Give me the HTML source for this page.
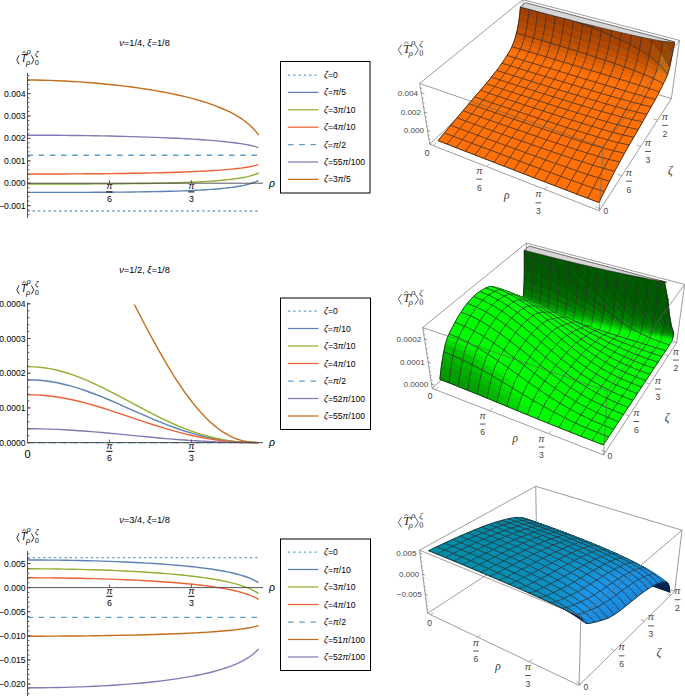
<!DOCTYPE html>
<html><head><meta charset="utf-8"><title>plots</title>
<style>html,body{margin:0;padding:0;background:#fff}svg{display:block}</style></head>
<body><svg width="685" height="696" viewBox="0 0 685 696">
<rect width="685" height="696" fill="#fff"/>
<text x="144.5" y="46.2" font-family="Liberation Sans, sans-serif" font-size="9.3" text-anchor="middle" fill="#000"><tspan font-style="italic">ν</tspan>=1/4, <tspan font-style="italic">ξ</tspan>=1/8</text><g font-family="Liberation Sans, sans-serif" fill="#000" font-style="italic" text-anchor="middle"><path d="M19.1,55.3L16.8,59.8L19.1,64.3M31.4,55.3L33.7,59.8L31.4,64.3" fill="none" stroke="#000" stroke-width="0.8"/><path d="M22.5,52.9L24.1,51.5L25.7,52.9" fill="none" stroke="#000" stroke-width="0.8"/><text x="20.8" y="62.0" font-size="10.3" text-anchor="start">T</text><text x="28.7" y="54.0" font-size="7.6">ρ</text><text x="28.2" y="64.9" font-size="7.6">ρ</text><text x="36.7" y="55.7" font-size="7.6">ζ</text><text x="36.7" y="65.2" font-size="7.4" font-style="normal">0</text></g><clipPath id="clip46"><rect x="0" y="71" width="290" height="696"/></clipPath><g fill="none" stroke-width="1.4" clip-path="url(#clip46)"><path d="M27.40,211.00 L34.86,211.00 L42.32,211.00 L49.77,211.00 L57.23,211.00 L64.69,211.00 L72.15,211.00 L79.60,211.00 L87.06,211.00 L94.52,211.00 L101.98,211.00 L109.43,211.00 L116.89,211.00 L124.35,211.00 L131.81,211.00 L139.26,211.00 L146.72,211.00 L154.18,211.00 L161.64,211.00 L169.09,211.00 L176.55,211.00 L184.01,211.00 L186.99,211.00 L189.97,211.00 L192.95,211.00 L195.94,211.00 L198.92,211.00 L201.90,211.00 L204.88,211.00 L207.86,211.00 L210.84,211.00 L213.83,211.00 L216.81,211.00 L219.79,211.00 L222.77,211.00 L225.75,211.00 L228.74,211.00 L231.72,211.00 L234.70,211.00 L237.68,211.00 L240.66,211.00 L243.64,211.00 L246.63,211.00 L249.61,211.00 L252.59,211.00 L255.57,211.00 L258.55,211.00" stroke="#5D9EC7" stroke-dasharray="2.2,3.1"/><path d="M27.40,192.40 L34.86,192.40 L42.32,192.40 L49.77,192.40 L57.23,192.39 L64.69,192.38 L72.15,192.37 L79.60,192.36 L87.06,192.33 L94.52,192.30 L101.98,192.27 L109.43,192.22 L116.89,192.17 L124.35,192.10 L131.81,192.01 L139.26,191.92 L146.72,191.80 L154.18,191.66 L161.64,191.50 L169.09,191.31 L176.55,191.09 L184.01,190.83 L186.99,190.71 L189.97,190.58 L192.95,190.45 L195.94,190.30 L198.92,190.15 L201.90,189.98 L204.88,189.81 L207.86,189.61 L210.84,189.41 L213.83,189.19 L216.81,188.94 L219.79,188.68 L222.77,188.40 L225.75,188.09 L228.74,187.74 L231.72,187.37 L234.70,186.95 L237.68,186.49 L240.66,185.97 L243.64,185.39 L246.63,184.72 L249.61,183.94 L252.59,183.03 L255.57,181.94 L258.55,180.60" stroke="#5E81B5"/><path d="M27.40,184.00 L34.86,184.00 L42.32,184.00 L49.77,184.00 L57.23,183.99 L64.69,183.99 L72.15,183.97 L79.60,183.96 L87.06,183.94 L94.52,183.91 L101.98,183.88 L109.43,183.83 L116.89,183.78 L124.35,183.72 L131.81,183.64 L139.26,183.55 L146.72,183.44 L154.18,183.31 L161.64,183.16 L169.09,182.98 L176.55,182.78 L184.01,182.53 L186.99,182.42 L189.97,182.31 L192.95,182.18 L195.94,182.05 L198.92,181.90 L201.90,181.75 L204.88,181.58 L207.86,181.40 L210.84,181.21 L213.83,181.00 L216.81,180.78 L219.79,180.53 L222.77,180.27 L225.75,179.98 L228.74,179.66 L231.72,179.31 L234.70,178.92 L237.68,178.49 L240.66,178.01 L243.64,177.46 L246.63,176.84 L249.61,176.11 L252.59,175.27 L255.57,174.25 L258.55,173.00" stroke="#8FB032"/><path d="M27.40,174.00 L34.86,174.00 L42.32,173.99 L49.77,173.98 L57.23,173.96 L64.69,173.94 L72.15,173.91 L79.60,173.87 L87.06,173.82 L94.52,173.77 L101.98,173.70 L109.43,173.62 L116.89,173.53 L124.35,173.43 L131.81,173.32 L139.26,173.19 L146.72,173.04 L154.18,172.88 L161.64,172.69 L169.09,172.49 L176.55,172.25 L184.01,171.99 L186.99,171.88 L189.97,171.76 L192.95,171.63 L195.94,171.50 L198.92,171.36 L201.90,171.21 L204.88,171.06 L207.86,170.89 L210.84,170.72 L213.83,170.53 L216.81,170.33 L219.79,170.12 L222.77,169.90 L225.75,169.65 L228.74,169.39 L231.72,169.11 L234.70,168.80 L237.68,168.47 L240.66,168.10 L243.64,167.69 L246.63,167.23 L249.61,166.72 L252.59,166.12 L255.57,165.43 L258.55,164.60" stroke="#EB6235"/><path d="M27.40,155.20 L34.86,155.20 L42.32,155.20 L49.77,155.20 L57.23,155.20 L64.69,155.20 L72.15,155.20 L79.60,155.20 L87.06,155.20 L94.52,155.20 L101.98,155.20 L109.43,155.20 L116.89,155.20 L124.35,155.20 L131.81,155.20 L139.26,155.20 L146.72,155.20 L154.18,155.20 L161.64,155.20 L169.09,155.20 L176.55,155.20 L184.01,155.20 L186.99,155.20 L189.97,155.20 L192.95,155.20 L195.94,155.20 L198.92,155.20 L201.90,155.20 L204.88,155.20 L207.86,155.20 L210.84,155.20 L213.83,155.20 L216.81,155.20 L219.79,155.20 L222.77,155.20 L225.75,155.20 L228.74,155.20 L231.72,155.20 L234.70,155.20 L237.68,155.20 L240.66,155.20 L243.64,155.20 L246.63,155.20 L249.61,155.20 L252.59,155.20 L255.57,155.20 L258.55,155.20" stroke="#5D9EC7" stroke-dasharray="5.6,5.6"/><path d="M27.40,135.20 L34.86,135.21 L42.32,135.23 L49.77,135.27 L57.23,135.32 L64.69,135.39 L72.15,135.47 L79.60,135.56 L87.06,135.67 L94.52,135.79 L101.98,135.92 L109.43,136.07 L116.89,136.24 L124.35,136.42 L131.81,136.62 L139.26,136.84 L146.72,137.08 L154.18,137.34 L161.64,137.63 L169.09,137.94 L176.55,138.29 L184.01,138.66 L186.99,138.82 L189.97,138.99 L192.95,139.17 L195.94,139.35 L198.92,139.54 L201.90,139.74 L204.88,139.95 L207.86,140.17 L210.84,140.40 L213.83,140.64 L216.81,140.90 L219.79,141.17 L222.77,141.45 L225.75,141.76 L228.74,142.08 L231.72,142.43 L234.70,142.80 L237.68,143.20 L240.66,143.64 L243.64,144.12 L246.63,144.65 L249.61,145.24 L252.59,145.91 L255.57,146.69 L258.55,147.60" stroke="#8778B3"/><path d="M27.40,80.00 L34.86,80.06 L42.32,80.20 L49.77,80.41 L57.23,80.69 L64.69,81.04 L72.15,81.45 L79.60,81.92 L87.06,82.45 L94.52,83.05 L101.98,83.71 L109.43,84.44 L116.89,85.24 L124.35,86.11 L131.81,87.06 L139.26,88.09 L146.72,89.21 L154.18,90.42 L161.64,91.74 L169.09,93.17 L176.55,94.72 L184.01,96.43 L186.99,97.15 L189.97,97.91 L192.95,98.69 L195.94,99.50 L198.92,100.35 L201.90,101.24 L204.88,102.16 L207.86,103.13 L210.84,104.14 L213.83,105.21 L216.81,106.33 L219.79,107.51 L222.77,108.75 L225.75,110.07 L228.74,111.48 L231.72,112.98 L234.70,114.59 L237.68,116.32 L240.66,118.20 L243.64,120.26 L246.63,122.52 L249.61,125.04 L252.59,127.89 L255.57,131.16 L258.55,135.00" stroke="#C56E1A"/></g><g stroke="#444" stroke-width="0.9" fill="none"><path d="M27.5,73 V218"/><path d="M27.5,183.2 H263"/><path d="M109.4,183.2 v-3"/><path d="M191.4,183.2 v-3"/><path d="M27.5,93.60 h3.2"/><path d="M27.5,116.00 h3.2"/><path d="M27.5,138.40 h3.2"/><path d="M27.5,160.80 h3.2"/><path d="M27.5,183.20 h3.2"/><path d="M27.5,205.60 h3.2"/><path d="M27.5,183.20 h1.9"/><path d="M27.5,178.72 h1.9"/><path d="M27.5,174.24 h1.9"/><path d="M27.5,169.76 h1.9"/><path d="M27.5,165.28 h1.9"/><path d="M27.5,160.80 h1.9"/><path d="M27.5,156.32 h1.9"/><path d="M27.5,151.84 h1.9"/><path d="M27.5,147.36 h1.9"/><path d="M27.5,142.88 h1.9"/><path d="M27.5,138.40 h1.9"/><path d="M27.5,133.92 h1.9"/><path d="M27.5,129.44 h1.9"/><path d="M27.5,124.96 h1.9"/><path d="M27.5,120.48 h1.9"/><path d="M27.5,116.00 h1.9"/><path d="M27.5,111.52 h1.9"/><path d="M27.5,107.04 h1.9"/><path d="M27.5,102.56 h1.9"/><path d="M27.5,98.08 h1.9"/><path d="M27.5,93.60 h1.9"/><path d="M27.5,89.12 h1.9"/><path d="M27.5,84.64 h1.9"/><path d="M27.5,80.16 h1.9"/><path d="M27.5,75.68 h1.9"/><path d="M27.5,187.68 h1.9"/><path d="M27.5,192.16 h1.9"/><path d="M27.5,196.64 h1.9"/><path d="M27.5,201.12 h1.9"/><path d="M27.5,205.60 h1.9"/><path d="M27.5,210.08 h1.9"/><path d="M27.5,214.56 h1.9"/></g><text x="25.6" y="96.65" font-family="Liberation Sans, sans-serif" font-size="8.6" text-anchor="end" fill="#000">0.004</text><text x="25.6" y="119.05" font-family="Liberation Sans, sans-serif" font-size="8.6" text-anchor="end" fill="#000">0.003</text><text x="25.6" y="141.45" font-family="Liberation Sans, sans-serif" font-size="8.6" text-anchor="end" fill="#000">0.002</text><text x="25.6" y="163.85" font-family="Liberation Sans, sans-serif" font-size="8.6" text-anchor="end" fill="#000">0.001</text><text x="25.6" y="186.25" font-family="Liberation Sans, sans-serif" font-size="8.6" text-anchor="end" fill="#000">0.000</text><text x="25.6" y="208.65" font-family="Liberation Sans, sans-serif" font-size="8.6" text-anchor="end" fill="#000">−0.001</text><g font-family="Liberation Sans, sans-serif" font-size="8.8" fill="#000" text-anchor="middle"><text x="109.4" y="189.2" font-style="italic">π</text><rect x="106.4" y="191.4" width="6.1" height="1"/><text x="109.4" y="201.6">6</text></g><g font-family="Liberation Sans, sans-serif" font-size="8.8" fill="#000" text-anchor="middle"><text x="191.4" y="189.2" font-style="italic">π</text><rect x="188.3" y="191.4" width="6.1" height="1"/><text x="191.4" y="201.6">3</text></g><text x="269" y="186.79999999999998" font-family="Liberation Sans, sans-serif" font-size="10.5" font-style="italic" fill="#000">ρ</text><text x="144.5" y="273.4" font-family="Liberation Sans, sans-serif" font-size="9.3" text-anchor="middle" fill="#000"><tspan font-style="italic">ν</tspan>=1/2, <tspan font-style="italic">ξ</tspan>=1/8</text><g font-family="Liberation Sans, sans-serif" fill="#000" font-style="italic" text-anchor="middle"><path d="M19.1,285.3L16.8,289.8L19.1,294.3M31.4,285.3L33.7,289.8L31.4,294.3" fill="none" stroke="#000" stroke-width="0.8"/><path d="M22.5,282.9L24.1,281.5L25.7,282.9" fill="none" stroke="#000" stroke-width="0.8"/><text x="20.8" y="292.0" font-size="10.3" text-anchor="start">T</text><text x="28.7" y="284.0" font-size="7.6">ρ</text><text x="28.2" y="294.9" font-size="7.6">ρ</text><text x="36.7" y="285.7" font-size="7.6">ζ</text><text x="36.7" y="295.2" font-size="7.4" font-style="normal">0</text></g><clipPath id="clip273"><rect x="0" y="304.5" width="290" height="696"/></clipPath><g fill="none" stroke-width="1.4" clip-path="url(#clip273)"><path d="M27.40,442.60 L34.86,442.60 L42.32,442.60 L49.77,442.60 L57.23,442.60 L64.69,442.60 L72.15,442.60 L79.60,442.60 L87.06,442.60 L94.52,442.60 L101.98,442.60 L109.43,442.60 L116.89,442.60 L124.35,442.60 L131.81,442.60 L139.26,442.60 L146.72,442.60 L154.18,442.60 L161.64,442.60 L169.09,442.60 L176.55,442.60 L184.01,442.60 L186.99,442.60 L189.97,442.60 L192.95,442.60 L195.94,442.60 L198.92,442.60 L201.90,442.60 L204.88,442.60 L207.86,442.60 L210.84,442.60 L213.83,442.60 L216.81,442.60 L219.79,442.60 L222.77,442.60 L225.75,442.60 L228.74,442.60 L231.72,442.60 L234.70,442.60 L237.68,442.60 L240.66,442.60 L243.64,442.60 L246.63,442.60 L249.61,442.60 L252.59,442.60 L255.57,442.60 L258.55,442.60" stroke="#5D9EC7" stroke-dasharray="2.2,3.1"/><path d="M27.40,379.79 L34.86,379.99 L42.32,380.56 L49.77,381.51 L57.23,382.81 L64.69,384.46 L72.15,386.43 L79.60,388.70 L87.06,391.22 L94.52,393.98 L101.98,396.92 L109.43,400.02 L116.89,403.23 L124.35,406.52 L131.81,409.83 L139.26,413.14 L146.72,416.40 L154.18,419.57 L161.64,422.62 L169.09,425.53 L176.55,428.26 L184.01,430.80 L186.99,431.75 L189.97,432.67 L192.95,433.55 L195.94,434.39 L198.92,435.19 L201.90,435.96 L204.88,436.68 L207.86,437.36 L210.84,438.00 L213.83,438.60 L216.81,439.16 L219.79,439.67 L222.77,440.14 L225.75,440.56 L228.74,440.94 L231.72,441.28 L234.70,441.58 L237.68,441.83 L240.66,442.04 L243.64,442.22 L246.63,442.35 L249.61,442.46 L252.59,442.53 L255.57,442.57 L258.55,442.60" stroke="#5E81B5"/><path d="M27.40,366.61 L34.86,366.84 L42.32,367.53 L49.77,368.68 L57.23,370.26 L64.69,372.26 L72.15,374.64 L79.60,377.38 L87.06,380.43 L94.52,383.77 L101.98,387.33 L109.43,391.08 L116.89,394.97 L124.35,398.94 L131.81,402.95 L139.26,406.95 L146.72,410.89 L154.18,414.73 L161.64,418.43 L169.09,421.95 L176.55,425.25 L184.01,428.32 L186.99,429.47 L189.97,430.58 L192.95,431.64 L195.94,432.66 L198.92,433.64 L201.90,434.56 L204.88,435.44 L207.86,436.26 L210.84,437.04 L213.83,437.76 L216.81,438.43 L219.79,439.05 L222.77,439.62 L225.75,440.13 L228.74,440.60 L231.72,441.01 L234.70,441.36 L237.68,441.67 L240.66,441.93 L243.64,442.14 L246.63,442.30 L249.61,442.42 L252.59,442.51 L255.57,442.57 L258.55,442.60" stroke="#8FB032"/><path d="M27.40,394.71 L34.86,394.86 L42.32,395.30 L49.77,396.02 L57.23,397.02 L64.69,398.27 L72.15,399.78 L79.60,401.50 L87.06,403.43 L94.52,405.53 L101.98,407.77 L109.43,410.14 L116.89,412.59 L124.35,415.09 L131.81,417.62 L139.26,420.14 L146.72,422.62 L154.18,425.04 L161.64,427.37 L169.09,429.59 L176.55,431.67 L184.01,433.60 L186.99,434.33 L189.97,435.03 L192.95,435.70 L195.94,436.34 L198.92,436.95 L201.90,437.53 L204.88,438.09 L207.86,438.61 L210.84,439.09 L213.83,439.55 L216.81,439.97 L219.79,440.36 L222.77,440.72 L225.75,441.05 L228.74,441.34 L231.72,441.60 L234.70,441.82 L237.68,442.01 L240.66,442.17 L243.64,442.31 L246.63,442.41 L249.61,442.49 L252.59,442.55 L255.57,442.58 L258.55,442.60" stroke="#EB6235"/><path d="M27.40,442.60 L34.86,442.60 L42.32,442.60 L49.77,442.60 L57.23,442.60 L64.69,442.60 L72.15,442.60 L79.60,442.60 L87.06,442.60 L94.52,442.60 L101.98,442.60 L109.43,442.60 L116.89,442.60 L124.35,442.60 L131.81,442.60 L139.26,442.60 L146.72,442.60 L154.18,442.60 L161.64,442.60 L169.09,442.60 L176.55,442.60 L184.01,442.60 L186.99,442.60 L189.97,442.60 L192.95,442.60 L195.94,442.60 L198.92,442.60 L201.90,442.60 L204.88,442.60 L207.86,442.60 L210.84,442.60 L213.83,442.60 L216.81,442.60 L219.79,442.60 L222.77,442.60 L225.75,442.60 L228.74,442.60 L231.72,442.60 L234.70,442.60 L237.68,442.60 L240.66,442.60 L243.64,442.60 L246.63,442.60 L249.61,442.60 L252.59,442.60 L255.57,442.60 L258.55,442.60" stroke="#5D9EC7" stroke-dasharray="5.6,5.6"/><path d="M27.40,428.72 L34.86,428.76 L42.32,428.89 L49.77,429.10 L57.23,429.39 L64.69,429.75 L72.15,430.19 L79.60,430.69 L87.06,431.25 L94.52,431.85 L101.98,432.51 L109.43,433.19 L116.89,433.90 L124.35,434.63 L131.81,435.36 L139.26,436.09 L146.72,436.81 L154.18,437.51 L161.64,438.19 L169.09,438.83 L176.55,439.43 L184.01,439.99 L186.99,440.20 L189.97,440.40 L192.95,440.60 L195.94,440.79 L198.92,440.96 L201.90,441.13 L204.88,441.29 L207.86,441.44 L210.84,441.58 L213.83,441.72 L216.81,441.84 L219.79,441.95 L222.77,442.06 L225.75,442.15 L228.74,442.23 L231.72,442.31 L234.70,442.37 L237.68,442.43 L240.66,442.48 L243.64,442.52 L246.63,442.55 L249.61,442.57 L252.59,442.58 L255.57,442.59 L258.55,442.60" stroke="#8778B3"/><path d="M27.40,168.47 L34.86,169.31 L42.32,171.81 L49.77,175.94 L57.23,181.65 L64.69,188.85 L72.15,197.45 L79.60,207.33 L87.06,218.35 L94.52,230.37 L101.98,243.23 L109.43,256.76 L116.89,270.78 L124.35,285.11 L131.81,299.58 L139.26,314.01 L146.72,328.23 L154.18,342.08 L161.64,355.41 L169.09,368.10 L176.55,380.02 L184.01,391.08 L186.99,395.24 L189.97,399.24 L192.95,403.08 L195.94,406.76 L198.92,410.26 L201.90,413.60 L204.88,416.76 L207.86,419.73 L210.84,422.53 L213.83,425.14 L216.81,427.57 L219.79,429.80 L222.77,431.85 L225.75,433.71 L228.74,435.37 L231.72,436.85 L234.70,438.14 L237.68,439.24 L240.66,440.17 L243.64,440.92 L246.63,441.52 L249.61,441.97 L252.59,442.29 L255.57,442.49 L258.55,442.60" stroke="#C56E1A"/></g><g stroke="#444" stroke-width="0.9" fill="none"><path d="M27.5,302.4 V442.6"/><path d="M27.5,442.6 H263"/><path d="M109.4,442.6 v-3"/><path d="M191.4,442.6 v-3"/><path d="M27.5,303.80 h3.2"/><path d="M27.5,338.50 h3.2"/><path d="M27.5,373.20 h3.2"/><path d="M27.5,407.90 h3.2"/><path d="M27.5,442.60 h3.2"/><path d="M27.5,442.60 h1.9"/><path d="M27.5,435.66 h1.9"/><path d="M27.5,428.72 h1.9"/><path d="M27.5,421.78 h1.9"/><path d="M27.5,414.84 h1.9"/><path d="M27.5,407.90 h1.9"/><path d="M27.5,400.96 h1.9"/><path d="M27.5,394.02 h1.9"/><path d="M27.5,387.08 h1.9"/><path d="M27.5,380.14 h1.9"/><path d="M27.5,373.20 h1.9"/><path d="M27.5,366.26 h1.9"/><path d="M27.5,359.32 h1.9"/><path d="M27.5,352.38 h1.9"/><path d="M27.5,345.44 h1.9"/><path d="M27.5,338.50 h1.9"/><path d="M27.5,331.56 h1.9"/><path d="M27.5,324.62 h1.9"/><path d="M27.5,317.68 h1.9"/><path d="M27.5,310.74 h1.9"/><path d="M27.5,303.80 h1.9"/></g><text x="25.6" y="306.85" font-family="Liberation Sans, sans-serif" font-size="8.6" text-anchor="end" fill="#000">0.0004</text><text x="25.6" y="341.55" font-family="Liberation Sans, sans-serif" font-size="8.6" text-anchor="end" fill="#000">0.0003</text><text x="25.6" y="376.25" font-family="Liberation Sans, sans-serif" font-size="8.6" text-anchor="end" fill="#000">0.0002</text><text x="25.6" y="410.95" font-family="Liberation Sans, sans-serif" font-size="8.6" text-anchor="end" fill="#000">0.0001</text><text x="25.6" y="445.65" font-family="Liberation Sans, sans-serif" font-size="8.6" text-anchor="end" fill="#000">0.0000</text><g font-family="Liberation Sans, sans-serif" font-size="8.8" fill="#000" text-anchor="middle"><text x="109.4" y="448.6" font-style="italic">π</text><rect x="106.4" y="450.8" width="6.1" height="1"/><text x="109.4" y="461.0">6</text></g><g font-family="Liberation Sans, sans-serif" font-size="8.8" fill="#000" text-anchor="middle"><text x="191.4" y="448.6" font-style="italic">π</text><rect x="188.3" y="450.8" width="6.1" height="1"/><text x="191.4" y="461.0">3</text></g><text x="269" y="446.20000000000005" font-family="Liberation Sans, sans-serif" font-size="10.5" font-style="italic" fill="#000">ρ</text><text x="27.5" y="457.6" font-family="Liberation Sans, sans-serif" font-size="11" text-anchor="middle" fill="#000">0</text><text x="144.5" y="523.4" font-family="Liberation Sans, sans-serif" font-size="9.3" text-anchor="middle" fill="#000"><tspan font-style="italic">ν</tspan>=3/4, <tspan font-style="italic">ξ</tspan>=1/8</text><g font-family="Liberation Sans, sans-serif" fill="#000" font-style="italic" text-anchor="middle"><path d="M19.1,533.3L16.8,537.8L19.1,542.3M31.4,533.3L33.7,537.8L31.4,542.3" fill="none" stroke="#000" stroke-width="0.8"/><path d="M22.5,530.9L24.1,529.5L25.7,530.9" fill="none" stroke="#000" stroke-width="0.8"/><text x="20.8" y="540.0" font-size="10.3" text-anchor="start">T</text><text x="28.7" y="532.0" font-size="7.6">ρ</text><text x="28.2" y="542.9" font-size="7.6">ρ</text><text x="36.7" y="533.7" font-size="7.6">ζ</text><text x="36.7" y="543.2" font-size="7.4" font-style="normal">0</text></g><clipPath id="clip523"><rect x="0" y="549" width="290" height="696"/></clipPath><g fill="none" stroke-width="1.4" clip-path="url(#clip523)"><path d="M27.40,557.60 L34.86,557.60 L42.32,557.60 L49.77,557.60 L57.23,557.60 L64.69,557.60 L72.15,557.60 L79.60,557.60 L87.06,557.60 L94.52,557.60 L101.98,557.60 L109.43,557.60 L116.89,557.60 L124.35,557.60 L131.81,557.60 L139.26,557.60 L146.72,557.60 L154.18,557.60 L161.64,557.60 L169.09,557.60 L176.55,557.60 L184.01,557.60 L186.99,557.60 L189.97,557.60 L192.95,557.60 L195.94,557.60 L198.92,557.60 L201.90,557.60 L204.88,557.60 L207.86,557.60 L210.84,557.60 L213.83,557.60 L216.81,557.60 L219.79,557.60 L222.77,557.60 L225.75,557.60 L228.74,557.60 L231.72,557.60 L234.70,557.60 L237.68,557.60 L240.66,557.60 L243.64,557.60 L246.63,557.60 L249.61,557.60 L252.59,557.60 L255.57,557.60 L258.55,557.60" stroke="#5D9EC7" stroke-dasharray="2.2,3.1"/><path d="M27.40,560.00 L34.86,560.01 L42.32,560.04 L49.77,560.10 L57.23,560.17 L64.69,560.27 L72.15,560.40 L79.60,560.54 L87.06,560.71 L94.52,560.91 L101.98,561.13 L109.43,561.38 L116.89,561.66 L124.35,561.97 L131.81,562.31 L139.26,562.69 L146.72,563.10 L154.18,563.56 L161.64,564.06 L169.09,564.62 L176.55,565.23 L184.01,565.90 L186.99,566.19 L189.97,566.49 L192.95,566.81 L195.94,567.14 L198.92,567.49 L201.90,567.85 L204.88,568.23 L207.86,568.63 L210.84,569.05 L213.83,569.50 L216.81,569.97 L219.79,570.46 L222.77,570.99 L225.75,571.56 L228.74,572.16 L231.72,572.80 L234.70,573.50 L237.68,574.25 L240.66,575.07 L243.64,575.98 L246.63,576.98 L249.61,578.10 L252.59,579.38 L255.57,580.85 L258.55,582.60" stroke="#5E81B5"/><path d="M27.40,568.80 L34.86,568.81 L42.32,568.85 L49.77,568.91 L57.23,568.99 L64.69,569.10 L72.15,569.24 L79.60,569.40 L87.06,569.58 L94.52,569.80 L101.98,570.04 L109.43,570.31 L116.89,570.62 L124.35,570.96 L131.81,571.33 L139.26,571.75 L146.72,572.20 L154.18,572.71 L161.64,573.26 L169.09,573.86 L176.55,574.53 L184.01,575.28 L186.99,575.59 L189.97,575.93 L192.95,576.27 L195.94,576.64 L198.92,577.02 L201.90,577.42 L204.88,577.83 L207.86,578.27 L210.84,578.74 L213.83,579.22 L216.81,579.74 L219.79,580.28 L222.77,580.86 L225.75,581.48 L228.74,582.14 L231.72,582.85 L234.70,583.61 L237.68,584.44 L240.66,585.34 L243.64,586.33 L246.63,587.43 L249.61,588.66 L252.59,590.06 L255.57,591.68 L258.55,593.60" stroke="#8FB032"/><path d="M27.40,577.80 L34.86,577.81 L42.32,577.84 L49.77,577.89 L57.23,577.97 L64.69,578.06 L72.15,578.18 L79.60,578.32 L87.06,578.48 L94.52,578.67 L101.98,578.88 L109.43,579.12 L116.89,579.39 L124.35,579.68 L131.81,580.01 L139.26,580.37 L146.72,580.77 L154.18,581.20 L161.64,581.68 L169.09,582.21 L176.55,582.79 L184.01,583.44 L186.99,583.72 L189.97,584.01 L192.95,584.31 L195.94,584.63 L198.92,584.96 L201.90,585.30 L204.88,585.67 L207.86,586.05 L210.84,586.45 L213.83,586.88 L216.81,587.33 L219.79,587.80 L222.77,588.31 L225.75,588.84 L228.74,589.42 L231.72,590.04 L234.70,590.70 L237.68,591.42 L240.66,592.21 L243.64,593.07 L246.63,594.03 L249.61,595.10 L252.59,596.32 L255.57,597.73 L258.55,599.40" stroke="#EB6235"/><path d="M27.40,617.40 L34.86,617.40 L42.32,617.40 L49.77,617.40 L57.23,617.40 L64.69,617.40 L72.15,617.40 L79.60,617.40 L87.06,617.40 L94.52,617.40 L101.98,617.40 L109.43,617.40 L116.89,617.40 L124.35,617.40 L131.81,617.40 L139.26,617.40 L146.72,617.40 L154.18,617.40 L161.64,617.40 L169.09,617.40 L176.55,617.40 L184.01,617.40 L186.99,617.40 L189.97,617.40 L192.95,617.40 L195.94,617.40 L198.92,617.40 L201.90,617.40 L204.88,617.40 L207.86,617.40 L210.84,617.40 L213.83,617.40 L216.81,617.40 L219.79,617.40 L222.77,617.40 L225.75,617.40 L228.74,617.40 L231.72,617.40 L234.70,617.40 L237.68,617.40 L240.66,617.40 L243.64,617.40 L246.63,617.40 L249.61,617.40 L252.59,617.40 L255.57,617.40 L258.55,617.40" stroke="#5D9EC7" stroke-dasharray="5.6,5.6"/><path d="M27.40,636.20 L34.86,636.19 L42.32,636.18 L49.77,636.15 L57.23,636.12 L64.69,636.07 L72.15,636.01 L79.60,635.95 L87.06,635.87 L94.52,635.77 L101.98,635.67 L109.43,635.55 L116.89,635.42 L124.35,635.28 L131.81,635.12 L139.26,634.94 L146.72,634.74 L154.18,634.53 L161.64,634.29 L169.09,634.04 L176.55,633.75 L184.01,633.43 L186.99,633.30 L189.97,633.15 L192.95,633.01 L195.94,632.85 L198.92,632.69 L201.90,632.52 L204.88,632.34 L207.86,632.15 L210.84,631.95 L213.83,631.75 L216.81,631.53 L219.79,631.29 L222.77,631.04 L225.75,630.78 L228.74,630.50 L231.72,630.20 L234.70,629.87 L237.68,629.52 L240.66,629.13 L243.64,628.71 L246.63,628.24 L249.61,627.71 L252.59,627.11 L255.57,626.42 L258.55,625.60" stroke="#C56E1A"/><path d="M27.40,687.80 L34.86,687.78 L42.32,687.73 L49.77,687.63 L57.23,687.50 L64.69,687.33 L72.15,687.12 L79.60,686.87 L87.06,686.58 L94.52,686.24 L101.98,685.86 L109.43,685.43 L116.89,684.95 L124.35,684.42 L131.81,683.83 L139.26,683.19 L146.72,682.47 L154.18,681.69 L161.64,680.83 L169.09,679.88 L176.55,678.83 L184.01,677.67 L186.99,677.17 L189.97,676.65 L192.95,676.11 L195.94,675.54 L198.92,674.94 L201.90,674.32 L204.88,673.67 L207.86,672.98 L210.84,672.26 L213.83,671.49 L216.81,670.69 L219.79,669.83 L222.77,668.93 L225.75,667.96 L228.74,666.93 L231.72,665.82 L234.70,664.63 L237.68,663.33 L240.66,661.92 L243.64,660.37 L246.63,658.65 L249.61,656.72 L252.59,654.53 L255.57,652.00 L258.55,649.00" stroke="#8778B3"/></g><g stroke="#444" stroke-width="0.9" fill="none"><path d="M27.5,551 V696"/><path d="M27.5,587.6 H263"/><path d="M109.4,587.6 v-3"/><path d="M191.4,587.6 v-3"/><path d="M27.5,563.50 h3.2"/><path d="M27.5,587.60 h3.2"/><path d="M27.5,611.70 h3.2"/><path d="M27.5,635.80 h3.2"/><path d="M27.5,659.90 h3.2"/><path d="M27.5,684.00 h3.2"/><path d="M27.5,587.60 h1.9"/><path d="M27.5,582.78 h1.9"/><path d="M27.5,577.96 h1.9"/><path d="M27.5,573.14 h1.9"/><path d="M27.5,568.32 h1.9"/><path d="M27.5,563.50 h1.9"/><path d="M27.5,558.68 h1.9"/><path d="M27.5,553.86 h1.9"/><path d="M27.5,592.42 h1.9"/><path d="M27.5,597.24 h1.9"/><path d="M27.5,602.06 h1.9"/><path d="M27.5,606.88 h1.9"/><path d="M27.5,611.70 h1.9"/><path d="M27.5,616.52 h1.9"/><path d="M27.5,621.34 h1.9"/><path d="M27.5,626.16 h1.9"/><path d="M27.5,630.98 h1.9"/><path d="M27.5,635.80 h1.9"/><path d="M27.5,640.62 h1.9"/><path d="M27.5,645.44 h1.9"/><path d="M27.5,650.26 h1.9"/><path d="M27.5,655.08 h1.9"/><path d="M27.5,659.90 h1.9"/><path d="M27.5,664.72 h1.9"/><path d="M27.5,669.54 h1.9"/><path d="M27.5,674.36 h1.9"/><path d="M27.5,679.18 h1.9"/><path d="M27.5,684.00 h1.9"/><path d="M27.5,688.82 h1.9"/><path d="M27.5,693.64 h1.9"/></g><text x="25.6" y="566.55" font-family="Liberation Sans, sans-serif" font-size="8.6" text-anchor="end" fill="#000">0.005</text><text x="25.6" y="590.65" font-family="Liberation Sans, sans-serif" font-size="8.6" text-anchor="end" fill="#000">0.000</text><text x="25.6" y="614.75" font-family="Liberation Sans, sans-serif" font-size="8.6" text-anchor="end" fill="#000">−0.005</text><text x="25.6" y="638.85" font-family="Liberation Sans, sans-serif" font-size="8.6" text-anchor="end" fill="#000">−0.010</text><text x="25.6" y="662.95" font-family="Liberation Sans, sans-serif" font-size="8.6" text-anchor="end" fill="#000">−0.015</text><text x="25.6" y="687.05" font-family="Liberation Sans, sans-serif" font-size="8.6" text-anchor="end" fill="#000">−0.020</text><g font-family="Liberation Sans, sans-serif" font-size="8.8" fill="#000" text-anchor="middle"><text x="109.4" y="593.6" font-style="italic">π</text><rect x="106.4" y="595.8" width="6.1" height="1"/><text x="109.4" y="605.9">6</text></g><g font-family="Liberation Sans, sans-serif" font-size="8.8" fill="#000" text-anchor="middle"><text x="191.4" y="593.6" font-style="italic">π</text><rect x="188.3" y="595.8" width="6.1" height="1"/><text x="191.4" y="605.9">3</text></g><text x="269" y="591.2" font-family="Liberation Sans, sans-serif" font-size="10.5" font-style="italic" fill="#000">ρ</text><rect x="280.5" y="61.5" width="89.5" height="131.5" fill="#fff" stroke="#000" stroke-width="1"/><path d="M288.0,75.0 h30.5" stroke="#5D9EC7" stroke-width="1.25" fill="none" stroke-dasharray="2.2,3.1"/><text x="324.0" y="78.0" font-family="Liberation Sans, sans-serif" font-size="8.6" fill="#000"><tspan font-style="italic">ζ</tspan>=0</text><path d="M288.0,92.4 h30.5" stroke="#5E81B5" stroke-width="1.25" fill="none"/><text x="324.0" y="95.4" font-family="Liberation Sans, sans-serif" font-size="8.6" fill="#000"><tspan font-style="italic">ζ</tspan>=<tspan font-style="italic">π</tspan>/5</text><path d="M288.0,109.8 h30.5" stroke="#8FB032" stroke-width="1.25" fill="none"/><text x="324.0" y="112.8" font-family="Liberation Sans, sans-serif" font-size="8.6" fill="#000"><tspan font-style="italic">ζ</tspan>=3<tspan font-style="italic">π</tspan>/10</text><path d="M288.0,127.19999999999999 h30.5" stroke="#EB6235" stroke-width="1.25" fill="none"/><text x="324.0" y="130.2" font-family="Liberation Sans, sans-serif" font-size="8.6" fill="#000"><tspan font-style="italic">ζ</tspan>=4<tspan font-style="italic">π</tspan>/10</text><path d="M288.0,144.6 h30.5" stroke="#5D9EC7" stroke-width="1.25" fill="none" stroke-dasharray="5.6,5.6"/><text x="324.0" y="147.6" font-family="Liberation Sans, sans-serif" font-size="8.6" fill="#000"><tspan font-style="italic">ζ</tspan>=<tspan font-style="italic">π</tspan>/2</text><path d="M288.0,162.0 h30.5" stroke="#8778B3" stroke-width="1.25" fill="none"/><text x="324.0" y="165.0" font-family="Liberation Sans, sans-serif" font-size="8.6" fill="#000"><tspan font-style="italic">ζ</tspan>=55<tspan font-style="italic">π</tspan>/100</text><path d="M288.0,179.39999999999998 h30.5" stroke="#C56E1A" stroke-width="1.25" fill="none"/><text x="324.0" y="182.39999999999998" font-family="Liberation Sans, sans-serif" font-size="8.6" fill="#000"><tspan font-style="italic">ζ</tspan>=3<tspan font-style="italic">π</tspan>/5</text><rect x="280.5" y="298" width="90" height="131.5" fill="#fff" stroke="#000" stroke-width="1"/><path d="M288.0,311.0 h30.5" stroke="#5D9EC7" stroke-width="1.25" fill="none" stroke-dasharray="2.2,3.1"/><text x="324.0" y="314.0" font-family="Liberation Sans, sans-serif" font-size="8.6" fill="#000"><tspan font-style="italic">ζ</tspan>=0</text><path d="M288.0,328.5 h30.5" stroke="#5E81B5" stroke-width="1.25" fill="none"/><text x="324.0" y="331.5" font-family="Liberation Sans, sans-serif" font-size="8.6" fill="#000"><tspan font-style="italic">ζ</tspan>=<tspan font-style="italic">π</tspan>/10</text><path d="M288.0,346.0 h30.5" stroke="#8FB032" stroke-width="1.25" fill="none"/><text x="324.0" y="349.0" font-family="Liberation Sans, sans-serif" font-size="8.6" fill="#000"><tspan font-style="italic">ζ</tspan>=3<tspan font-style="italic">π</tspan>/10</text><path d="M288.0,363.5 h30.5" stroke="#EB6235" stroke-width="1.25" fill="none"/><text x="324.0" y="366.5" font-family="Liberation Sans, sans-serif" font-size="8.6" fill="#000"><tspan font-style="italic">ζ</tspan>=4<tspan font-style="italic">π</tspan>/10</text><path d="M288.0,381.0 h30.5" stroke="#5D9EC7" stroke-width="1.25" fill="none" stroke-dasharray="5.6,5.6"/><text x="324.0" y="384.0" font-family="Liberation Sans, sans-serif" font-size="8.6" fill="#000"><tspan font-style="italic">ζ</tspan>=<tspan font-style="italic">π</tspan>/2</text><path d="M288.0,398.5 h30.5" stroke="#8778B3" stroke-width="1.25" fill="none"/><text x="324.0" y="401.5" font-family="Liberation Sans, sans-serif" font-size="8.6" fill="#000"><tspan font-style="italic">ζ</tspan>=52<tspan font-style="italic">π</tspan>/100</text><path d="M288.0,416.0 h30.5" stroke="#C56E1A" stroke-width="1.25" fill="none"/><text x="324.0" y="419.0" font-family="Liberation Sans, sans-serif" font-size="8.6" fill="#000"><tspan font-style="italic">ζ</tspan>=55<tspan font-style="italic">π</tspan>/100</text><rect x="280.5" y="539" width="90" height="131.5" fill="#fff" stroke="#000" stroke-width="1"/><path d="M288.0,552.0 h30.5" stroke="#5D9EC7" stroke-width="1.25" fill="none" stroke-dasharray="2.2,3.1"/><text x="324.0" y="555.0" font-family="Liberation Sans, sans-serif" font-size="8.6" fill="#000"><tspan font-style="italic">ζ</tspan>=0</text><path d="M288.0,569.5 h30.5" stroke="#5E81B5" stroke-width="1.25" fill="none"/><text x="324.0" y="572.5" font-family="Liberation Sans, sans-serif" font-size="8.6" fill="#000"><tspan font-style="italic">ζ</tspan>=<tspan font-style="italic">π</tspan>/10</text><path d="M288.0,587.0 h30.5" stroke="#8FB032" stroke-width="1.25" fill="none"/><text x="324.0" y="590.0" font-family="Liberation Sans, sans-serif" font-size="8.6" fill="#000"><tspan font-style="italic">ζ</tspan>=3<tspan font-style="italic">π</tspan>/10</text><path d="M288.0,604.5 h30.5" stroke="#EB6235" stroke-width="1.25" fill="none"/><text x="324.0" y="607.5" font-family="Liberation Sans, sans-serif" font-size="8.6" fill="#000"><tspan font-style="italic">ζ</tspan>=4<tspan font-style="italic">π</tspan>/10</text><path d="M288.0,622.0 h30.5" stroke="#5D9EC7" stroke-width="1.25" fill="none" stroke-dasharray="5.6,5.6"/><text x="324.0" y="625.0" font-family="Liberation Sans, sans-serif" font-size="8.6" fill="#000"><tspan font-style="italic">ζ</tspan>=<tspan font-style="italic">π</tspan>/2</text><path d="M288.0,639.5 h30.5" stroke="#C56E1A" stroke-width="1.25" fill="none"/><text x="324.0" y="642.5" font-family="Liberation Sans, sans-serif" font-size="8.6" fill="#000"><tspan font-style="italic">ζ</tspan>=51<tspan font-style="italic">π</tspan>/100</text><path d="M288.0,657.0 h30.5" stroke="#8778B3" stroke-width="1.25" fill="none"/><text x="324.0" y="660.0" font-family="Liberation Sans, sans-serif" font-size="8.6" fill="#000"><tspan font-style="italic">ζ</tspan>=52<tspan font-style="italic">π</tspan>/100</text><g stroke="#5a5a5a" stroke-width="0.6" fill="none" opacity="1"><path d="M525.0,54.6L429.7,144.2"/><path d="M525.0,54.6L671.4,98.6"/><path d="M525.0,54.6L523.0,-0.4"/></g><g fill="none" stroke-linejoin="round"><g fill="currentColor" stroke="currentColor" stroke-width=".7"><path color="#914104" d="M663.1,41.3l9,14 2.5-12.9-10-3.2z"/></g><path d="M672.1,55.3l2.5-12.9" stroke="#1a1a1a" stroke-width="0.8"/><g fill="currentColor" stroke="currentColor" stroke-width=".7"><path color="#943b01" d="M641.8,37.2l9.7,6.8 .8-4.6-9.1-3.9z"/><path color="#983e02" d="M651.5,44l9.3,10 2.3-12.7-10.8-1.9z"/><path color="#9b4705" d="M660.8,54l8.6,14.8 2.7-13.5-9-14z"/></g><path d="M651.5,44l.8-4.6M660.8,54l2.3-12.7" stroke="#2e2a2a" stroke-opacity="0.84" stroke-width="0.9"/><path d="M669.4,68.8l2.7-13.5" stroke="#1a1a1a" stroke-width="0.8"/><g fill="currentColor" stroke="currentColor" stroke-width=".7"><path color="#993c01" d="M564.4,18.5l9.1,2.6 0-.2-7.5-3.9z"/><path color="#9d3e01" d="M573.5,21.1l9.2,3.3 .1-1.1-9.3-2.4z"/><path color="#9d3e01" d="M582.7,24.4l9.3,3.4 .3-2.2-9.5-2.3z"/><path color="#9e3e02" d="M592,27.8l9.3,3.7 .6-3.5-9.6-2.4z"/><path color="#9e3f02" d="M601.3,31.5l9.5,4 .8-5.2-9.7-2.3z"/><path color="#9f3f02" d="M610.8,35.5l9.5,4.3 1.2-7.1-9.9-2.4z"/><path color="#a04002" d="M620.3,39.8l9.6,4.7 1.7-9.5-10.1-2.3z"/><path color="#a14102" d="M629.9,44.5l9.6,5.3 2.3-12.6-10.2-2.2z"/><path color="#a54403" d="M639.5,49.8l9.6,6.1 2.4-11.9-9.7-6.8z"/><path color="#ad4c04" d="M649.1,55.9l9.5,7.6 2.2-9.5-9.3-10z"/><path color="#bf6a0d" d="M658.6,63.5l9,10.9 1.8-5.6-8.6-14.8z"/></g><path d="M573.5,21.1l0-.2M582.7,24.4l.1-1.1M592,27.8l.3-2.2M601.3,31.5l.6-3.5M610.8,35.5l.8-5.2M620.3,39.8l1.2-7.1M629.9,44.5l1.7-9.5M639.5,49.8l2.3-12.6M649.1,55.9l2.4-11.9M658.6,63.5l2.2-9.5" stroke="#2e2a2a" stroke-opacity="0.84" stroke-width="0.9"/><path d="M667.6,74.4l1.8-5.6" stroke="#1a1a1a" stroke-width="0.8"/><g fill="currentColor" stroke="currentColor" stroke-width=".7"><path color="#a14002" d="M519.7,14.8l8.5,2.4 .8-7.9-8.6-2.3z"/><path color="#a14002" d="M528.2,17.2l8.6,2.5 .8-8.1-8.6-2.3z"/><path color="#a14002" d="M536.8,19.7l8.7,2.5 .9-8.3-8.8-2.3z"/><path color="#a14002" d="M545.5,22.2l8.8,2.7 1-8.7-8.9-2.3z"/><path color="#a14002" d="M554.3,24.9l8.9,2.8 1.2-9.2-9.1-2.3z"/><path color="#a24002" d="M563.2,27.7l9,3 1.3-9.6-9.1-2.6z"/><path color="#a24102" d="M572.2,30.7l9.1,3 1.4-9.3-9.2-3.3z"/><path color="#a34102" d="M581.3,33.7l9.2,3.3 1.5-9.2-9.3-3.4z"/><path color="#a44202" d="M590.5,37l9.4,3.4 1.4-8.9-9.3-3.7z"/><path color="#a64302" d="M599.9,40.4l9.4,3.6 1.5-8.5-9.5-4z"/><path color="#a84402" d="M609.3,44l9.5,3.9 1.5-8.1-9.5-4.3z"/><path color="#ab4502" d="M618.8,47.9l9.5,4.2 1.6-7.6-9.6-4.7z"/><path color="#ae4803" d="M628.3,52.1l9.7,4.6 1.5-6.9-9.6-5.3z"/><path color="#b44c03" d="M638,56.7l9.6,5.3 1.5-6.1-9.6-6.1z"/><path color="#be5405" d="M647.6,62l9.6,6.3 1.4-4.8-9.5-7.6z"/><path color="#d2710c" d="M657.2,68.3l9.3,8.8 1.1-2.7-9-10.9z"/></g><path d="M520.4,7l8.6,2.3 8.6,2.3 8.8,2.3 8.9,2.3 9.1,2.3 9.1,2.6 9.2,3.3 9.3,3.4 9.3,3.7 9.5,4 9.5,4.3 9.6,4.7 9.6,5.3 9.6,6.1 9.5,7.6 9,10.9M528.2,17.2l.8-7.9M536.8,19.7l.8-8.1M545.5,22.2l.9-8.3M554.3,24.9l1-8.7M563.2,27.7l1.2-9.2M572.2,30.7l1.3-9.6M581.3,33.7l1.4-9.3M590.5,37l1.5-9.2M599.9,40.4l1.4-8.9M609.3,44l1.5-8.5M618.8,47.9l1.5-8.1M628.3,52.1l1.6-7.6M638,56.7l1.5-6.9M647.6,62l1.5-6.1M657.2,68.3l1.4-4.8" stroke="#2e2a2a" stroke-opacity="0.84" stroke-width="0.9"/><path d="M519.7,14.8l.7-7.8M666.5,77.1l1.1-2.7" stroke="#1a1a1a" stroke-width="0.8"/><g fill="currentColor" stroke="currentColor" stroke-width=".7"><path color="#aa4502" d="M518.7,22.3l8.4,2.4 1.1-7.5-8.5-2.4z"/><path color="#aa4502" d="M527.1,24.7l8.6,2.5 1.1-7.5-8.6-2.5z"/><path color="#ab4502" d="M535.7,27.2l8.6,2.5 1.2-7.5-8.7-2.5z"/><path color="#ab4502" d="M544.3,29.7l8.8,2.7 1.2-7.5-8.8-2.7z"/><path color="#ac4502" d="M553.1,32.4l8.9,2.7 1.2-7.4-8.9-2.8z"/><path color="#ac4602" d="M562,35.1l8.9,2.9 1.3-7.3-9-3z"/><path color="#ad4602" d="M570.9,38l9.1,2.9 1.3-7.2-9.1-3z"/><path color="#ae4702" d="M580,40.9l9.2,3.1 1.3-7-9.2-3.3z"/><path color="#b04802" d="M589.2,44l9.3,3.2 1.4-6.8-9.4-3.4z"/><path color="#b24902" d="M598.5,47.2l9.4,3.4 1.4-6.6-9.4-3.6z"/><path color="#b44a03" d="M607.9,50.6l9.5,3.6 1.4-6.3-9.5-3.9z"/><path color="#b84c03" d="M617.4,54.2l9.5,3.8 1.4-5.9-9.5-4.2z"/><path color="#bc4f03" d="M626.9,58l9.7,4.2 1.4-5.5-9.7-4.6z"/><path color="#c35304" d="M636.6,62.2l9.7,4.6 1.3-4.8-9.6-5.3z"/><path color="#ce5c05" d="M646.3,66.8l9.7,5.4 1.2-3.9-9.6-6.3z"/><path color="#e2740b" d="M656,72.2l9.5,7.3 1-2.4-9.3-8.8z"/></g><path d="M527.1,24.7l1.1-7.5M535.7,27.2l1.1-7.5M544.3,29.7l1.2-7.5M553.1,32.4l1.2-7.5M562,35.1l1.2-7.4M570.9,38l1.3-7.3M580,40.9l1.3-7.2M589.2,44l1.3-7M598.5,47.2l1.4-6.8M607.9,50.6l1.4-6.6M617.4,54.2l1.4-6.3M626.9,58l1.4-5.9M636.6,62.2l1.4-5.5M646.3,66.8l1.3-4.8M656,72.2l1.2-3.9" stroke="#2e2a2a" stroke-opacity="0.84" stroke-width="0.9"/><path d="M518.7,22.3l1-7.5M665.5,79.5l1-2.4" stroke="#1a1a1a" stroke-width="0.8"/><g fill="currentColor" stroke="currentColor" stroke-width=".7"><path color="#b64b03" d="M517.6,28.3l8.5,2.4 1-6-8.4-2.4z"/><path color="#b64b03" d="M526.1,30.7l8.5,2.5 1.1-6-8.6-2.5z"/><path color="#b64b03" d="M534.6,33.2l8.6,2.5 1.1-6-8.6-2.5z"/><path color="#b74b03" d="M543.2,35.7l8.7,2.6 1.2-5.9-8.8-2.7z"/><path color="#b84b03" d="M551.9,38.3l8.9,2.7 1.2-5.9-8.9-2.7z"/><path color="#b84c03" d="M560.8,41l8.9,2.8 1.2-5.8-8.9-2.9z"/><path color="#b94c03" d="M569.7,43.8l9.1,2.9 1.2-5.8-9.1-2.9z"/><path color="#bb4d03" d="M578.8,46.7l9.1,3 1.3-5.7-9.2-3.1z"/><path color="#bc4e03" d="M587.9,49.7l9.3,3 1.3-5.5-9.3-3.2z"/><path color="#bf4f03" d="M597.2,52.7l9.4,3.2 1.3-5.3-9.4-3.4z"/><path color="#c15103" d="M606.6,55.9l9.4,3.4 1.4-5.1-9.5-3.6z"/><path color="#c55303" d="M616,59.3l9.6,3.5 1.3-4.8-9.5-3.8z"/><path color="#ca5604" d="M625.6,62.8l9.7,3.8 1.3-4.4-9.7-4.2z"/><path color="#d15a04" d="M635.3,66.6l9.7,4.2 1.3-4-9.7-4.6z"/><path color="#dc6206" d="M645,70.8l9.8,4.7 1.2-3.3-9.7-5.4z"/><path color="#ee740a" d="M654.8,75.5l9.7,6.1 1-2.1-9.5-7.3z"/></g><path d="M526.1,30.7l1-6M534.6,33.2l1.1-6M543.2,35.7l1.1-6M551.9,38.3l1.2-5.9M560.8,41l1.2-5.9M569.7,43.8l1.2-5.8M578.8,46.7l1.2-5.8M587.9,49.7l1.3-5.7M597.2,52.7l1.3-5.5M606.6,55.9l1.3-5.3M616,59.3l1.4-5.1M625.6,62.8l1.3-4.8M635.3,66.6l1.3-4.4M645,70.8l1.3-4M654.8,75.5l1.2-3.3" stroke="#2e2a2a" stroke-opacity="0.84" stroke-width="0.9"/><path d="M517.6,28.3l1.1-6M664.5,81.6l1-2.1" stroke="#1a1a1a" stroke-width="0.8"/><g fill="currentColor" stroke="currentColor" stroke-width=".7"><path color="#c25103" d="M516.5,33.2l8.4,2.4 1.2-4.9-8.5-2.4z"/><path color="#c25103" d="M524.9,35.6l8.5,2.5 1.2-4.9-8.5-2.5z"/><path color="#c35103" d="M533.4,38.1l8.6,2.5 1.2-4.9-8.6-2.5z"/><path color="#c35103" d="M542,40.6l8.8,2.6 1.1-4.9-8.7-2.6z"/><path color="#c45203" d="M550.8,43.2l8.8,2.7 1.2-4.9-8.9-2.7z"/><path color="#c55203" d="M559.6,45.9l8.9,2.7 1.2-4.8-8.9-2.8z"/><path color="#c65303" d="M568.5,48.6l9,2.8 1.3-4.7-9.1-2.9z"/><path color="#c75403" d="M577.5,51.4l9.2,2.9 1.2-4.6-9.1-3z"/><path color="#c95404" d="M586.7,54.3l9.2,3 1.3-4.6-9.3-3z"/><path color="#cb5604" d="M595.9,57.3l9.4,3.1 1.3-4.5-9.4-3.2z"/><path color="#ce5704" d="M605.3,60.4l9.5,3.2 1.2-4.3-9.4-3.4z"/><path color="#d25904" d="M614.8,63.6l9.6,3.3 1.2-4.1-9.6-3.5z"/><path color="#d65c04" d="M624.4,66.9l9.6,3.6 1.3-3.9-9.7-3.8z"/><path color="#dd6005" d="M634,70.5l9.8,3.8 1.2-3.5-9.7-4.2z"/><path color="#e76606" d="M643.8,74.3l9.8,4.2 1.2-3-9.8-4.7z"/><path color="#f57308" d="M653.6,78.5l9.8,5.2 1.1-2.1-9.7-6.1z"/></g><path d="M524.9,35.6l1.2-4.9M533.4,38.1l1.2-4.9M542,40.6l1.2-4.9M550.8,43.2l1.1-4.9M559.6,45.9l1.2-4.9M568.5,48.6l1.2-4.8M577.5,51.4l1.3-4.7M586.7,54.3l1.2-4.6M595.9,57.3l1.3-4.6M605.3,60.4l1.3-4.5M614.8,63.6l1.2-4.3M624.4,66.9l1.2-4.1M634,70.5l1.3-3.9M643.8,74.3l1.2-3.5M653.6,78.5l1.2-3" stroke="#2e2a2a" stroke-opacity="0.84" stroke-width="0.9"/><path d="M516.5,33.2l1.1-4.9M663.4,83.7l1.1-2.1" stroke="#1a1a1a" stroke-width="0.8"/><g fill="currentColor" stroke="currentColor" stroke-width=".7"><path color="#d05804" d="M515,38.5l8.4,2.4 1.5-5.3-8.4-2.4z"/><path color="#d05804" d="M523.4,40.9l8.5,2.5 1.5-5.3-8.5-2.5z"/><path color="#d15804" d="M531.9,43.4l8.6,2.6 1.5-5.4-8.6-2.5z"/><path color="#d15904" d="M540.5,46l8.7,2.6 1.6-5.4-8.8-2.6z"/><path color="#d25904" d="M549.2,48.6l8.8,2.6 1.6-5.3-8.8-2.7z"/><path color="#d35904" d="M558,51.2l8.9,2.7 1.6-5.3-8.9-2.7z"/><path color="#d45a04" d="M566.9,53.9l9,2.8 1.6-5.3-9-2.8z"/><path color="#d55b04" d="M575.9,56.7l9.2,2.8 1.6-5.2-9.2-2.9z"/><path color="#d75b04" d="M585.1,59.5l9.2,2.9 1.6-5.1-9.2-3z"/><path color="#d85c04" d="M594.3,62.4l9.4,3 1.6-5-9.4-3.1z"/><path color="#db5e04" d="M603.7,65.4l9.5,3 1.6-4.8-9.5-3.2z"/><path color="#de5f05" d="M613.2,68.4l9.6,3.2 1.6-4.7-9.6-3.3z"/><path color="#e26105" d="M622.8,71.6l9.6,3.3 1.6-4.4-9.6-3.6z"/><path color="#e76405" d="M632.4,74.9l9.9,3.5 1.5-4.1-9.8-3.8z"/><path color="#ee6906" d="M642.3,78.4l9.8,3.7 1.5-3.6-9.8-4.2z"/><path color="#f97107" d="M652.1,82.1l10,4.4 1.3-2.8-9.8-5.2z"/></g><path d="M516.5,33.2l8.4,2.4 8.5,2.5 8.6,2.5 8.8,2.6 8.8,2.7 8.9,2.7 9,2.8 9.2,2.9 9.2,3 9.4,3.1 9.5,3.2 9.6,3.3 9.6,3.6 9.8,3.8 9.8,4.2 9.8,5.2M523.4,40.9l1.5-5.3M531.9,43.4l1.5-5.3M540.5,46l1.5-5.4M549.2,48.6l1.6-5.4M558,51.2l1.6-5.3M566.9,53.9l1.6-5.3M575.9,56.7l1.6-5.3M585.1,59.5l1.6-5.2M594.3,62.4l1.6-5.1M603.7,65.4l1.6-5M613.2,68.4l1.6-4.8M622.8,71.6l1.6-4.7M632.4,74.9l1.6-4.4M642.3,78.4l1.5-4.1M652.1,82.1l1.5-3.6" stroke="#2e2a2a" stroke-opacity="0.84" stroke-width="0.9"/><path d="M515,38.5l1.5-5.3M662.1,86.5l1.3-2.8" stroke="#1a1a1a" stroke-width="0.8"/><g fill="currentColor" stroke="currentColor" stroke-width=".7"><path color="#df5f04" d="M513.5,42.9l8.4,2.5 1.5-4.5-8.4-2.4z"/><path color="#df6005" d="M521.9,45.4l8.4,2.5 1.6-4.5-8.5-2.5z"/><path color="#df6005" d="M530.3,47.9l8.6,2.5 1.6-4.4-8.6-2.6z"/><path color="#e06005" d="M538.9,50.4l8.7,2.6 1.6-4.4-8.7-2.6z"/><path color="#e06005" d="M547.6,53l8.8,2.7 1.6-4.5-8.8-2.6z"/><path color="#e16105" d="M556.4,55.7l8.9,2.7 1.6-4.5-8.9-2.7z"/><path color="#e26105" d="M565.3,58.4l9.1,2.7 1.5-4.4-9-2.8z"/><path color="#e36205" d="M574.4,61.1l9.1,2.8 1.6-4.4-9.2-2.8z"/><path color="#e46205" d="M583.5,63.9l9.2,2.8 1.6-4.3-9.2-2.9z"/><path color="#e66305" d="M592.7,66.7l9.4,2.9 1.6-4.2-9.4-3z"/><path color="#e86405" d="M602.1,69.6l9.5,3 1.6-4.2-9.5-3z"/><path color="#ea6505" d="M611.6,72.6l9.6,3 1.6-4-9.6-3.2z"/><path color="#ed6705" d="M621.2,75.6l9.7,3.2 1.5-3.9-9.6-3.3z"/><path color="#f16905" d="M630.9,78.8l9.8,3.2 1.6-3.6-9.9-3.5z"/><path color="#f76c06" d="M640.7,82l10,3.5 1.4-3.4-9.8-3.7z"/><path color="#fe7106" d="M650.7,85.5l10,3.8 1.4-2.8-10-4.4z"/></g><path d="M521.9,45.4l1.5-4.5M530.3,47.9l1.6-4.5M538.9,50.4l1.6-4.4M547.6,53l1.6-4.4M556.4,55.7l1.6-4.5M565.3,58.4l1.6-4.5M574.4,61.1l1.5-4.4M583.5,63.9l1.6-4.4M592.7,66.7l1.6-4.3M602.1,69.6l1.6-4.2M611.6,72.6l1.6-4.2M621.2,75.6l1.6-4M630.9,78.8l1.5-3.9M640.7,82l1.6-3.6M650.7,85.5l1.4-3.4" stroke="#2e2a2a" stroke-opacity="0.84" stroke-width="0.9"/><path d="M513.5,42.9l1.5-4.4M660.7,89.3l1.4-2.8" stroke="#1a1a1a" stroke-width="0.8"/><g fill="currentColor" stroke="currentColor" stroke-width=".7"><path color="#eb6605" d="M511.9,46.7l8.4,2.5 1.6-3.8-8.4-2.5z"/><path color="#eb6605" d="M520.3,49.2l8.5,2.5 1.5-3.8-8.4-2.5z"/><path color="#eb6605" d="M528.8,51.7l8.5,2.6 1.6-3.9-8.6-2.5z"/><path color="#eb6605" d="M537.3,54.3l8.7,2.6 1.6-3.9-8.7-2.6z"/><path color="#ec6605" d="M546,56.9l8.8,2.6 1.6-3.8-8.8-2.7z"/><path color="#ec6605" d="M554.8,59.5l9,2.7 1.5-3.8-8.9-2.7z"/><path color="#ed6705" d="M563.8,62.2l9,2.7 1.6-3.8-9.1-2.7z"/><path color="#ee6705" d="M572.8,64.9l9.1,2.8 1.6-3.8-9.1-2.8z"/><path color="#ef6805" d="M581.9,67.7l9.3,2.8 1.5-3.8-9.2-2.8z"/><path color="#f06805" d="M591.2,70.5l9.3,2.8 1.6-3.7-9.4-2.9z"/><path color="#f26905" d="M600.5,73.3l9.5,2.9 1.6-3.6-9.5-3z"/><path color="#f46a05" d="M610,76.2l9.7,3 1.5-3.6-9.6-3z"/><path color="#f66b06" d="M619.7,79.2l9.7,3 1.5-3.4-9.7-3.2z"/><path color="#f96d06" d="M629.4,82.2l9.9,3.1 1.4-3.3-9.8-3.2z"/><path color="#fc6f06" d="M639.3,85.3l9.9,3.2 1.5-3-10-3.5z"/><path color="#ff7006" d="M649.2,88.5l10.1,3.4 1.4-2.6-10-3.8z"/></g><path d="M520.3,49.2l1.6-3.8M528.8,51.7l1.5-3.8M537.3,54.3l1.6-3.9M546,56.9l1.6-3.9M554.8,59.5l1.6-3.8M563.8,62.2l1.5-3.8M572.8,64.9l1.6-3.8M581.9,67.7l1.6-3.8M591.2,70.5l1.5-3.8M600.5,73.3l1.6-3.7M610,76.2l1.6-3.6M619.7,79.2l1.5-3.6M629.4,82.2l1.5-3.4M639.3,85.3l1.4-3.3M649.2,88.5l1.5-3" stroke="#2e2a2a" stroke-opacity="0.84" stroke-width="0.9"/><path d="M511.9,46.7l1.6-3.8M659.3,91.9l1.4-2.6" stroke="#1a1a1a" stroke-width="0.8"/><g fill="currentColor" stroke="currentColor" stroke-width=".7"><path color="#f46a05" d="M510.3,50l8.4,2.5 1.6-3.3-8.4-2.5z"/><path color="#f46a05" d="M518.7,52.5l8.5,2.5 1.6-3.3-8.5-2.5z"/><path color="#f46a05" d="M527.2,55l8.5,2.6 1.6-3.3-8.5-2.6z"/><path color="#f46a05" d="M535.7,57.6l8.7,2.6 1.6-3.3-8.7-2.6z"/><path color="#f56b06" d="M544.4,60.2l8.9,2.7 1.5-3.4-8.8-2.6z"/><path color="#f56b06" d="M553.3,62.9l8.9,2.7 1.6-3.4-9-2.7z"/><path color="#f66b06" d="M562.2,65.6l9,2.7 1.6-3.4-9-2.7z"/><path color="#f66b06" d="M571.2,68.3l9.2,2.7 1.5-3.3-9.1-2.8z"/><path color="#f76c06" d="M580.4,71l9.2,2.8 1.6-3.3-9.3-2.8z"/><path color="#f86c06" d="M589.6,73.8l9.4,2.8 1.5-3.3-9.3-2.8z"/><path color="#f96d06" d="M599,76.6l9.5,2.9 1.5-3.3-9.5-2.9z"/><path color="#fa6e06" d="M608.5,79.5l9.7,2.9 1.5-3.2-9.7-3z"/><path color="#fc6e06" d="M618.2,82.4l9.7,3 1.5-3.2-9.7-3z"/><path color="#fe6f06" d="M627.9,85.4l9.9,3 1.5-3.1-9.9-3.1z"/><path color="#ff7006" d="M637.8,88.4l10,3 1.4-2.9-9.9-3.2z"/><path color="#ff7006" d="M647.8,91.4l10.2,3.1 1.3-2.6-10.1-3.4z"/></g><path d="M511.9,46.7l8.4,2.5 8.5,2.5 8.5,2.6 8.7,2.6 8.8,2.6 9,2.7 9,2.7 9.1,2.8 9.3,2.8 9.3,2.8 9.5,2.9 9.7,3 9.7,3 9.9,3.1 9.9,3.2 10.1,3.4M518.7,52.5l1.6-3.3M527.2,55l1.6-3.3M535.7,57.6l1.6-3.3M544.4,60.2l1.6-3.3M553.3,62.9l1.5-3.4M562.2,65.6l1.6-3.4M571.2,68.3l1.6-3.4M580.4,71l1.5-3.3M589.6,73.8l1.6-3.3M599,76.6l1.5-3.3M608.5,79.5l1.5-3.3M618.2,82.4l1.5-3.2M627.9,85.4l1.5-3.2M637.8,88.4l1.5-3.1M647.8,91.4l1.4-2.9" stroke="#2e2a2a" stroke-opacity="0.84" stroke-width="0.9"/><path d="M510.3,50l1.6-3.3M658,94.5l1.3-2.6" stroke="#1a1a1a" stroke-width="0.8"/><g fill="currentColor" stroke="currentColor" stroke-width=".7"><path color="#ff7006" d="M508.6,52.8l8.4,2.5 1.7-2.8-8.4-2.5z"/><path color="#ff7006" d="M517,55.3l8.5,2.6 1.7-2.9-8.5-2.5z"/><path color="#ff7006" d="M525.5,57.9l8.6,2.6 1.6-2.9-8.5-2.6z"/><path color="#ff7006" d="M534.1,60.5l8.7,2.6 1.6-2.9-8.7-2.6z"/><path color="#ff7006" d="M542.8,63.1l8.9,2.7 1.6-2.9-8.9-2.7z"/><path color="#ff7006" d="M551.7,65.8l8.9,2.6 1.6-2.8-8.9-2.7z"/><path color="#ff7006" d="M560.6,68.4l9,2.8 1.6-2.9-9-2.7z"/><path color="#ff7006" d="M569.6,71.2l9.2,2.7 1.6-2.9-9.2-2.7z"/><path color="#ff7006" d="M578.8,73.9l9.3,2.8 1.5-2.9-9.2-2.8z"/><path color="#ff7006" d="M588.1,76.7l9.4,2.8 1.5-2.9-9.4-2.8z"/><path color="#ff7006" d="M597.5,79.5l9.5,2.9 1.5-2.9-9.5-2.9z"/><path color="#ff7006" d="M607,82.4l9.7,2.9 1.5-2.9-9.7-2.9z"/><path color="#ff7006" d="M616.7,85.3l9.7,2.9 1.5-2.8-9.7-3z"/><path color="#ff7006" d="M626.4,88.2l10,2.9 1.4-2.7-9.9-3z"/><path color="#ff7006" d="M636.4,91.1l10,3 1.4-2.7-10-3z"/><path color="#ff7006" d="M646.4,94.1l10.2,2.9 1.4-2.5-10.2-3.1z"/></g><path d="M517,55.3l1.7-2.8M525.5,57.9l1.7-2.9M534.1,60.5l1.6-2.9M542.8,63.1l1.6-2.9M551.7,65.8l1.6-2.9M560.6,68.4l1.6-2.8M569.6,71.2l1.6-2.9M578.8,73.9l1.6-2.9M588.1,76.7l1.5-2.9M597.5,79.5l1.5-2.9M607,82.4l1.5-2.9M616.7,85.3l1.5-2.9M626.4,88.2l1.5-2.8M636.4,91.1l1.4-2.7M646.4,94.1l1.4-2.7" stroke="#2e2a2a" stroke-opacity="0.84" stroke-width="0.9"/><path d="M508.6,52.8l1.7-2.8M656.6,97l1.4-2.5" stroke="#1a1a1a" stroke-width="0.8"/><g fill="currentColor" stroke="currentColor" stroke-width=".7"><path color="#ff7006" d="M507,55.4l8.4,2.6 1.6-2.7-8.4-2.5z"/><path color="#ff7006" d="M515.4,58l8.5,2.6 1.6-2.7-8.5-2.6z"/><path color="#ff7006" d="M523.9,60.6l8.6,2.6 1.6-2.7-8.6-2.6z"/><path color="#ff7006" d="M532.5,63.2l8.7,2.6 1.6-2.7-8.7-2.6z"/><path color="#ff7006" d="M541.2,65.8l8.9,2.7 1.6-2.7-8.9-2.7z"/><path color="#ff7006" d="M550.1,68.5l8.9,2.7 1.6-2.8-8.9-2.6z"/><path color="#ff7006" d="M559,71.2l9.1,2.7 1.5-2.7-9-2.8z"/><path color="#ff7006" d="M568.1,73.9l9.1,2.8 1.6-2.8-9.2-2.7z"/><path color="#ff7006" d="M577.2,76.7l9.3,2.8 1.6-2.8-9.3-2.8z"/><path color="#ff7006" d="M586.5,79.5l9.5,2.8 1.5-2.8-9.4-2.8z"/><path color="#ff7006" d="M596,82.3l9.5,2.9 1.5-2.8-9.5-2.9z"/><path color="#ff7006" d="M605.5,85.2l9.7,2.8 1.5-2.7-9.7-2.9z"/><path color="#ff7006" d="M615.2,88l9.8,2.9 1.4-2.7-9.7-2.9z"/><path color="#ff7006" d="M625,90.9l9.9,2.9 1.5-2.7-10-2.9z"/><path color="#ff7006" d="M634.9,93.8l10.1,2.9 1.4-2.6-10-3z"/><path color="#ff7006" d="M645,96.7l10.3,2.8 1.3-2.5-10.2-2.9z"/></g><path d="M515.4,58l1.6-2.7M523.9,60.6l1.6-2.7M532.5,63.2l1.6-2.7M541.2,65.8l1.6-2.7M550.1,68.5l1.6-2.7M559,71.2l1.6-2.8M568.1,73.9l1.5-2.7M577.2,76.7l1.6-2.8M586.5,79.5l1.6-2.8M596,82.3l1.5-2.8M605.5,85.2l1.5-2.8M615.2,88l1.5-2.7M625,90.9l1.4-2.7M634.9,93.8l1.5-2.7M645,96.7l1.4-2.6" stroke="#2e2a2a" stroke-opacity="0.84" stroke-width="0.9"/><path d="M507,55.4l1.6-2.6M655.3,99.5l1.3-2.5" stroke="#1a1a1a" stroke-width="0.8"/><g fill="currentColor" stroke="currentColor" stroke-width=".7"><path color="#ff7006" d="M504.5,59.4l8.4,2.5 2.5-3.9-8.4-2.6z"/><path color="#ff7006" d="M512.9,61.9l8.5,2.7 2.5-4-8.5-2.6z"/><path color="#ff7006" d="M521.4,64.6l8.6,2.6 2.5-4-8.6-2.6z"/><path color="#ff7006" d="M530,67.2l8.8,2.7 2.4-4.1-8.7-2.6z"/><path color="#ff7006" d="M538.8,69.9l8.8,2.7 2.5-4.1-8.9-2.7z"/><path color="#ff7006" d="M547.6,72.6l9,2.7 2.4-4.1-8.9-2.7z"/><path color="#ff7006" d="M556.6,75.3l9.1,2.7 2.4-4.1-9.1-2.7z"/><path color="#ff7006" d="M565.7,78l9.2,2.8 2.3-4.1-9.1-2.8z"/><path color="#ff7006" d="M574.9,80.8l9.3,2.8 2.3-4.1-9.3-2.8z"/><path color="#ff7006" d="M584.2,83.6l9.4,2.8 2.4-4.1-9.5-2.8z"/><path color="#ff7006" d="M593.6,86.4l9.6,2.9 2.3-4.1-9.5-2.9z"/><path color="#ff7006" d="M603.2,89.3l9.7,2.8 2.3-4.1-9.7-2.8z"/><path color="#ff7006" d="M612.9,92.1l9.9,2.9 2.2-4.1-9.8-2.9z"/><path color="#ff7006" d="M622.8,95l10,2.8 2.1-4-9.9-2.9z"/><path color="#ff7006" d="M632.8,97.8l10.1,2.8 2.1-3.9-10.1-2.9z"/><path color="#ff7006" d="M642.9,100.6l10.3,2.6 2.1-3.7-10.3-2.8z"/></g><path d="M507,55.4l8.4,2.6 8.5,2.6 8.6,2.6 8.7,2.6 8.9,2.7 8.9,2.7 9.1,2.7 9.1,2.8 9.3,2.8 9.5,2.8 9.5,2.9 9.7,2.8 9.8,2.9 9.9,2.9 10.1,2.9 10.3,2.8M512.9,61.9l2.5-3.9M521.4,64.6l2.5-4M530,67.2l2.5-4M538.8,69.9l2.4-4.1M547.6,72.6l2.5-4.1M556.6,75.3l2.4-4.1M565.7,78l2.4-4.1M574.9,80.8l2.3-4.1M584.2,83.6l2.3-4.1M593.6,86.4l2.4-4.1M603.2,89.3l2.3-4.1M612.9,92.1l2.3-4.1M622.8,95l2.2-4.1M632.8,97.8l2.1-4M642.9,100.6l2.1-3.9" stroke="#2e2a2a" stroke-opacity="0.84" stroke-width="0.9"/><path d="M504.5,59.4l2.5-4M653.2,103.2l2.1-3.7" stroke="#1a1a1a" stroke-width="0.8"/><g fill="currentColor" stroke="currentColor" stroke-width=".7"><path color="#ff7006" d="M501.9,63.2l8.5,2.6 2.5-3.9-8.4-2.5z"/><path color="#ff7006" d="M510.4,65.8l8.5,2.6 2.5-3.8-8.5-2.7z"/><path color="#ff7006" d="M518.9,68.4l8.7,2.7 2.4-3.9-8.6-2.6z"/><path color="#ff7006" d="M527.6,71.1l8.7,2.7 2.5-3.9-8.8-2.7z"/><path color="#ff7006" d="M536.3,73.8l8.9,2.7 2.4-3.9-8.8-2.7z"/><path color="#ff7006" d="M545.2,76.5l9,2.8 2.4-4-9-2.7z"/><path color="#ff7006" d="M554.2,79.3l9.1,2.7 2.4-4-9.1-2.7z"/><path color="#ff7006" d="M563.3,82l9.2,2.8 2.4-4-9.2-2.8z"/><path color="#ff7006" d="M572.5,84.8l9.4,2.8 2.3-4-9.3-2.8z"/><path color="#ff7006" d="M581.9,87.6l9.4,2.8 2.3-4-9.4-2.8z"/><path color="#ff7006" d="M591.3,90.4l9.6,2.9 2.3-4-9.6-2.9z"/><path color="#ff7006" d="M600.9,93.3l9.8,2.8 2.2-4-9.7-2.8z"/><path color="#ff7006" d="M610.7,96.1l9.9,2.8 2.2-3.9-9.9-2.9z"/><path color="#ff7006" d="M620.6,98.9l10,2.8 2.2-3.9-10-2.8z"/><path color="#ff7006" d="M630.6,101.7l10.2,2.7 2.1-3.8-10.1-2.8z"/><path color="#ff7006" d="M640.8,104.4l10.3,2.5 2.1-3.7-10.3-2.6z"/></g><path d="M510.4,65.8l2.5-3.9M518.9,68.4l2.5-3.8M527.6,71.1l2.4-3.9M536.3,73.8l2.5-3.9M545.2,76.5l2.4-3.9M554.2,79.3l2.4-4M563.3,82l2.4-4M572.5,84.8l2.4-4M581.9,87.6l2.3-4M591.3,90.4l2.3-4M600.9,93.3l2.3-4M610.7,96.1l2.2-4M620.6,98.9l2.2-3.9M630.6,101.7l2.2-3.9M640.8,104.4l2.1-3.8" stroke="#2e2a2a" stroke-opacity="0.84" stroke-width="0.9"/><path d="M501.9,63.2l2.6-3.8M651.1,106.9l2.1-3.7" stroke="#1a1a1a" stroke-width="0.8"/><g fill="currentColor" stroke="currentColor" stroke-width=".7"><path color="#ff7006" d="M499.4,66.9l8.4,2.6 2.6-3.7-8.5-2.6z"/><path color="#ff7006" d="M507.8,69.5l8.6,2.7 2.5-3.8-8.5-2.6z"/><path color="#ff7006" d="M516.4,72.2l8.6,2.7 2.6-3.8-8.7-2.7z"/><path color="#ff7006" d="M525,74.9l8.8,2.7 2.5-3.8-8.7-2.7z"/><path color="#ff7006" d="M533.8,77.6l8.9,2.8 2.5-3.9-8.9-2.7z"/><path color="#ff7006" d="M542.7,80.4l9,2.7 2.5-3.8-9-2.8z"/><path color="#ff7006" d="M551.7,83.1l9.2,2.8 2.4-3.9-9.1-2.7z"/><path color="#ff7006" d="M560.9,85.9l9.2,2.8 2.4-3.9-9.2-2.8z"/><path color="#ff7006" d="M570.1,88.7l9.4,2.8 2.4-3.9-9.4-2.8z"/><path color="#ff7006" d="M579.5,91.5l9.5,2.9 2.3-4-9.4-2.8z"/><path color="#ff7006" d="M589,94.4l9.6,2.8 2.3-3.9-9.6-2.9z"/><path color="#ff7006" d="M598.6,97.2l9.8,2.8 2.3-3.9-9.8-2.8z"/><path color="#ff7006" d="M608.4,100l9.9,2.9 2.3-4-9.9-2.8z"/><path color="#ff7006" d="M618.3,102.9l10.1,2.7 2.2-3.9-10-2.8z"/><path color="#ff7006" d="M628.4,105.6l10.2,2.6 2.2-3.8-10.2-2.7z"/><path color="#ff7006" d="M638.6,108.2l10.5,2.3 2-3.6-10.3-2.5z"/></g><path d="M501.9,63.2l8.5,2.6 8.5,2.6 8.7,2.7 8.7,2.7 8.9,2.7 9,2.8 9.1,2.7 9.2,2.8 9.4,2.8 9.4,2.8 9.6,2.9 9.8,2.8 9.9,2.8 10,2.8 10.2,2.7 10.3,2.5M507.8,69.5l2.6-3.7M516.4,72.2l2.5-3.8M525,74.9l2.6-3.8M533.8,77.6l2.5-3.8M542.7,80.4l2.5-3.9M551.7,83.1l2.5-3.8M560.9,85.9l2.4-3.9M570.1,88.7l2.4-3.9M579.5,91.5l2.4-3.9M589,94.4l2.3-4M598.6,97.2l2.3-3.9M608.4,100l2.3-3.9M618.3,102.9l2.3-4M628.4,105.6l2.2-3.9M638.6,108.2l2.2-3.8" stroke="#2e2a2a" stroke-opacity="0.84" stroke-width="0.9"/><path d="M499.4,66.9l2.5-3.7M649.1,110.5l2-3.6" stroke="#1a1a1a" stroke-width="0.8"/><g fill="currentColor" stroke="currentColor" stroke-width=".7"><path color="#ff7006" d="M496.7,70.4l8.5,2.7 2.6-3.6-8.4-2.6z"/><path color="#ff7006" d="M505.2,73.1l8.6,2.7 2.6-3.6-8.6-2.7z"/><path color="#ff7006" d="M513.8,75.8l8.7,2.7 2.5-3.6-8.6-2.7z"/><path color="#ff7006" d="M522.5,78.5l8.8,2.8 2.5-3.7-8.8-2.7z"/><path color="#ff7006" d="M531.3,81.3l8.9,2.8 2.5-3.7-8.9-2.8z"/><path color="#ff7006" d="M540.2,84.1l9.1,2.7 2.4-3.7-9-2.7z"/><path color="#ff7006" d="M549.3,86.8l9.1,2.9 2.5-3.8-9.2-2.8z"/><path color="#ff7006" d="M558.4,89.7l9.3,2.8 2.4-3.8-9.2-2.8z"/><path color="#ff7006" d="M567.7,92.5l9.4,2.8 2.4-3.8-9.4-2.8z"/><path color="#ff7006" d="M577.1,95.3l9.5,2.9 2.4-3.8-9.5-2.9z"/><path color="#ff7006" d="M586.6,98.2l9.7,2.8 2.3-3.8-9.6-2.8z"/><path color="#ff7006" d="M596.3,101l9.8,2.9 2.3-3.9-9.8-2.8z"/><path color="#ff7006" d="M606.1,103.9l10,2.8 2.2-3.8-9.9-2.9z"/><path color="#ff7006" d="M616.1,106.7l10.1,2.7 2.2-3.8-10.1-2.7z"/><path color="#ff7006" d="M626.2,109.4l10.3,2.6 2.1-3.8-10.2-2.6z"/><path color="#ff7006" d="M636.5,112l10.4,2.3 2.2-3.8-10.5-2.3z"/></g><path d="M505.2,73.1l2.6-3.6M513.8,75.8l2.6-3.6M522.5,78.5l2.5-3.6M531.3,81.3l2.5-3.7M540.2,84.1l2.5-3.7M549.3,86.8l2.4-3.7M558.4,89.7l2.5-3.8M567.7,92.5l2.4-3.8M577.1,95.3l2.4-3.8M586.6,98.2l2.4-3.8M596.3,101l2.3-3.8M606.1,103.9l2.3-3.9M616.1,106.7l2.2-3.8M626.2,109.4l2.2-3.8M636.5,112l2.1-3.8" stroke="#2e2a2a" stroke-opacity="0.84" stroke-width="0.9"/><path d="M496.7,70.4l2.7-3.5M646.9,114.3l2.2-3.8" stroke="#1a1a1a" stroke-width="0.8"/><g fill="currentColor" stroke="currentColor" stroke-width=".7"><path color="#ff7006" d="M491.4,77.1l8.6,2.8 5.2-6.8-8.5-2.7z"/><path color="#ff7006" d="M500,79.9l8.6,2.8 5.2-6.9-8.6-2.7z"/><path color="#ff7006" d="M508.6,82.7l8.7,2.8 5.2-7-8.7-2.7z"/><path color="#ff7006" d="M517.3,85.5l8.9,2.8 5.1-7-8.8-2.8z"/><path color="#ff7006" d="M526.2,88.3l9,2.8 5-7-8.9-2.8z"/><path color="#ff7006" d="M535.2,91.1l9.1,2.9 5-7.2-9.1-2.7z"/><path color="#ff7006" d="M544.3,94l9.2,2.9 4.9-7.2-9.1-2.9z"/><path color="#ff7006" d="M553.5,96.9l9.3,2.8 4.9-7.2-9.3-2.8z"/><path color="#ff7006" d="M562.8,99.7l9.5,2.9 4.8-7.3-9.4-2.8z"/><path color="#ff7006" d="M572.3,102.6l9.6,3 4.7-7.4-9.5-2.9z"/><path color="#ff7006" d="M581.9,105.6l9.7,2.9 4.7-7.5-9.7-2.8z"/><path color="#ff7006" d="M591.6,108.5l9.9,2.9 4.6-7.5-9.8-2.9z"/><path color="#ff7006" d="M601.5,111.4l10,2.8 4.6-7.5-10-2.8z"/><path color="#ff7006" d="M611.5,114.2l10.2,2.8 4.5-7.6-10.1-2.7z"/><path color="#ff7006" d="M621.7,117l10.4,2.6 4.4-7.6-10.3-2.6z"/><path color="#ff7006" d="M632.1,119.6l10.5,2.2 4.3-7.5-10.4-2.3z"/></g><path d="M496.7,70.4l8.5,2.7 8.6,2.7 8.7,2.7 8.8,2.8 8.9,2.8 9.1,2.7 9.1,2.9 9.3,2.8 9.4,2.8 9.5,2.9 9.7,2.8 9.8,2.9 10,2.8 10.1,2.7 10.3,2.6 10.4,2.3M500,79.9l5.2-6.8M508.6,82.7l5.2-6.9M517.3,85.5l5.2-7M526.2,88.3l5.1-7M535.2,91.1l5-7M544.3,94l5-7.2M553.5,96.9l4.9-7.2M562.8,99.7l4.9-7.2M572.3,102.6l4.8-7.3M581.9,105.6l4.7-7.4M591.6,108.5l4.7-7.5M601.5,111.4l4.6-7.5M611.5,114.2l4.6-7.5M621.7,117l4.5-7.6M632.1,119.6l4.4-7.6" stroke="#2e2a2a" stroke-opacity="0.84" stroke-width="0.9"/><path d="M491.4,77.1l5.3-6.7M642.6,121.8l4.3-7.5" stroke="#1a1a1a" stroke-width="0.8"/><g fill="currentColor" stroke="currentColor" stroke-width=".7"><path color="#ff7006" d="M486,83.7l8.6,2.8 5.4-6.6-8.6-2.8z"/><path color="#ff7006" d="M494.6,86.5l8.6,2.8 5.4-6.6-8.6-2.8z"/><path color="#ff7006" d="M503.2,89.3l8.8,2.9 5.3-6.7-8.7-2.8z"/><path color="#ff7006" d="M512,92.2l9,2.9 5.2-6.8-8.9-2.8z"/><path color="#ff7006" d="M521,95.1l9,2.9 5.2-6.9-9-2.8z"/><path color="#ff7006" d="M530,98l9.1,2.9 5.2-6.9-9.1-2.9z"/><path color="#ff7006" d="M539.1,100.9l9.3,3 5.1-7-9.2-2.9z"/><path color="#ff7006" d="M548.4,103.9l9.4,3 5-7.2-9.3-2.8z"/><path color="#ff7006" d="M557.8,106.9l9.6,2.9 4.9-7.2-9.5-2.9z"/><path color="#ff7006" d="M567.4,109.8l9.6,3 4.9-7.2-9.6-3z"/><path color="#ff7006" d="M577,112.8l9.8,3 4.8-7.3-9.7-2.9z"/><path color="#ff7006" d="M586.8,115.8l10,3 4.7-7.4-9.9-2.9z"/><path color="#ff7006" d="M596.8,118.8l10.1,2.9 4.6-7.5-10-2.8z"/><path color="#ff7006" d="M606.9,121.7l10.3,2.9 4.5-7.6-10.2-2.8z"/><path color="#ff7006" d="M617.2,124.6l10.4,2.7 4.5-7.7-10.4-2.6z"/><path color="#ff7006" d="M627.6,127.3l10.7,2.2 4.3-7.7-10.5-2.2z"/></g><path d="M491.4,77.1l8.6,2.8 8.6,2.8 8.7,2.8 8.9,2.8 9,2.8 9.1,2.9 9.2,2.9 9.3,2.8 9.5,2.9 9.6,3 9.7,2.9 9.9,2.9 10,2.8 10.2,2.8 10.4,2.6 10.5,2.2M494.6,86.5l5.4-6.6M503.2,89.3l5.4-6.6M512,92.2l5.3-6.7M521,95.1l5.2-6.8M530,98l5.2-6.9M539.1,100.9l5.2-6.9M548.4,103.9l5.1-7M557.8,106.9l5-7.2M567.4,109.8l4.9-7.2M577,112.8l4.9-7.2M586.8,115.8l4.8-7.3M596.8,118.8l4.7-7.4M606.9,121.7l4.6-7.5M617.2,124.6l4.5-7.6M627.6,127.3l4.5-7.7" stroke="#2e2a2a" stroke-opacity="0.84" stroke-width="0.9"/><path d="M486,83.7l5.4-6.6M638.3,129.5l4.3-7.7" stroke="#1a1a1a" stroke-width="0.8"/><g fill="currentColor" stroke="currentColor" stroke-width=".7"><path color="#ff7006" d="M480.4,90.3l8.6,2.9 5.6-6.7-8.6-2.8z"/><path color="#ff7006" d="M489,93.2l8.8,2.9 5.4-6.8-8.6-2.8z"/><path color="#ff7006" d="M497.8,96.1l8.8,2.9 5.4-6.8-8.8-2.9z"/><path color="#ff7006" d="M506.6,99l9,3 5.4-6.9-9-2.9z"/><path color="#ff7006" d="M515.6,102l9.1,3 5.3-7-9-2.9z"/><path color="#ff7006" d="M524.7,105l9.2,3 5.2-7.1-9.1-2.9z"/><path color="#ff7006" d="M533.9,108l9.4,3 5.1-7.1-9.3-3z"/><path color="#ff7006" d="M543.3,111l9.4,3.1 5.1-7.2-9.4-3z"/><path color="#ff7006" d="M552.7,114.1l9.6,3 5.1-7.3-9.6-2.9z"/><path color="#ff7006" d="M562.3,117.1l9.8,3.1 4.9-7.4-9.6-3z"/><path color="#ff7006" d="M572.1,120.2l9.8,3 4.9-7.4-9.8-3z"/><path color="#ff7006" d="M581.9,123.2l10.1,3.1 4.8-7.5-10-3z"/><path color="#ff7006" d="M592,126.3l10.2,3 4.7-7.6-10.1-2.9z"/><path color="#ff7006" d="M602.2,129.3l10.3,2.9 4.7-7.6-10.3-2.9z"/><path color="#ff7006" d="M612.5,132.2l10.5,2.8 4.6-7.7-10.4-2.7z"/><path color="#ff7006" d="M623,135l10.8,2.2 4.5-7.7-10.7-2.2z"/></g><path d="M486,83.7l8.6,2.8 8.6,2.8 8.8,2.9 9,2.9 9,2.9 9.1,2.9 9.3,3 9.4,3 9.6,2.9 9.6,3 9.8,3 10,3 10.1,2.9 10.3,2.9 10.4,2.7 10.7,2.2M489,93.2l5.6-6.7M497.8,96.1l5.4-6.8M506.6,99l5.4-6.8M515.6,102l5.4-6.9M524.7,105l5.3-7M533.9,108l5.2-7.1M543.3,111l5.1-7.1M552.7,114.1l5.1-7.2M562.3,117.1l5.1-7.3M572.1,120.2l4.9-7.4M581.9,123.2l4.9-7.4M592,126.3l4.8-7.5M602.2,129.3l4.7-7.6M612.5,132.2l4.7-7.6M623,135l4.6-7.7" stroke="#2e2a2a" stroke-opacity="0.84" stroke-width="0.9"/><path d="M480.4,90.3l5.6-6.6M633.8,137.2l4.5-7.7" stroke="#1a1a1a" stroke-width="0.8"/><g fill="currentColor" stroke="currentColor" stroke-width=".7"><path color="#ff7006" d="M474.7,96.9l8.7,3 5.6-6.7-8.6-2.9z"/><path color="#ff7006" d="M483.4,99.9l8.8,3 5.6-6.8-8.8-2.9z"/><path color="#ff7006" d="M492.2,102.9l8.9,3 5.5-6.9-8.8-2.9z"/><path color="#ff7006" d="M501.1,105.9l9,3 5.5-6.9-9-3z"/><path color="#ff7006" d="M510.1,108.9l9.2,3.1 5.4-7-9.1-3z"/><path color="#ff7006" d="M519.3,112l9.3,3.1 5.3-7.1-9.2-3z"/><path color="#ff7006" d="M528.6,115.1l9.4,3.1 5.3-7.2-9.4-3z"/><path color="#ff7006" d="M538,118.2l9.5,3.1 5.2-7.2-9.4-3.1z"/><path color="#ff7006" d="M547.5,121.3l9.7,3.1 5.1-7.3-9.6-3z"/><path color="#ff7006" d="M557.2,124.4l9.8,3.2 5.1-7.4-9.8-3.1z"/><path color="#ff7006" d="M567,127.6l10,3.1 4.9-7.5-9.8-3z"/><path color="#ff7006" d="M577,130.7l10.1,3.1 4.9-7.5-10.1-3.1z"/><path color="#ff7006" d="M587.1,133.8l10.2,3.1 4.9-7.6-10.2-3z"/><path color="#ff7006" d="M597.3,136.9l10.5,3 4.7-7.7-10.3-2.9z"/><path color="#ff7006" d="M607.8,139.9l10.6,2.8 4.6-7.7-10.5-2.8z"/><path color="#ff7006" d="M618.4,142.7l10.8,2.3 4.6-7.8-10.8-2.2z"/></g><path d="M480.4,90.3l8.6,2.9 8.8,2.9 8.8,2.9 9,3 9.1,3 9.2,3 9.4,3 9.4,3.1 9.6,3 9.8,3.1 9.8,3 10.1,3.1 10.2,3 10.3,2.9 10.5,2.8 10.8,2.2M483.4,99.9l5.6-6.7M492.2,102.9l5.6-6.8M501.1,105.9l5.5-6.9M510.1,108.9l5.5-6.9M519.3,112l5.4-7M528.6,115.1l5.3-7.1M538,118.2l5.3-7.2M547.5,121.3l5.2-7.2M557.2,124.4l5.1-7.3M567,127.6l5.1-7.4M577,130.7l4.9-7.5M587.1,133.8l4.9-7.5M597.3,136.9l4.9-7.6M607.8,139.9l4.7-7.7M618.4,142.7l4.6-7.7" stroke="#2e2a2a" stroke-opacity="0.84" stroke-width="0.9"/><path d="M474.7,96.9l5.7-6.6M629.2,145l4.6-7.8" stroke="#1a1a1a" stroke-width="0.8"/><g fill="currentColor" stroke="currentColor" stroke-width=".7"><path color="#ff7006" d="M468.9,103.7l8.7,3 5.8-6.8-8.7-3z"/><path color="#ff7006" d="M477.6,106.7l8.9,3.1 5.7-6.9-8.8-3z"/><path color="#ff7006" d="M486.5,109.8l9,3.1 5.6-7-8.9-3z"/><path color="#ff7006" d="M495.5,112.9l9.1,3.1 5.5-7.1-9-3z"/><path color="#ff7006" d="M504.6,116l9.2,3.2 5.5-7.2-9.2-3.1z"/><path color="#ff7006" d="M513.8,119.2l9.3,3.1 5.5-7.2-9.3-3.1z"/><path color="#ff7006" d="M523.1,122.3l9.5,3.2 5.4-7.3-9.4-3.1z"/><path color="#ff7006" d="M532.6,125.5l9.6,3.2 5.3-7.4-9.5-3.1z"/><path color="#ff7006" d="M542.2,128.7l9.7,3.2 5.3-7.5-9.7-3.1z"/><path color="#ff7006" d="M551.9,131.9l9.9,3.3 5.2-7.6-9.8-3.2z"/><path color="#ff7006" d="M561.8,135.2l10,3.2 5.2-7.7-10-3.1z"/><path color="#ff7006" d="M571.8,138.4l10.2,3.2 5.1-7.8-10.1-3.1z"/><path color="#ff7006" d="M582,141.6l10.4,3.2 4.9-7.9-10.2-3.1z"/><path color="#ff7006" d="M592.4,144.8l10.5,3.1 4.9-8-10.5-3z"/><path color="#ff7006" d="M602.9,147.9l10.7,2.9 4.8-8.1-10.6-2.8z"/><path color="#ff7006" d="M613.6,150.8l10.9,2.4 4.7-8.2-10.8-2.3z"/></g><path d="M474.7,96.9l8.7,3 8.8,3 8.9,3 9,3 9.2,3.1 9.3,3.1 9.4,3.1 9.5,3.1 9.7,3.1 9.8,3.2 10,3.1 10.1,3.1 10.2,3.1 10.5,3 10.6,2.8 10.8,2.3M477.6,106.7l5.8-6.8M486.5,109.8l5.7-6.9M495.5,112.9l5.6-7M504.6,116l5.5-7.1M513.8,119.2l5.5-7.2M523.1,122.3l5.5-7.2M532.6,125.5l5.4-7.3M542.2,128.7l5.3-7.4M551.9,131.9l5.3-7.5M561.8,135.2l5.2-7.6M571.8,138.4l5.2-7.7M582,141.6l5.1-7.8M592.4,144.8l4.9-7.9M602.9,147.9l4.9-8M613.6,150.8l4.8-8.1" stroke="#2e2a2a" stroke-opacity="0.84" stroke-width="0.9"/><path d="M468.9,103.7l5.8-6.8M624.5,153.2l4.7-8.2" stroke="#1a1a1a" stroke-width="0.8"/><g fill="currentColor" stroke="currentColor" stroke-width=".7"><path color="#ff7006" d="M463,110.7l8.8,3.1 5.8-7.1-8.7-3z"/><path color="#ff7006" d="M471.8,113.8l8.9,3.2 5.8-7.2-8.9-3.1z"/><path color="#ff7006" d="M480.7,117l9,3.2 5.8-7.3-9-3.1z"/><path color="#ff7006" d="M489.7,120.2l9.1,3.2 5.8-7.4-9.1-3.1z"/><path color="#ff7006" d="M498.8,123.4l9.3,3.2 5.7-7.4-9.2-3.2z"/><path color="#ff7006" d="M508.1,126.6l9.4,3.3 5.6-7.6-9.3-3.1z"/><path color="#ff7006" d="M517.5,129.9l9.6,3.2 5.5-7.6-9.5-3.2z"/><path color="#ff7006" d="M527.1,133.1l9.6,3.4 5.5-7.8-9.6-3.2z"/><path color="#ff7006" d="M536.7,136.5l9.9,3.3 5.3-7.9-9.7-3.2z"/><path color="#ff7006" d="M546.6,139.8l9.9,3.3 5.3-7.9-9.9-3.3z"/><path color="#ff7006" d="M556.5,143.1l10.1,3.4 5.2-8.1-10-3.2z"/><path color="#ff7006" d="M566.6,146.5l10.3,3.3 5.1-8.2-10.2-3.2z"/><path color="#ff7006" d="M576.9,149.8l10.4,3.3 5.1-8.3-10.4-3.2z"/><path color="#ff7006" d="M587.3,153.1l10.6,3.2 5-8.4-10.5-3.1z"/><path color="#ff7006" d="M597.9,156.3l10.8,3.1 4.9-8.6-10.7-2.9z"/><path color="#ff7006" d="M608.7,159.4l11,2.6 4.8-8.8-10.9-2.4z"/></g><path d="M468.9,103.7l8.7,3 8.9,3.1 9,3.1 9.1,3.1 9.2,3.2 9.3,3.1 9.5,3.2 9.6,3.2 9.7,3.2 9.9,3.3 10,3.2 10.2,3.2 10.4,3.2 10.5,3.1 10.7,2.9 10.9,2.4M471.8,113.8l5.8-7.1M480.7,117l5.8-7.2M489.7,120.2l5.8-7.3M498.8,123.4l5.8-7.4M508.1,126.6l5.7-7.4M517.5,129.9l5.6-7.6M527.1,133.1l5.5-7.6M536.7,136.5l5.5-7.8M546.6,139.8l5.3-7.9M556.5,143.1l5.3-7.9M566.6,146.5l5.2-8.1M576.9,149.8l5.1-8.2M587.3,153.1l5.1-8.3M597.9,156.3l5-8.4M608.7,159.4l4.9-8.6" stroke="#2e2a2a" stroke-opacity="0.84" stroke-width="0.9"/><path d="M463,110.7l5.9-7M619.7,162l4.8-8.8" stroke="#1a1a1a" stroke-width="0.8"/><g fill="currentColor" stroke="currentColor" stroke-width=".7"><path color="#ff7006" d="M456.9,117.9l8.9,3.2 6-7.3-8.8-3.1z"/><path color="#ff7006" d="M465.8,121.1l8.9,3.2 6-7.3-8.9-3.2z"/><path color="#ff7006" d="M474.7,124.3l9.1,3.3 5.9-7.4-9-3.2z"/><path color="#ff7006" d="M483.8,127.6l9.2,3.3 5.8-7.5-9.1-3.2z"/><path color="#ff7006" d="M493,130.9l9.4,3.4 5.7-7.7-9.3-3.2z"/><path color="#ff7006" d="M502.4,134.3l9.4,3.3 5.7-7.7-9.4-3.3z"/><path color="#ff7006" d="M511.8,137.6l9.6,3.4 5.7-7.9-9.6-3.2z"/><path color="#ff7006" d="M521.4,141l9.8,3.4 5.5-7.9-9.6-3.4z"/><path color="#ff7006" d="M531.2,144.4l9.9,3.5 5.5-8.1-9.9-3.3z"/><path color="#ff7006" d="M541.1,147.9l10,3.4 5.4-8.2-9.9-3.3z"/><path color="#ff7006" d="M551.1,151.3l10.2,3.5 5.3-8.3-10.1-3.4z"/><path color="#ff7006" d="M561.3,154.8l10.3,3.5 5.3-8.5-10.3-3.3z"/><path color="#ff7006" d="M571.6,158.3l10.5,3.5 5.2-8.7-10.4-3.3z"/><path color="#ff7006" d="M582.1,161.8l10.7,3.4 5.1-8.9-10.6-3.2z"/><path color="#ff7006" d="M592.8,165.2l10.8,3.2 5.1-9-10.8-3.1z"/><path color="#ff7006" d="M603.6,168.4l11.1,2.9 5-9.3-11-2.6z"/></g><path d="M463,110.7l8.8,3.1 8.9,3.2 9,3.2 9.1,3.2 9.3,3.2 9.4,3.3 9.6,3.2 9.6,3.4 9.9,3.3 9.9,3.3 10.1,3.4 10.3,3.3 10.4,3.3 10.6,3.2 10.8,3.1 11,2.6M465.8,121.1l6-7.3M474.7,124.3l6-7.3M483.8,127.6l5.9-7.4M493,130.9l5.8-7.5M502.4,134.3l5.7-7.7M511.8,137.6l5.7-7.7M521.4,141l5.7-7.9M531.2,144.4l5.5-7.9M541.1,147.9l5.5-8.1M551.1,151.3l5.4-8.2M561.3,154.8l5.3-8.3M571.6,158.3l5.3-8.5M582.1,161.8l5.2-8.7M592.8,165.2l5.1-8.9M603.6,168.4l5.1-9" stroke="#2e2a2a" stroke-opacity="0.84" stroke-width="0.9"/><path d="M456.9,117.9l6.1-7.2M614.7,171.3l5-9.3" stroke="#1a1a1a" stroke-width="0.8"/><g fill="currentColor" stroke="currentColor" stroke-width=".7"><path color="#ff7006" d="M450.7,125.3l8.9,3.3 6.2-7.5-8.9-3.2z"/><path color="#ff7006" d="M459.6,128.6l9.1,3.3 6-7.6-8.9-3.2z"/><path color="#ff7006" d="M468.7,131.9l9.1,3.4 6-7.7-9.1-3.3z"/><path color="#ff7006" d="M477.8,135.3l9.3,3.4 5.9-7.8-9.2-3.3z"/><path color="#ff7006" d="M487.1,138.7l9.4,3.4 5.9-7.8-9.4-3.4z"/><path color="#ff7006" d="M496.5,142.1l9.5,3.5 5.8-8-9.4-3.3z"/><path color="#ff7006" d="M506,145.6l9.7,3.5 5.7-8.1-9.6-3.4z"/><path color="#ff7006" d="M515.7,149.1l9.8,3.6 5.7-8.3-9.8-3.4z"/><path color="#ff7006" d="M525.5,152.7l9.9,3.5 5.7-8.3-9.9-3.5z"/><path color="#ff7006" d="M535.4,156.2l10.1,3.7 5.6-8.6-10-3.4z"/><path color="#ff7006" d="M545.5,159.9l10.3,3.6 5.5-8.7-10.2-3.5z"/><path color="#ff7006" d="M555.8,163.5l10.4,3.6 5.4-8.8-10.3-3.5z"/><path color="#ff7006" d="M566.2,167.1l10.6,3.7 5.3-9-10.5-3.5z"/><path color="#ff7006" d="M576.8,170.8l10.7,3.6 5.3-9.2-10.7-3.4z"/><path color="#ff7006" d="M587.5,174.4l10.9,3.5 5.2-9.5-10.8-3.2z"/><path color="#ff7006" d="M598.4,177.9l11.2,3.3 5.1-9.9-11.1-2.9z"/></g><path d="M456.9,117.9l8.9,3.2 8.9,3.2 9.1,3.3 9.2,3.3 9.4,3.4 9.4,3.3 9.6,3.4 9.8,3.4 9.9,3.5 10,3.4 10.2,3.5 10.3,3.5 10.5,3.5 10.7,3.4 10.8,3.2 11.1,2.9M459.6,128.6l6.2-7.5M468.7,131.9l6-7.6M477.8,135.3l6-7.7M487.1,138.7l5.9-7.8M496.5,142.1l5.9-7.8M506,145.6l5.8-8M515.7,149.1l5.7-8.1M525.5,152.7l5.7-8.3M535.4,156.2l5.7-8.3M545.5,159.9l5.6-8.6M555.8,163.5l5.5-8.7M566.2,167.1l5.4-8.8M576.8,170.8l5.3-9M587.5,174.4l5.3-9.2M598.4,177.9l5.2-9.5" stroke="#2e2a2a" stroke-opacity="0.84" stroke-width="0.9"/><path d="M450.7,125.3l6.2-7.4M609.6,181.2l5.1-9.9" stroke="#1a1a1a" stroke-width="0.8"/><g fill="currentColor" stroke="currentColor" stroke-width=".7"><path color="#ff7006" d="M444.4,132.9l9,3.4 6.2-7.7-8.9-3.3z"/><path color="#ff7006" d="M453.4,136.3l9.1,3.4 6.2-7.8-9.1-3.3z"/><path color="#ff7006" d="M462.5,139.7l9.2,3.5 6.1-7.9-9.1-3.4z"/><path color="#ff7006" d="M471.7,143.2l9.3,3.5 6.1-8-9.3-3.4z"/><path color="#ff7006" d="M481,146.7l9.5,3.5 6-8.1-9.4-3.4z"/><path color="#ff7006" d="M490.5,150.2l9.6,3.6 5.9-8.2-9.5-3.5z"/><path color="#ff7006" d="M500.1,153.8l9.7,3.7 5.9-8.4-9.7-3.5z"/><path color="#ff7006" d="M509.8,157.5l9.9,3.7 5.8-8.5-9.8-3.6z"/><path color="#ff7006" d="M519.7,161.2l10,3.7 5.7-8.7-9.9-3.5z"/><path color="#ff7006" d="M529.7,164.9l10.2,3.8 5.6-8.8-10.1-3.7z"/><path color="#ff7006" d="M539.9,168.7l10.3,3.8 5.6-9-10.3-3.6z"/><path color="#ff7006" d="M550.2,172.5l10.5,3.8 5.5-9.2-10.4-3.6z"/><path color="#ff7006" d="M560.7,176.3l10.6,3.9 5.5-9.4-10.6-3.7z"/><path color="#ff7006" d="M571.3,180.2l10.8,3.9 5.4-9.7-10.7-3.6z"/><path color="#ff7006" d="M582.1,184.1l11,3.8 5.3-10-10.9-3.5z"/><path color="#ff7006" d="M593.1,187.9l11.2,3.7 5.3-10.4-11.2-3.3z"/></g><path d="M450.7,125.3l8.9,3.3 9.1,3.3 9.1,3.4 9.3,3.4 9.4,3.4 9.5,3.5 9.7,3.5 9.8,3.6 9.9,3.5 10.1,3.7 10.3,3.6 10.4,3.6 10.6,3.7 10.7,3.6 10.9,3.5 11.2,3.3M453.4,136.3l6.2-7.7M462.5,139.7l6.2-7.8M471.7,143.2l6.1-7.9M481,146.7l6.1-8M490.5,150.2l6-8.1M500.1,153.8l5.9-8.2M509.8,157.5l5.9-8.4M519.7,161.2l5.8-8.5M529.7,164.9l5.7-8.7M539.9,168.7l5.6-8.8M550.2,172.5l5.6-9M560.7,176.3l5.5-9.2M571.3,180.2l5.5-9.4M582.1,184.1l5.4-9.7M593.1,187.9l5.3-10" stroke="#2e2a2a" stroke-opacity="0.84" stroke-width="0.9"/><path d="M444.4,132.9l6.3-7.6M604.3,191.6l5.3-10.4" stroke="#1a1a1a" stroke-width="0.8"/><g fill="currentColor" stroke="currentColor" stroke-width=".7"><path color="#ff7006" d="M438,140.7l9,3.4 6.4-7.8-9-3.4z"/><path color="#ff7006" d="M447,144.1l9.1,3.6 6.4-8-9.1-3.4z"/><path color="#ff7006" d="M456.1,147.7l9.3,3.6 6.3-8.1-9.2-3.5z"/><path color="#ff7006" d="M465.4,151.3l9.4,3.6 6.2-8.2-9.3-3.5z"/><path color="#ff7006" d="M474.8,154.9l9.5,3.7 6.2-8.4-9.5-3.5z"/><path color="#ff7006" d="M484.3,158.6l9.7,3.7 6.1-8.5-9.6-3.6z"/><path color="#ff7006" d="M494,162.3l9.8,3.8 6-8.6-9.7-3.7z"/><path color="#ff7006" d="M503.8,166.1l9.9,3.8 6-8.7-9.9-3.7z"/><path color="#ff7006" d="M513.7,169.9l10.1,3.9 5.9-8.9-10-3.7z"/><path color="#ff7006" d="M523.8,173.8l10.3,4 5.8-9.1-10.2-3.8z"/><path color="#ff7006" d="M534.1,177.8l10.4,4 5.7-9.3-10.3-3.8z"/><path color="#ff7006" d="M544.5,181.8l10.5,4 5.7-9.5-10.5-3.8z"/><path color="#ff7006" d="M555,185.8l10.8,4.1 5.5-9.7-10.6-3.9z"/><path color="#ff7006" d="M565.8,189.9l10.8,4.2 5.5-10-10.8-3.9z"/><path color="#ff7006" d="M576.6,194.1l11.1,4.2 5.4-10.4-11-3.8z"/><path color="#ff7006" d="M587.7,198.3l11.2,4.2 5.4-10.9-11.2-3.7z"/></g><path d="M444.4,132.9l9,3.4 9.1,3.4 9.2,3.5 9.3,3.5 9.5,3.5 9.6,3.6 9.7,3.7 9.9,3.7 10,3.7 10.2,3.8 10.3,3.8 10.5,3.8 10.6,3.9 10.8,3.9 11,3.8 11.2,3.7M447,144.1l6.4-7.8M456.1,147.7l6.4-8M465.4,151.3l6.3-8.1M474.8,154.9l6.2-8.2M484.3,158.6l6.2-8.4M494,162.3l6.1-8.5M503.8,166.1l6-8.6M513.7,169.9l6-8.7M523.8,173.8l5.9-8.9M534.1,177.8l5.8-9.1M544.5,181.8l5.7-9.3M555,185.8l5.7-9.5M565.8,189.9l5.5-9.7M576.6,194.1l5.5-10M587.7,198.3l5.4-10.4" stroke="#2e2a2a" stroke-opacity="0.84" stroke-width="0.9"/><path d="M438,140.7l6.4-7.8M598.9,202.5l5.4-10.9" stroke="#1a1a1a" stroke-width="0.8"/><path d="M438,140.7l9,3.4 9.1,3.6 9.3,3.6 9.4,3.6 9.5,3.7 9.7,3.7 9.8,3.8 9.9,3.8 10.1,3.9 10.3,4 10.4,4 10.5,4 10.8,4.1 10.8,4.2 11.1,4.2 11.2,4.2" stroke="#1a1a1a" stroke-width="0.8"/><path d="M520.4,7l8.6,2.3 8.6,2.3 8.8,2.3 8.9,2.3 9.1,2.3 9.1,2.4 9.3,2.4 9.5,2.3 9.6,2.4 9.7,2.3 9.9,2.4 10.1,2.3 10.2,2.2 10.5,2.2 10.8,1.9 11.5,1.1 .3-.5-10.3-2.7-10.1-2.7-10-2.6-9.8-2.6-9.8-2.5-9.6-2.6-9.5-2.4-9.3-2.5-9.3-2.4-9.1-2.4-9-2.4-8.9-2.3-8.8-2.3-8.7-2.3-8.6-2.3-8.4-2.2z" fill="#d6d6d6" stroke="#1a1a1a" stroke-width=".6"/></g><g stroke="#666" stroke-width="0.7" fill="none" opacity="0.9"><path d="M429.7,144.2L599.3,210.8"/><path d="M599.3,210.8L671.4,98.6"/><path d="M429.7,144.2L419.7,83.4"/><path d="M599.3,210.8L603.2,147.2"/><path d="M671.4,98.6L679.5,40.4"/><path d="M419.7,83.4L603.2,147.2"/><path d="M603.2,147.2L679.5,40.4"/><path d="M679.5,40.4L523.0,-0.4"/><path d="M523.0,-0.4L419.7,83.4"/></g><g stroke="#6e6e6e" stroke-width="0.55" fill="none"><path d="M433.2,145.6L436.0,143.0"/><path d="M486.7,166.6L489.3,163.8"/><path d="M544.9,189.4L547.3,186.4"/><path d="M600.6,208.9L596.0,207.1"/><path d="M621.8,175.8L617.4,174.3"/><path d="M640.6,146.4L636.5,145.0"/><path d="M657.6,120.1L653.5,118.8"/><path d="M427.4,130.4L430.4,131.5"/><path d="M424.4,112.1L427.5,113.2"/><path d="M421.3,92.9L424.5,94.0"/><path d="M429.6,143.5L431.2,144.2"/><path d="M428.8,139.2L430.5,139.8"/><path d="M428.1,134.8L429.8,135.4"/><path d="M427.4,130.4L429.1,131.0"/><path d="M426.7,125.9L428.3,126.5"/><path d="M425.9,121.3L427.6,121.9"/><path d="M425.2,116.7L426.9,117.3"/><path d="M424.4,112.1L426.1,112.7"/><path d="M423.6,107.4L425.4,108.0"/><path d="M422.9,102.6L424.6,103.2"/><path d="M422.1,97.8L423.8,98.4"/><path d="M421.3,92.9L423.0,93.5"/><path d="M420.5,88.0L422.2,88.6"/></g><text x="424.1" y="133.1" font-family="Liberation Sans, sans-serif" font-size="8.1" text-anchor="end" fill="#444">0.000</text><text x="421.1" y="114.8" font-family="Liberation Sans, sans-serif" font-size="8.1" text-anchor="end" fill="#444">0.002</text><text x="418.0" y="95.6" font-family="Liberation Sans, sans-serif" font-size="8.1" text-anchor="end" fill="#444">0.004</text><g font-family="Liberation Sans, sans-serif" fill="#444" text-anchor="middle"><text x="479.3" y="173.6" font-size="9.4" font-style="italic">π</text><rect x="476.4" y="178.7" width="5.8" height="0.9"/><text x="479.3" y="190.5" font-size="8.6">6</text></g><g font-family="Liberation Sans, sans-serif" fill="#444" text-anchor="middle"><text x="538.4" y="197.3" font-size="9.4" font-style="italic">π</text><rect x="535.5" y="202.4" width="5.8" height="0.9"/><text x="538.4" y="214.2" font-size="8.6">3</text></g><g font-family="Liberation Sans, sans-serif" fill="#444" text-anchor="middle"><text x="629.0" y="175.6" font-size="9.4" font-style="italic">π</text><rect x="626.1" y="180.7" width="5.8" height="0.9"/><text x="629.0" y="192.5" font-size="8.6">6</text></g><g font-family="Liberation Sans, sans-serif" fill="#444" text-anchor="middle"><text x="648.0" y="146.0" font-size="9.4" font-style="italic">π</text><rect x="645.1" y="151.1" width="5.8" height="0.9"/><text x="648.0" y="162.9" font-size="8.6">3</text></g><g font-family="Liberation Sans, sans-serif" fill="#444" text-anchor="middle"><text x="665.0" y="119.8" font-size="9.4" font-style="italic">π</text><rect x="662.1" y="124.9" width="5.8" height="0.9"/><text x="665.0" y="136.7" font-size="8.6">2</text></g><text x="427.2" y="155.5" font-family="Liberation Sans, sans-serif" font-size="8.6" text-anchor="middle" fill="#444">0</text><text x="605.8" y="214.1" font-family="Liberation Sans, sans-serif" font-size="8.6" text-anchor="middle" fill="#444">0</text><text x="504" y="199" font-family="Liberation Serif, serif" font-size="11.5" font-style="italic" fill="#333">ρ</text><text x="668" y="173.5" font-family="Liberation Serif, serif" font-size="11.5" font-style="italic" fill="#333">ζ</text><g font-family="Liberation Serif, sans-serif" fill="#333" font-style="italic" text-anchor="middle"><path d="M401.8,44.4L398.3,49.8L401.8,55.1M414.9,44.4L418.4,49.8L414.9,55.1" fill="none" stroke="#333" stroke-width="0.75"/><path d="M404.4,43.6L406.4,41.9L408.4,43.6" fill="none" stroke="#333" stroke-width="0.75"/><text x="403.0" y="52.8" font-size="13.2" text-anchor="start">T</text><text x="413.2" y="45.2" font-size="9.2">ρ</text><text x="410.8" y="55.8" font-size="9.2">ρ</text><text x="421.2" y="46.8" font-size="9.2">ζ</text><text x="421.2" y="55.8" font-size="8.2" font-style="normal">0</text></g><g stroke="#5a5a5a" stroke-width="0.6" fill="none" opacity="1"><path d="M528.2,298.2L432.2,388.4"/><path d="M528.2,298.2L676.7,342.6"/><path d="M528.2,298.2L526.3,243.1"/></g><g fill="none" stroke-linejoin="round"><g fill="currentColor" stroke="currentColor" stroke-width=".7"><path color="#005800" d="M659.1,280.9l3.4,16.5 1.9-15.6-4.9-1.5z"/><path color="#005800" d="M662.5,297.4l3,18.7 2.3-17.2-3.4-17.1z"/><path color="#005800" d="M665.5,316.1l2.3,9 1.6-10.6-1.6-15.6z"/><path color="#005d00" d="M667.8,325.1l2.6,6.7 1-6.1-2-11.2z"/><path color="#007000" d="M670.4,331.8l2.7,4.8 .7-3.1-2.4-7.8z"/></g><path d="M665.5,316.1l2.3-17.2" stroke="#2e2a2a" stroke-opacity="0.84" stroke-width="0.9"/><path d="M664.4,281.8l3.4,17.1 1.6,15.6 2,11.2 2.4,7.8M673.1,336.6l.7-3.1" stroke="#1a1a1a" stroke-width="0.8"/><g fill="currentColor" stroke="currentColor" stroke-width=".7"><path color="#005800" d="M653.7,279.9l3.4,17.3 2-16.3-5-1.5z"/><path color="#005800" d="M657.1,297.2l3.4,15.9 2-15.7-3.4-16.5z"/><path color="#005800" d="M660.5,313.1l3.7,11.7 1.3-8.7-3-18.7z"/><path color="#006100" d="M664.2,324.8l2.7,5.9 .9-5.6-2.3-9z"/><path color="#007100" d="M666.9,330.7l2.8,4.5 .7-3.4-2.6-6.7z"/><path color="#009200" d="M669.7,335.2l3,3.3 .4-1.9-2.7-4.8z"/></g><path d="M657.1,297.2l2-16.3M664.2,324.8l1.3-8.7" stroke="#2e2a2a" stroke-opacity="0.84" stroke-width="0.9"/><path d="M672.7,338.5l.4-1.9" stroke="#1a1a1a" stroke-width="0.8"/><g fill="currentColor" stroke="currentColor" stroke-width=".7"><path color="#005800" d="M643.2,277.8l5,3.1 .2-2-4.7-1.7z"/><path color="#005800" d="M648.2,280.9l3.5,16.8 2-17.8-5.3-1z"/><path color="#005800" d="M651.7,297.7l3.6,13.5 1.8-14-3.4-17.3z"/><path color="#005800" d="M655.3,311.2l3.9,10.6 1.3-8.7-3.4-15.9z"/><path color="#006200" d="M659.2,321.8l4.2,8 .8-5-3.7-11.7z"/><path color="#007300" d="M663.4,329.8l2.8,4.2 .7-3.3-2.7-5.9z"/><path color="#008e00" d="M666.2,334l3,3.2 .5-2-2.8-4.5z"/><path color="#00be00" d="M669.2,337.2l3.1,2.5 .4-1.2-3-3.3z"/></g><path d="M648.2,280.9l.2-2M655.3,311.2l1.8-14M663.4,329.8l.8-5" stroke="#2e2a2a" stroke-opacity="0.84" stroke-width="0.9"/><path d="M672.3,339.7l.4-1.2" stroke="#1a1a1a" stroke-width="0.8"/><g fill="currentColor" stroke="currentColor" stroke-width=".7"><path color="#005800" d="M637.9,276.8l4.5,8.1 .8-7.1-4.8-1.5z"/><path color="#005800" d="M642.4,284.9l3.8,13.8 2-17.8-5-3.1z"/><path color="#005800" d="M646.2,298.7l3.9,11.5 1.6-12.5-3.5-16.8z"/><path color="#005900" d="M650.1,310.2l4.1,9.4 1.1-8.4-3.6-13.5z"/><path color="#006200" d="M654.2,319.6l4.2,7.6 .8-5.4-3.9-10.6z"/><path color="#007300" d="M658.4,327.2l4.3,5.8 .7-3.2-4.2-8z"/><path color="#008e00" d="M662.7,333l3,3.1 .5-2.1-2.8-4.2z"/><path color="#00b400" d="M665.7,336.1l3.1,2.5 .4-1.4-3-3.2z"/><path color="#00ec00" d="M668.8,338.6l3.1,2 .4-.9-3.1-2.5z"/></g><path d="M646.2,298.7l2-17.8M654.2,319.6l1.1-8.4M662.7,333l.7-3.2" stroke="#2e2a2a" stroke-opacity="0.84" stroke-width="0.9"/><path d="M671.9,340.6l.4-.9" stroke="#1a1a1a" stroke-width="0.8"/><g fill="currentColor" stroke="currentColor" stroke-width=".7"><path color="#005800" d="M627.6,274.7l9.2,13.8 1.1-11.7-9.7-2.7z"/><path color="#005800" d="M636.8,288.5l4,11.4 1.6-15-4.5-8.1z"/><path color="#005800" d="M640.8,299.9l4.1,9.8 1.3-11-3.8-13.8z"/><path color="#005a00" d="M644.9,309.7l4.1,8.3 1.1-7.8-3.9-11.5z"/><path color="#006300" d="M649,318l4.3,7 .9-5.4-4.1-9.4z"/><path color="#007100" d="M653.3,325l4.4,5.7 .7-3.5-4.2-7.6z"/><path color="#008b00" d="M657.7,330.7l4.5,4.5 .5-2.2-4.3-5.8z"/><path color="#00b100" d="M662.2,335.2l3.1,2.4 .4-1.5-3-3.1z"/><path color="#0d0" d="M665.3,337.6l3.1,2.1 .4-1.1-3.1-2.5z"/><path color="#00fa00" d="M668.4,339.7l3.2,1.6 .3-.7-3.1-2z"/></g><path d="M636.8,288.5l1.1-11.7M644.9,309.7l1.3-11M653.3,325l.9-5.4M662.2,335.2l.5-2.2" stroke="#2e2a2a" stroke-opacity="0.84" stroke-width="0.9"/><path d="M671.6,341.3l.3-.7" stroke="#1a1a1a" stroke-width="0.8"/><g fill="currentColor" stroke="currentColor" stroke-width=".7"><path color="#005800" d="M617.5,272.6l9.6,8.5 .5-6.4-9.5-2.8z"/><path color="#005800" d="M627.1,281.1l8.3,20.2 1.4-12.8-9.2-13.8z"/><path color="#005800" d="M635.4,301.3l4.2,8.4 1.2-9.8-4-11.4z"/><path color="#005c00" d="M639.6,309.7l4.3,7.3 1-7.3-4.1-9.8z"/><path color="#006400" d="M643.9,317l4.3,6.3 .8-5.3-4.1-8.3z"/><path color="#007100" d="M648.2,323.3l4.5,5.3 .6-3.6-4.3-7z"/><path color="#008500" d="M652.7,328.6l4.5,4.5 .5-2.4-4.4-5.7z"/><path color="#00a800" d="M657.2,333.1l4.6,3.6 .4-1.5-4.5-4.5z"/><path color="#00d600" d="M661.8,336.7l3.1,2.1 .4-1.2-3.1-2.4z"/><path color="#00fa00" d="M664.9,338.8l3.2,1.7 .3-.8-3.1-2.1z"/><path color="#00fa00" d="M668.1,340.5l3.2,1.5 .3-.7-3.2-1.6z"/></g><path d="M627.1,281.1l.5-6.4M635.4,301.3l1.4-12.8M643.9,317l1-7.3M652.7,328.6l.6-3.6M661.8,336.7l.4-1.5" stroke="#2e2a2a" stroke-opacity="0.84" stroke-width="0.9"/><path d="M671.3,342l.3-.7" stroke="#1a1a1a" stroke-width="0.8"/><g fill="currentColor" stroke="currentColor" stroke-width=".7"><path color="#005800" d="M607.5,270.4l9.7,6.1 .3-3.9-9.4-2.9z"/><path color="#005800" d="M617.2,276.5l8.5,18.2 1.4-13.6-9.6-8.5z"/><path color="#005800" d="M625.7,294.7l8.7,15.2 1-8.6-8.3-20.2z"/><path color="#005f00" d="M634.4,309.9l4.3,6.4 .9-6.6-4.2-8.4z"/><path color="#060" d="M638.7,316.3l4.4,5.7 .8-5-4.3-7.3z"/><path color="#007200" d="M643.1,322l4.5,5 .6-3.7-4.3-6.3z"/><path color="#008300" d="M647.6,327l4.5,4.3 .6-2.7-4.5-5.3z"/><path color="#009f00" d="M652.1,331.3l4.6,3.6 .5-1.8-4.5-4.5z"/><path color="#00ca00" d="M656.7,334.9l4.7,3 .4-1.2-4.6-3.6z"/><path color="#00f800" d="M661.4,337.9l3.1,1.8 .4-.9-3.1-2.1z"/><path color="#00fa00" d="M664.5,339.7l3.2,1.5 .4-.7-3.2-1.7z"/><path color="#00fa00" d="M667.7,341.2l3.2,1.4 .4-.6-3.2-1.5z"/></g><path d="M617.2,276.5l.3-3.9M625.7,294.7l1.4-13.6M634.4,309.9l1-8.6M643.1,322l.8-5M652.1,331.3l.6-2.7M661.4,337.9l.4-1.2" stroke="#2e2a2a" stroke-opacity="0.84" stroke-width="0.9"/><path d="M670.9,342.6l.4-.6" stroke="#1a1a1a" stroke-width="0.8"/><g fill="currentColor" stroke="currentColor" stroke-width=".7"><path color="#005800" d="M597.6,268.2l9.6,6.1 .3-3.9-9.2-2.8z"/><path color="#005800" d="M607.2,274.3l8.8,15.9 1.2-13.7-9.7-6.1z"/><path color="#005800" d="M616,290.2l8.8,13.9 .9-9.4-8.5-18.2z"/><path color="#005f00" d="M624.8,304.1l8.8,11.9 .8-6.1-8.7-15.2z"/><path color="#006900" d="M633.6,316l4.4,5.1 .7-4.8-4.3-6.4z"/><path color="#007300" d="M638,321.1l4.5,4.5 .6-3.6-4.4-5.7z"/><path color="#008300" d="M642.5,325.6l4.5,4.1 .6-2.7-4.5-5z"/><path color="#009a00" d="M647,329.7l4.6,3.5 .5-1.9-4.5-4.3z"/><path color="#00bc00" d="M651.6,333.2l4.7,3.1 .4-1.4-4.6-3.6z"/><path color="#00ea00" d="M656.3,336.3l4.7,2.6 .4-1-4.7-3z"/><path color="#00fa00" d="M661,338.9l3.2,1.6 .3-.8-3.1-1.8z"/><path color="#00fa00" d="M664.2,340.5l3.2,1.4 .3-.7-3.2-1.5z"/><path color="#00fa00" d="M667.4,341.9l3.2,1.2 .3-.5-3.2-1.4z"/></g><path d="M607.2,274.3l.3-3.9M616,290.2l1.2-13.7M624.8,304.1l.9-9.4M633.6,316l.8-6.1M642.5,325.6l.6-3.6M651.6,333.2l.5-1.9M661,338.9l.4-1" stroke="#2e2a2a" stroke-opacity="0.84" stroke-width="0.9"/><path d="M670.6,343.1l.3-.5" stroke="#1a1a1a" stroke-width="0.8"/><g fill="currentColor" stroke="currentColor" stroke-width=".7"><path color="#005800" d="M588,266l9.3,8 .3-5.8-9.1-2.7z"/><path color="#005800" d="M597.3,274l8.9,13.4 1-13.1-9.6-6.1z"/><path color="#005800" d="M606.2,287.4l8.9,12.4 .9-9.6-8.8-15.9z"/><path color="#005d00" d="M615.1,299.8l8.9,11.1 .8-6.8-8.8-13.9z"/><path color="#006800" d="M624,310.9l8.9,9.5 .7-4.4-8.8-11.9z"/><path color="#007600" d="M632.9,320.4l4.5,4.2 .6-3.5-4.4-5.1z"/><path color="#008400" d="M637.4,324.6l4.6,3.7 .5-2.7-4.5-4.5z"/><path color="#009800" d="M642,328.3l4.6,3.4 .4-2-4.5-4.1z"/><path color="#00b500" d="M646.6,331.7l4.6,3 .4-1.5-4.6-3.5z"/><path color="#00db00" d="M651.2,334.7l4.7,2.7 .4-1.1-4.7-3.1z"/><path color="#00fa00" d="M655.9,337.4l4.8,2.3 .3-.8-4.7-2.6z"/><path color="#00fa00" d="M660.7,339.7l3.1,1.5 .4-.7-3.2-1.6z"/><path color="#00fa00" d="M663.8,341.2l3.3,1.2 .3-.5-3.2-1.4z"/><path color="#00fa00" d="M667.1,342.4l3.2,1.2 .3-.5-3.2-1.2z"/></g><path d="M597.3,274l.3-5.8M606.2,287.4l1-13.1M615.1,299.8l.9-9.6M624,310.9l.8-6.8M632.9,320.4l.7-4.4M642,328.3l.5-2.7M651.2,334.7l.4-1.5M660.7,339.7l.3-.8" stroke="#2e2a2a" stroke-opacity="0.84" stroke-width="0.9"/><path d="M670.3,343.6l.3-.5" stroke="#1a1a1a" stroke-width="0.8"/><g fill="currentColor" stroke="currentColor" stroke-width=".7"><path color="#005800" d="M569,261.5l9.4,2.5 0-.2-8.8-2.8z"/><path color="#005800" d="M578.4,264l9.1,11.2 .5-9.2-9.6-2.2z"/><path color="#005800" d="M587.5,275.2l8.9,11 .9-12.2-9.3-8z"/><path color="#005800" d="M596.4,286.2l9,10.7 .8-9.5-8.9-13.4z"/><path color="#005d00" d="M605.4,296.9l8.9,10 .8-7.1-8.9-12.4z"/><path color="#060" d="M614.3,306.9l9,8.9 .7-4.9-8.9-11.1z"/><path color="#007400" d="M623.3,315.8l9,7.9 .6-3.3-8.9-9.5z"/><path color="#008600" d="M632.3,323.7l4.6,3.5 .5-2.6-4.5-4.2z"/><path color="#009800" d="M636.9,327.2l4.6,3.2 .5-2.1-4.6-3.7z"/><path color="#00b100" d="M641.5,330.4l4.6,2.9 .5-1.6-4.6-3.4z"/><path color="#00d100" d="M646.1,333.3l4.7,2.7 .4-1.3-4.6-3z"/><path color="#00f700" d="M650.8,336l4.7,2.3 .4-.9-4.7-2.7z"/><path color="#00fa00" d="M655.5,338.3l4.8,2.2 .4-.8-4.8-2.3z"/><path color="#00fa00" d="M660.3,340.5l3.2,1.3 .3-.6-3.1-1.5z"/><path color="#00fa00" d="M663.5,341.8l3.2,1.2 .4-.6-3.3-1.2z"/><path color="#00fa00" d="M666.7,343l3.3,1.1 .3-.5-3.2-1.2z"/></g><path d="M578.4,264l0-.2M587.5,275.2l.5-9.2M596.4,286.2l.9-12.2M605.4,296.9l.8-9.5M614.3,306.9l.8-7.1M623.3,315.8l.7-4.9M632.3,323.7l.6-3.3M641.5,330.4l.5-2.1M650.8,336l.4-1.3M660.3,340.5l.4-.8" stroke="#2e2a2a" stroke-opacity="0.84" stroke-width="0.9"/><path d="M670,344.1l.3-.5" stroke="#1a1a1a" stroke-width="0.8"/><g fill="currentColor" stroke="currentColor" stroke-width=".7"><path color="#005800" d="M550.7,257l9.1,3.4 0-1.1-8.6-2.7z"/><path color="#005800" d="M559.8,260.4l9,8.1 .2-7-9.2-2.2z"/><path color="#005800" d="M568.8,268.5l9,8.8 .6-13.3-9.4-2.5z"/><path color="#005800" d="M577.8,277.3l9,9 .7-11.1-9.1-11.2z"/><path color="#005900" d="M586.8,286.3l8.9,9 .7-9.1-8.9-11z"/><path color="#005e00" d="M595.7,295.3l9,8.7 .7-7.1-9-10.7z"/><path color="#006500" d="M604.7,304l9,8.1 .6-5.2-8.9-10z"/><path color="#007000" d="M613.7,312.1l9,7.5 .6-3.8-9-8.9z"/><path color="#008300" d="M622.7,319.6l9.1,6.7 .5-2.6-9-7.9z"/><path color="#009a00" d="M631.8,326.3l4.6,3 .5-2.1-4.6-3.5z"/><path color="#00b000" d="M636.4,329.3l4.7,2.8 .4-1.7-4.6-3.2z"/><path color="#00cb00" d="M641.1,332.1l4.6,2.5 .4-1.3-4.6-2.9z"/><path color="#00ec00" d="M645.7,334.6l4.7,2.4 .4-1-4.7-2.7z"/><path color="#00fa00" d="M650.4,337l4.8,2.1 .3-.8-4.7-2.3z"/><path color="#00fa00" d="M655.2,339.1l4.8,2 .3-.6-4.8-2.2z"/><path color="#00fa00" d="M660,341.1l3.2,1.3 .3-.6-3.2-1.3z"/><path color="#00fa00" d="M663.2,342.4l3.2,1.1 .3-.5-3.2-1.2z"/><path color="#00fa00" d="M666.4,343.5l3.3,1.1 .3-.5-3.3-1.1z"/></g><path d="M559.8,260.4l0-1.1M568.8,268.5l.2-7M577.8,277.3l.6-13.3M586.8,286.3l.7-11.1M595.7,295.3l.7-9.1M604.7,304l.7-7.1M613.7,312.1l.6-5.2M622.7,319.6l.6-3.8M631.8,326.3l.5-2.6M641.1,332.1l.4-1.7M650.4,337l.4-1M660,341.1l.3-.6" stroke="#2e2a2a" stroke-opacity="0.84" stroke-width="0.9"/><path d="M669.7,344.6l.3-.5" stroke="#1a1a1a" stroke-width="0.8"/><g fill="currentColor" stroke="currentColor" stroke-width=".7"><path color="#005800" d="M524.3,254.6l8.6,3.1 0-5.2-8.6-2.3z"/><path color="#005800" d="M532.9,257.7l8.8,4.2 .1-7.2-8.9-2.2z"/><path color="#005800" d="M541.7,261.9l8.8,5.2 .2-10.1-8.9-2.3z"/><path color="#005800" d="M550.5,267.1l8.9,6.1 .4-12.8-9.1-3.4z"/><path color="#005800" d="M559.4,273.2l8.9,6.7 .5-11.4-9-8.1z"/><path color="#005800" d="M568.3,279.9l8.9,7.2 .6-9.8-9-8.8z"/><path color="#005b00" d="M577.2,287.1l9,7.5 .6-8.3-9-9z"/><path color="#005f00" d="M586.2,294.6l8.9,7.4 .6-6.7-8.9-9z"/><path color="#006500" d="M595.1,302l9,7.3 .6-5.3-9-8.7z"/><path color="#006e00" d="M604.1,309.3l9,6.9 .6-4.1-9-8.1z"/><path color="#007d00" d="M613.1,316.2l9.1,6.4 .5-3-9-7.5z"/><path color="#009400" d="M622.2,322.6l9.2,5.7 .4-2-9.1-6.7z"/><path color="#00b000" d="M631.4,328.3l4.6,2.7 .4-1.7-4.6-3z"/><path color="#00c900" d="M636,331l4.6,2.4 .5-1.3-4.7-2.8z"/><path color="#00e600" d="M640.6,333.4l4.7,2.3 .4-1.1-4.6-2.5z"/><path color="#00fa00" d="M645.3,335.7l4.8,2.2 .3-.9-4.7-2.4z"/><path color="#00fa00" d="M650.1,337.9l4.7,2 .4-.8-4.8-2.1z"/><path color="#00fa00" d="M654.8,339.9l4.8,1.8 .4-.6-4.8-2z"/><path color="#00fa00" d="M659.6,341.7l3.3,1.2 .3-.5-3.2-1.3z"/><path color="#00fa00" d="M662.9,342.9l3.2,1.1 .3-.5-3.2-1.1z"/><path color="#00fa00" d="M666.1,344l3.3,1.1 .3-.5-3.3-1.1z"/></g><path d="M532.9,257.7l0-5.2M541.7,261.9l.1-7.2M550.5,267.1l.2-10.1M559.4,273.2l.4-12.8M568.3,279.9l.5-11.4M577.2,287.1l.6-9.8M586.2,294.6l.6-8.3M595.1,302l.6-6.7M604.1,309.3l.6-5.3M613.1,316.2l.6-4.1M622.2,322.6l.5-3M631.4,328.3l.4-2M640.6,333.4l.5-1.3M650.1,337.9l.3-.9M659.6,341.7l.4-.6" stroke="#2e2a2a" stroke-opacity="0.84" stroke-width="0.9"/><path d="M524.3,254.6l0-4.4M669.4,345.1l.3-.5" stroke="#1a1a1a" stroke-width="0.8"/><g fill="currentColor" stroke="currentColor" stroke-width=".7"><path color="#005800" d="M524.3,271.1l8.5,2.9 .1-16.3-8.6-3.1z"/><path color="#005800" d="M532.8,274l8.6,3.6 .3-15.7-8.8-4.2z"/><path color="#005900" d="M541.4,277.6l8.6,4.3 .5-14.8-8.8-5.2z"/><path color="#005a00" d="M550,281.9l8.8,4.8 .6-13.5-8.9-6.1z"/><path color="#005c00" d="M558.8,286.7l8.8,5.4 .7-12.2-8.9-6.7z"/><path color="#005f00" d="M567.6,292.1l8.9,5.6 .7-10.6-8.9-7.2z"/><path color="#006300" d="M576.5,297.7l8.9,5.9 .8-9-9-7.5z"/><path color="#006900" d="M585.4,303.6l8.9,5.8 .8-7.4-8.9-7.4z"/><path color="#007100" d="M594.3,309.4l9,5.8 .8-5.9-9-7.3z"/><path color="#007d00" d="M603.3,315.2l9.1,5.5 .7-4.5-9-6.9z"/><path color="#009000" d="M612.4,320.7l9.1,5.2 .7-3.3-9.1-6.4z"/><path color="#00ae00" d="M621.5,325.9l9.2,4.8 .7-2.4-9.2-5.7z"/><path color="#00ce00" d="M630.7,330.7l4.7,2.2 .6-1.9-4.6-2.7z"/><path color="#00e800" d="M635.4,332.9l4.7,2.2 .5-1.7-4.6-2.4z"/><path color="#00fa00" d="M640.1,335.1l4.7,2 .5-1.4-4.7-2.3z"/><path color="#00fa00" d="M644.8,337.1l4.7,1.9 .6-1.1-4.8-2.2z"/><path color="#00fa00" d="M649.5,339l4.8,1.8 .5-.9-4.7-2z"/><path color="#00fa00" d="M654.3,340.8l4.9,1.8 .4-.9-4.8-1.8z"/><path color="#00fa00" d="M659.2,342.6l3.2,1.1 .5-.8-3.3-1.2z"/><path color="#00fa00" d="M662.4,343.7l3.3,1.1 .4-.8-3.2-1.1z"/><path color="#00fa00" d="M665.7,344.8l3.2,1 .5-.7-3.3-1.1z"/></g><path d="M524.3,254.6l8.6,3.1 8.8,4.2 8.8,5.2 8.9,6.1 8.9,6.7 8.9,7.2 9,7.5 8.9,7.4 9,7.3 9,6.9 9.1,6.4 9.2,5.7 4.6,2.7 4.6,2.4 4.7,2.3 4.8,2.2 4.7,2 4.8,1.8 3.3,1.2 3.2,1.1 3.3,1.1M532.8,274l.1-16.3M541.4,277.6l.3-15.7M550,281.9l.5-14.8M558.8,286.7l.6-13.5M567.6,292.1l.7-12.2M576.5,297.7l.7-10.6M585.4,303.6l.8-9M594.3,309.4l.8-7.4M603.3,315.2l.8-5.9M612.4,320.7l.7-4.5M621.5,325.9l.7-3.3M630.7,330.7l.7-2.4M640.1,335.1l.5-1.7M649.5,339l.6-1.1M659.2,342.6l.4-.9" stroke="#2e2a2a" stroke-opacity="0.84" stroke-width="0.9"/><path d="M524.3,271.1l0-16.5M668.9,345.8l.5-.7" stroke="#1a1a1a" stroke-width="0.8"/><g fill="currentColor" stroke="currentColor" stroke-width=".7"><path color="#005f00" d="M524.1,282.2l8.4,2.8 .3-11-8.5-2.9z"/><path color="#006000" d="M532.5,285l8.5,3.2 .4-10.6-8.6-3.6z"/><path color="#006100" d="M541,288.2l8.6,3.7 .4-10-8.6-4.3z"/><path color="#006300" d="M549.6,291.9l8.6,4.1 .6-9.3-8.8-4.8z"/><path color="#060" d="M558.2,296l8.8,4.4 .6-8.3-8.8-5.4z"/><path color="#006a00" d="M567,300.4l8.8,4.6 .7-7.3-8.9-5.6z"/><path color="#006f00" d="M575.8,305l8.8,4.8 .8-6.2-8.9-5.9z"/><path color="#007800" d="M584.6,309.8l9,4.8 .7-5.2-8.9-5.8z"/><path color="#008300" d="M593.6,314.6l9,4.7 .7-4.1-9-5.8z"/><path color="#009400" d="M602.6,319.3l9.1,4.7 .7-3.3-9.1-5.5z"/><path color="#00ad00" d="M611.7,324l9.1,4.4 .7-2.5-9.1-5.2z"/><path color="#00d100" d="M620.8,328.4l9.3,4.1 .6-1.8-9.2-4.8z"/><path color="#00f100" d="M630.1,332.5l4.7,2 .6-1.6-4.7-2.2z"/><path color="#00fa00" d="M634.8,334.5l4.7,1.9 .6-1.3-4.7-2.2z"/><path color="#00fa00" d="M639.5,336.4l4.8,1.8 .5-1.1-4.7-2z"/><path color="#00fa00" d="M644.3,338.2l4.7,1.8 .5-1-4.7-1.9z"/><path color="#00fa00" d="M649,340l4.8,1.7 .5-.9-4.8-1.8z"/><path color="#00fa00" d="M653.8,341.7l4.9,1.7 .5-.8-4.9-1.8z"/><path color="#00fa00" d="M658.7,343.4l3.2,1 .5-.7-3.2-1.1z"/><path color="#00fa00" d="M661.9,344.4l3.3,1.1 .5-.7-3.3-1.1z"/><path color="#00fa00" d="M665.2,345.5l3.3,1 .4-.7-3.2-1z"/></g><path d="M532.5,285l.3-11M541,288.2l.4-10.6M549.6,291.9l.4-10M558.2,296l.6-9.3M567,300.4l.6-8.3M575.8,305l.7-7.3M584.6,309.8l.8-6.2M593.6,314.6l.7-5.2M602.6,319.3l.7-4.1M611.7,324l.7-3.3M620.8,328.4l.7-2.5M630.1,332.5l.6-1.8M639.5,336.4l.6-1.3M649,340l.5-1M658.7,343.4l.5-.8" stroke="#2e2a2a" stroke-opacity="0.84" stroke-width="0.9"/><path d="M524.1,282.2l.2-11.1M668.5,346.5l.4-.7" stroke="#1a1a1a" stroke-width="0.8"/><g fill="currentColor" stroke="currentColor" stroke-width=".7"><path color="#006900" d="M523.7,290l8.4,2.6 .4-7.6-8.4-2.8z"/><path color="#006a00" d="M532.1,292.6l8.4,3 .5-7.4-8.5-3.2z"/><path color="#006c00" d="M540.5,295.6l8.5,3.3 .6-7-8.6-3.7z"/><path color="#006f00" d="M549,298.9l8.7,3.6 .5-6.5-8.6-4.1z"/><path color="#007300" d="M557.7,302.5l8.7,3.8 .6-5.9-8.8-4.4z"/><path color="#007800" d="M566.4,306.3l8.7,3.9 .7-5.2-8.8-4.6z"/><path color="#008000" d="M575.1,310.2l8.9,4.1 .6-4.5-8.8-4.8z"/><path color="#008b00" d="M584,314.3l8.9,4.1 .7-3.8-9-4.8z"/><path color="#009b00" d="M592.9,318.4l9,4 .7-3.1-9-4.7z"/><path color="#00b000" d="M601.9,322.4l9.1,4 .7-2.4-9.1-4.7z"/><path color="#00ce00" d="M611,326.4l9.2,3.9 .6-1.9-9.1-4.4z"/><path color="#00f200" d="M620.2,330.3l9.4,3.7 .5-1.5-9.3-4.1z"/><path color="#00fa00" d="M629.6,334l4.7,1.8 .5-1.3-4.7-2z"/><path color="#00fa00" d="M634.3,335.8l4.7,1.7 .5-1.1-4.7-1.9z"/><path color="#00fa00" d="M639,337.5l4.7,1.7 .6-1-4.8-1.8z"/><path color="#00fa00" d="M643.7,339.2l4.8,1.7 .5-.9-4.7-1.8z"/><path color="#00fa00" d="M648.5,340.9l4.8,1.6 .5-.8-4.8-1.7z"/><path color="#00fa00" d="M653.3,342.5l4.9,1.6 .5-.7-4.9-1.7z"/><path color="#00fa00" d="M658.2,344.1l3.3,1.1 .4-.8-3.2-1z"/><path color="#00fa00" d="M661.5,345.2l3.2,1 .5-.7-3.3-1.1z"/><path color="#00fa00" d="M664.7,346.2l3.3,1 .5-.7-3.3-1z"/></g><path d="M532.1,292.6l.4-7.6M540.5,295.6l.5-7.4M549,298.9l.6-7M557.7,302.5l.5-6.5M566.4,306.3l.6-5.9M575.1,310.2l.7-5.2M584,314.3l.6-4.5M592.9,318.4l.7-3.8M601.9,322.4l.7-3.1M611,326.4l.7-2.4M620.2,330.3l.6-1.9M629.6,334l.5-1.5M639,337.5l.5-1.1M648.5,340.9l.5-.9M658.2,344.1l.5-.7" stroke="#2e2a2a" stroke-opacity="0.84" stroke-width="0.9"/><path d="M523.7,290l.4-7.8M668,347.2l.5-.7" stroke="#1a1a1a" stroke-width="0.8"/><g fill="currentColor" stroke="currentColor" stroke-width=".7"><path color="#070" d="M523.3,295.6l8.3,2.6 .5-5.6-8.4-2.6z"/><path color="#007800" d="M531.6,298.2l8.4,2.8 .5-5.4-8.4-3z"/><path color="#007b00" d="M540,301l8.5,3 .5-5.1-8.5-3.3z"/><path color="#007f00" d="M548.5,304l8.6,3.2 .6-4.7-8.7-3.6z"/><path color="#008400" d="M557.1,307.2l8.7,3.4 .6-4.3-8.7-3.8z"/><path color="#008c00" d="M565.8,310.6l8.7,3.5 .6-3.9-8.7-3.9z"/><path color="#009600" d="M574.5,314.1l8.9,3.5 .6-3.3-8.9-4.1z"/><path color="#00a400" d="M583.4,317.6l8.9,3.6 .6-2.8-8.9-4.1z"/><path color="#00b700" d="M592.3,321.2l9,3.6 .6-2.4-9-4z"/><path color="#00d000" d="M601.3,324.8l9.1,3.5 .6-1.9-9.1-4z"/><path color="#00ed00" d="M610.4,328.3l9.3,3.5 .5-1.5-9.2-3.9z"/><path color="#00fa00" d="M619.7,331.8l9.3,3.4 .6-1.2-9.4-3.7z"/><path color="#00fa00" d="M629,335.2l4.7,1.7 .6-1.1-4.7-1.8z"/><path color="#00fa00" d="M633.7,336.9l4.8,1.6 .5-1-4.7-1.7z"/><path color="#00fa00" d="M638.5,338.5l4.7,1.6 .5-.9-4.7-1.7z"/><path color="#00fa00" d="M643.2,340.1l4.8,1.6 .5-.8-4.8-1.7z"/><path color="#00fa00" d="M648,341.7l4.9,1.6 .4-.8-4.8-1.6z"/><path color="#00fa00" d="M652.9,343.3l4.8,1.6 .5-.8-4.9-1.6z"/><path color="#00fa00" d="M657.7,344.9l3.3,1 .5-.7-3.3-1.1z"/><path color="#00fa00" d="M661,345.9l3.3,1 .4-.7-3.2-1z"/><path color="#00fa00" d="M664.3,346.9l3.3,1.1 .4-.8-3.3-1z"/></g><path d="M531.6,298.2l.5-5.6M540,301l.5-5.4M548.5,304l.5-5.1M557.1,307.2l.6-4.7M565.8,310.6l.6-4.3M574.5,314.1l.6-3.9M583.4,317.6l.6-3.3M592.3,321.2l.6-2.8M601.3,324.8l.6-2.4M610.4,328.3l.6-1.9M619.7,331.8l.5-1.5M629,335.2l.6-1.2M638.5,338.5l.5-1M648,341.7l.5-.8M657.7,344.9l.5-.8" stroke="#2e2a2a" stroke-opacity="0.84" stroke-width="0.9"/><path d="M523.3,295.6l.4-5.6M667.6,348l.4-.8" stroke="#1a1a1a" stroke-width="0.8"/><g fill="currentColor" stroke="currentColor" stroke-width=".7"><path color="#008900" d="M522.9,299.7l8.2,2.6 .5-4.1-8.3-2.6z"/><path color="#008b00" d="M531.1,302.3l8.4,2.7 .5-4-8.4-2.8z"/><path color="#008e00" d="M539.5,305l8.5,2.8 .5-3.8-8.5-3z"/><path color="#009300" d="M548,307.8l8.5,3 .6-3.6-8.6-3.2z"/><path color="#009a00" d="M556.5,310.8l8.7,3 .6-3.2-8.7-3.4z"/><path color="#00a300" d="M565.2,313.8l8.7,3.2 .6-2.9-8.7-3.5z"/><path color="#00b000" d="M573.9,317l8.9,3.2 .6-2.6-8.9-3.5z"/><path color="#00c100" d="M582.8,320.2l8.9,3.2 .6-2.2-8.9-3.6z"/><path color="#00d600" d="M591.7,323.4l9,3.3 .6-1.9-9-3.6z"/><path color="#0e0" d="M600.7,326.7l9.2,3.2 .5-1.6-9.1-3.5z"/><path color="#00fa00" d="M609.9,329.9l9.2,3.2 .6-1.3-9.3-3.5z"/><path color="#00fa00" d="M619.1,333.1l9.4,3.2 .5-1.1-9.3-3.4z"/><path color="#00fa00" d="M628.5,336.3l4.7,1.6 .5-1-4.7-1.7z"/><path color="#00fa00" d="M633.2,337.9l4.7,1.5 .6-.9-4.8-1.6z"/><path color="#00fa00" d="M637.9,339.4l4.8,1.6 .5-.9-4.7-1.6z"/><path color="#00fa00" d="M642.7,341l4.8,1.5 .5-.8-4.8-1.6z"/><path color="#00fa00" d="M647.5,342.5l4.9,1.6 .5-.8-4.9-1.6z"/><path color="#00fa00" d="M652.4,344.1l4.8,1.5 .5-.7-4.8-1.6z"/><path color="#00fa00" d="M657.2,345.6l3.3,1 .5-.7-3.3-1z"/><path color="#00fa00" d="M660.5,346.6l3.3,1 .5-.7-3.3-1z"/><path color="#00fa00" d="M663.8,347.6l3.3,1.1 .5-.7-3.3-1.1z"/></g><path d="M531.1,302.3l.5-4.1M539.5,305l.5-4M548,307.8l.5-3.8M556.5,310.8l.6-3.6M565.2,313.8l.6-3.2M573.9,317l.6-2.9M582.8,320.2l.6-2.6M591.7,323.4l.6-2.2M600.7,326.7l.6-1.9M609.9,329.9l.5-1.6M619.1,333.1l.6-1.3M628.5,336.3l.5-1.1M637.9,339.4l.6-.9M647.5,342.5l.5-.8M657.2,345.6l.5-.7" stroke="#2e2a2a" stroke-opacity="0.84" stroke-width="0.9"/><path d="M522.9,299.7l.4-4.1M667.1,348.7l.5-.7" stroke="#1a1a1a" stroke-width="0.8"/><g fill="currentColor" stroke="currentColor" stroke-width=".7"><path color="#00a000" d="M522.4,302.8l8.2,2.6 .5-3.1-8.2-2.6z"/><path color="#00a200" d="M530.6,305.4l8.4,2.6 .5-3-8.4-2.7z"/><path color="#00a600" d="M539,308l8.4,2.7 .6-2.9-8.5-2.8z"/><path color="#00ac00" d="M547.4,310.7l8.5,2.8 .6-2.7-8.5-3z"/><path color="#00b400" d="M555.9,313.5l8.7,2.8 .6-2.5-8.7-3z"/><path color="#00bf00" d="M564.6,316.3l8.7,2.9 .6-2.2-8.7-3.2z"/><path color="#00cd00" d="M573.3,319.2l8.9,3 .6-2-8.9-3.2z"/><path color="#00df00" d="M582.2,322.2l8.9,3 .6-1.8-8.9-3.2z"/><path color="#00f300" d="M591.1,325.2l9.1,3 .5-1.5-9-3.3z"/><path color="#00fa00" d="M600.2,328.2l9.1,3 .6-1.3-9.2-3.2z"/><path color="#00fa00" d="M609.3,331.2l9.3,3 .5-1.1-9.2-3.2z"/><path color="#00fa00" d="M618.6,334.2l9.3,3 .6-.9-9.4-3.2z"/><path color="#00fa00" d="M627.9,337.2l4.8,1.6 .5-.9-4.7-1.6z"/><path color="#00fa00" d="M632.7,338.8l4.7,1.5 .5-.9-4.7-1.5z"/><path color="#00fa00" d="M637.4,340.3l4.8,1.5 .5-.8-4.8-1.6z"/><path color="#00fa00" d="M642.2,341.8l4.8,1.5 .5-.8-4.8-1.5z"/><path color="#00fa00" d="M647,343.3l4.9,1.5 .5-.7-4.9-1.6z"/><path color="#00fa00" d="M651.9,344.8l4.9,1.5 .4-.7-4.8-1.5z"/><path color="#00fa00" d="M656.8,346.3l3.2,1 .5-.7-3.3-1z"/><path color="#00fa00" d="M660,347.3l3.3,1 .5-.7-3.3-1z"/><path color="#00fa00" d="M663.3,348.3l3.3,1.1 .5-.7-3.3-1.1z"/></g><path d="M530.6,305.4l.5-3.1M539,308l.5-3M547.4,310.7l.6-2.9M555.9,313.5l.6-2.7M564.6,316.3l.6-2.5M573.3,319.2l.6-2.2M582.2,322.2l.6-2M591.1,325.2l.6-1.8M600.2,328.2l.5-1.5M609.3,331.2l.6-1.3M618.6,334.2l.5-1.1M627.9,337.2l.6-.9M637.4,340.3l.5-.9M647,343.3l.5-.8M656.8,346.3l.4-.7" stroke="#2e2a2a" stroke-opacity="0.84" stroke-width="0.9"/><path d="M522.4,302.8l.5-3.1M666.6,349.4l.5-.7" stroke="#1a1a1a" stroke-width="0.8"/><g fill="currentColor" stroke="currentColor" stroke-width=".7"><path color="#00ba00" d="M521.8,305.3l8.3,2.5 .5-2.4-8.2-2.6z"/><path color="#00bd00" d="M530.1,307.8l8.3,2.6 .6-2.4-8.4-2.6z"/><path color="#00c100" d="M538.4,310.4l8.4,2.6 .6-2.3-8.4-2.7z"/><path color="#00c800" d="M546.8,313l8.6,2.6 .5-2.1-8.5-2.8z"/><path color="#00d100" d="M555.4,315.6l8.6,2.7 .6-2-8.7-2.8z"/><path color="#0d0" d="M564,318.3l8.7,2.8 .6-1.9-8.7-2.9z"/><path color="#00eb00" d="M572.7,321.1l8.9,2.7 .6-1.6-8.9-3z"/><path color="#00fa00" d="M581.6,323.8l8.9,2.8 .6-1.4-8.9-3z"/><path color="#00fa00" d="M590.5,326.6l9.1,2.9 .6-1.3-9.1-3z"/><path color="#00fa00" d="M599.6,329.5l9.2,2.8 .5-1.1-9.1-3z"/><path color="#00fa00" d="M608.8,332.3l9.2,2.9 .6-1-9.3-3z"/><path color="#00fa00" d="M618,335.2l9.4,2.9 .5-.9-9.3-3z"/><path color="#00fa00" d="M627.4,338.1l4.8,1.5 .5-.8-4.8-1.6z"/><path color="#00fa00" d="M632.2,339.6l4.7,1.5 .5-.8-4.7-1.5z"/><path color="#00fa00" d="M636.9,341.1l4.8,1.5 .5-.8-4.8-1.5z"/><path color="#00fa00" d="M641.7,342.6l4.8,1.4 .5-.7-4.8-1.5z"/><path color="#00fa00" d="M646.5,344l4.9,1.5 .5-.7-4.9-1.5z"/><path color="#00fa00" d="M651.4,345.5l4.9,1.5 .5-.7-4.9-1.5z"/><path color="#00fa00" d="M656.3,347l3.3,1 .4-.7-3.2-1z"/><path color="#00fa00" d="M659.6,348l3.3,1 .4-.7-3.3-1z"/><path color="#00fa00" d="M662.9,349l3.3,1.1 .4-.7-3.3-1.1z"/></g><path d="M530.1,307.8l.5-2.4M538.4,310.4l.6-2.4M546.8,313l.6-2.3M555.4,315.6l.5-2.1M564,318.3l.6-2M572.7,321.1l.6-1.9M581.6,323.8l.6-1.6M590.5,326.6l.6-1.4M599.6,329.5l.6-1.3M608.8,332.3l.5-1.1M618,335.2l.6-1M627.4,338.1l.5-.9M636.9,341.1l.5-.8M646.5,344l.5-.7M656.3,347l.5-.7" stroke="#2e2a2a" stroke-opacity="0.84" stroke-width="0.9"/><path d="M521.8,305.3l.6-2.5M666.2,350.1l.4-.7" stroke="#1a1a1a" stroke-width="0.8"/><g fill="currentColor" stroke="currentColor" stroke-width=".7"><path color="#003000" d="M521.2,305.4l8.2,2.6 .7-.2-8.3-2.5z"/><path color="#003000" d="M529.4,308l8.4,2.6 .6-.2-8.3-2.6z"/><path color="#003000" d="M537.8,310.6l8.4,2.6 .6-.2-8.4-2.6z"/><path color="#003000" d="M546.2,313.2l8.6,2.7 .6-.3-8.6-2.6z"/><path color="#003000" d="M554.8,315.9l8.6,2.7 .6-.3-8.6-2.7z"/><path color="#003000" d="M563.4,318.6l8.8,2.8 .5-.3-8.7-2.8z"/><path color="#003000" d="M572.2,321.4l8.8,2.8 .6-.4-8.9-2.7z"/><path color="#003000" d="M581,324.2l9,2.9 .5-.5-8.9-2.8z"/><path color="#07fd07" d="M590,327.1l9.1,2.9 .5-.5-9.1-2.9z"/><path color="#06fc06" d="M599.1,330l9.1,2.9 .6-.6-9.2-2.8z"/><path color="#04fc04" d="M608.2,332.9l9.3,2.9 .5-.6-9.2-2.9z"/><path color="#03fb03" d="M617.5,335.8l9.4,3 .5-.7-9.4-2.9z"/><path color="#02fb02" d="M626.9,338.8l4.8,1.4 .5-.6-4.8-1.5z"/><path color="#02fb02" d="M631.7,340.2l4.7,1.5 .5-.6-4.7-1.5z"/><path color="#01fb01" d="M636.4,341.7l4.8,1.5 .5-.6-4.8-1.5z"/><path color="#01fa01" d="M641.2,343.2l4.9,1.5 .4-.7-4.8-1.4z"/><path color="#01fa01" d="M646.1,344.7l4.8,1.5 .5-.7-4.9-1.5z"/><path color="#00fa00" d="M650.9,346.2l4.9,1.5 .5-.7-4.9-1.5z"/><path color="#00fa00" d="M655.8,347.7l3.3,1 .5-.7-3.3-1z"/><path color="#00fa00" d="M659.1,348.7l3.3,1 .5-.7-3.3-1z"/><path color="#00fa00" d="M662.4,349.7l3.3,1.1 .5-.7-3.3-1.1z"/></g><path d="M529.4,308l.7-.2M537.8,310.6l.6-.2M546.2,313.2l.6-.2M554.8,315.9l.6-.3M563.4,318.6l.6-.3M572.2,321.4l.5-.3M581,324.2l.6-.4M590,327.1l.5-.5M599.1,330l.5-.5M608.2,332.9l.6-.6M617.5,335.8l.5-.6M626.9,338.8l.5-.7M636.4,341.7l.5-.6M646.1,344.7l.4-.7M655.8,347.7l.5-.7" stroke="#2e2a2a" stroke-opacity="0.84" stroke-width="0.9"/><path d="M521.2,305.4l.6-.1M665.7,350.8l.5-.7" stroke="#1a1a1a" stroke-width="0.8"/><g fill="currentColor" stroke="currentColor" stroke-width=".7"><path color="#003000" d="M518.4,300.8l8.3,2.6 2.7,4.6-8.2-2.6z"/><path color="#003000" d="M526.7,303.4l8.5,2.9 2.6,4.3-8.4-2.6z"/><path color="#003000" d="M535.2,306.3l8.5,3 2.5,3.9-8.4-2.6z"/><path color="#003000" d="M543.7,309.3l8.7,3.3 2.4,3.3-8.6-2.7z"/><path color="#003000" d="M552.4,312.6l8.7,3.3 2.3,2.7-8.6-2.7z"/><path color="#003000" d="M561.1,315.9l8.9,3.5 2.2,2-8.8-2.8z"/><path color="#003000" d="M570,319.4l8.9,3.6 2.1,1.2-8.8-2.8z"/><path color="#003000" d="M578.9,323l9,3.5 2.1,.6-9-2.9z"/><path color="#07fd07" d="M587.9,326.5l9.1,3.6 2.1-.1-9.1-2.9z"/><path color="#06fc06" d="M597,330.1l9.2,3.6 2-.8-9.1-2.9z"/><path color="#04fc04" d="M606.2,333.7l9.3,3.5 2-1.4-9.3-2.9z"/><path color="#03fb03" d="M615.5,337.2l9.4,3.4 2-1.8-9.4-3z"/><path color="#02fb02" d="M624.9,340.6l4.8,1.7 2-2.1-4.8-1.4z"/><path color="#02fb02" d="M629.7,342.3l4.8,1.7 1.9-2.3-4.7-1.5z"/><path color="#01fa01" d="M634.5,344l4.8,1.6 1.9-2.4-4.8-1.5z"/><path color="#01fa01" d="M639.3,345.6l4.8,1.6 2-2.5-4.9-1.5z"/><path color="#01fa01" d="M644.1,347.2l4.9,1.7 1.9-2.7-4.8-1.5z"/><path color="#00fa00" d="M649,348.9l4.9,1.5 1.9-2.7-4.9-1.5z"/><path color="#00fa00" d="M653.9,350.4l3.3,1.1 1.9-2.8-3.3-1z"/><path color="#00fa00" d="M657.2,351.5l3.3,1 1.9-2.8-3.3-1z"/><path color="#00fa00" d="M660.5,352.5l3.3,1.1 1.9-2.8-3.3-1.1z"/></g><path d="M521.2,305.4l8.2,2.6 8.4,2.6 8.4,2.6 8.6,2.7 8.6,2.7 8.8,2.8 8.8,2.8 9,2.9 9.1,2.9 9.1,2.9 9.3,2.9 9.4,3 4.8,1.4 4.7,1.5 4.8,1.5 4.9,1.5 4.8,1.5 4.9,1.5 3.3,1 3.3,1 3.3,1.1M526.7,303.4l2.7,4.6M535.2,306.3l2.6,4.3M543.7,309.3l2.5,3.9M552.4,312.6l2.4,3.3M561.1,315.9l2.3,2.7M570,319.4l2.2,2M578.9,323l2.1,1.2M587.9,326.5l2.1,.6M597,330.1l2.1-.1M606.2,333.7l2-.8M615.5,337.2l2-1.4M624.9,340.6l2-1.8M634.5,344l1.9-2.3M644.1,347.2l2-2.5M653.9,350.4l1.9-2.7" stroke="#2e2a2a" stroke-opacity="0.84" stroke-width="0.9"/><path d="M518.4,300.8l2.8,4.6M663.8,353.6l1.9-2.8" stroke="#1a1a1a" stroke-width="0.8"/><g fill="currentColor" stroke="currentColor" stroke-width=".7"><path color="#003000" d="M515.6,296.9l8.4,2.8 2.7,3.7-8.3-2.6z"/><path color="#003000" d="M524,299.7l8.6,3.1 2.6,3.5-8.5-2.9z"/><path color="#003000" d="M532.6,302.8l8.6,3.4 2.5,3.1-8.5-3z"/><path color="#003000" d="M541.2,306.2l8.7,3.7 2.5,2.7-8.7-3.3z"/><path color="#003000" d="M549.9,309.9l8.9,3.9 2.3,2.1-8.7-3.3z"/><path color="#003000" d="M558.8,313.8l8.9,4.1 2.3,1.5-8.9-3.5z"/><path color="#003000" d="M567.7,317.9l9,4.3 2.2,.8-8.9-3.6z"/><path color="#07fd07" d="M576.7,322.2l9,4.2 2.2,.1-9-3.5z"/><path color="#06fd06" d="M585.7,326.4l9.2,4.2 2.1-.5-9.1-3.6z"/><path color="#05fc05" d="M594.9,330.6l9.2,4.2 2.1-1.1-9.2-3.6z"/><path color="#04fc04" d="M604.1,334.8l9.4,4 2-1.6-9.3-3.5z"/><path color="#03fb03" d="M613.5,338.8l9.4,3.8 2-2-9.4-3.4z"/><path color="#02fb02" d="M622.9,342.6l4.8,1.9 2-2.2-4.8-1.7z"/><path color="#01fb01" d="M627.7,344.5l4.8,1.8 2-2.3-4.8-1.7z"/><path color="#01fa01" d="M632.5,346.3l4.8,1.8 2-2.5-4.8-1.6z"/><path color="#01fa01" d="M637.3,348.1l4.8,1.7 2-2.6-4.8-1.6z"/><path color="#00fa00" d="M642.1,349.8l4.9,1.7 2-2.6-4.9-1.7z"/><path color="#00fa00" d="M647,351.5l5,1.7 1.9-2.8-4.9-1.5z"/><path color="#00fa00" d="M652,353.2l3.3,1.1 1.9-2.8-3.3-1.1z"/><path color="#00fa00" d="M655.3,354.3l3.3,1.1 1.9-2.9-3.3-1z"/><path color="#00fa00" d="M658.6,355.4l3.3,1 1.9-2.8-3.3-1.1z"/></g><path d="M524,299.7l2.7,3.7M532.6,302.8l2.6,3.5M541.2,306.2l2.5,3.1M549.9,309.9l2.5,2.7M558.8,313.8l2.3,2.1M567.7,317.9l2.3,1.5M576.7,322.2l2.2,.8M585.7,326.4l2.2,.1M594.9,330.6l2.1-.5M604.1,334.8l2.1-1.1M613.5,338.8l2-1.6M622.9,342.6l2-2M632.5,346.3l2-2.3M642.1,349.8l2-2.6M652,353.2l1.9-2.8" stroke="#2e2a2a" stroke-opacity="0.84" stroke-width="0.9"/><path d="M515.6,296.9l2.8,3.9M661.9,356.4l1.9-2.8" stroke="#1a1a1a" stroke-width="0.8"/><g fill="currentColor" stroke="currentColor" stroke-width=".7"><path color="#003000" d="M512.7,294.2l8.6,2.9 2.7,2.6-8.4-2.8z"/><path color="#003000" d="M521.3,297.1l8.6,3.3 2.7,2.4-8.6-3.1z"/><path color="#003000" d="M529.9,300.4l8.7,3.7 2.6,2.1-8.6-3.4z"/><path color="#003000" d="M538.6,304.1l8.8,4.2 2.5,1.6-8.7-3.7z"/><path color="#003000" d="M547.4,308.3l9,4.4 2.4,1.1-8.9-3.9z"/><path color="#08fd08" d="M556.4,312.7l8.9,4.6 2.4,.6-8.9-4.1z"/><path color="#07fd07" d="M565.3,317.3l9.1,4.7 2.3,.2-9-4.3z"/><path color="#06fc06" d="M574.4,322l9.1,4.8 2.2-.4-9-4.2z"/><path color="#05fc05" d="M583.5,326.8l9.2,4.8 2.2-1-9.2-4.2z"/><path color="#04fc04" d="M592.7,331.6l9.3,4.6 2.1-1.4-9.2-4.2z"/><path color="#03fb03" d="M602,336.2l9.4,4.4 2.1-1.8-9.4-4z"/><path color="#02fb02" d="M611.4,340.6l9.4,4.2 2.1-2.2-9.4-3.8z"/><path color="#01fb01" d="M620.8,344.8l4.8,2 2.1-2.3-4.8-1.9z"/><path color="#01fa01" d="M625.6,346.8l4.8,2 2.1-2.5-4.8-1.8z"/><path color="#01fa01" d="M630.4,348.8l4.9,1.9 2-2.6-4.8-1.8z"/><path color="#01fa01" d="M635.3,350.7l4.9,1.8 1.9-2.7-4.8-1.7z"/><path color="#00fa00" d="M640.2,352.5l4.9,1.8 1.9-2.8-4.9-1.7z"/><path color="#00fa00" d="M645.1,354.3l4.9,1.7 2-2.8-5-1.7z"/><path color="#00fa00" d="M650,356l3.3,1.1 2-2.8-3.3-1.1z"/><path color="#00fa00" d="M653.3,357.1l3.4,1.1 1.9-2.8-3.3-1.1z"/><path color="#00fa00" d="M656.7,358.2l3.3,1.1 1.9-2.9-3.3-1z"/></g><path d="M515.6,296.9l8.4,2.8 8.6,3.1 8.6,3.4 8.7,3.7 8.9,3.9 8.9,4.1 9,4.3 9,4.2 9.2,4.2 9.2,4.2 9.4,4 9.4,3.8 4.8,1.9 4.8,1.8 4.8,1.8 4.8,1.7 4.9,1.7 5,1.7 3.3,1.1 3.3,1.1 3.3,1M521.3,297.1l2.7,2.6M529.9,300.4l2.7,2.4M538.6,304.1l2.6,2.1M547.4,308.3l2.5,1.6M556.4,312.7l2.4,1.1M565.3,317.3l2.4,.6M574.4,322l2.3,.2M583.5,326.8l2.2-.4M592.7,331.6l2.2-1M602,336.2l2.1-1.4M611.4,340.6l2.1-1.8M620.8,344.8l2.1-2.2M630.4,348.8l2.1-2.5M640.2,352.5l1.9-2.7M650,356l2-2.8" stroke="#2e2a2a" stroke-opacity="0.84" stroke-width="0.9"/><path d="M512.7,294.2l2.9,2.7M660,359.3l1.9-2.9" stroke="#1a1a1a" stroke-width="0.8"/><g fill="currentColor" stroke="currentColor" stroke-width=".7"><path color="#003000" d="M509.9,292.7l8.6,2.9 2.8,1.5-8.6-2.9z"/><path color="#003000" d="M518.5,295.6l8.7,3.5 2.7,1.3-8.6-3.3z"/><path color="#08fd08" d="M527.2,299.1l8.8,4 2.6,1-8.7-3.7z"/><path color="#07fd07" d="M536,303.1l8.9,4.5 2.5,.7-8.8-4.2z"/><path color="#07fd07" d="M544.9,307.6l9,4.7 2.5,.4-9-4.4z"/><path color="#06fd06" d="M553.9,312.3l9.1,5.1 2.3-.1-8.9-4.6z"/><path color="#06fc06" d="M563,317.4l9.1,5.2 2.3-.6-9.1-4.7z"/><path color="#05fc05" d="M572.1,322.6l9.1,5.2 2.3-1-9.1-4.8z"/><path color="#04fc04" d="M581.2,327.8l9.3,5.1 2.2-1.3-9.2-4.8z"/><path color="#03fb03" d="M590.5,332.9l9.3,5 2.2-1.7-9.3-4.6z"/><path color="#02fb02" d="M599.8,337.9l9.4,4.8 2.2-2.1-9.4-4.4z"/><path color="#02fb02" d="M609.2,342.7l9.5,4.5 2.1-2.4-9.4-4.2z"/><path color="#01fa01" d="M618.7,347.2l4.8,2.1 2.1-2.5-4.8-2z"/><path color="#01fa01" d="M623.5,349.3l4.9,2.1 2-2.6-4.8-2z"/><path color="#01fa01" d="M628.4,351.4l4.8,1.9 2.1-2.6-4.9-1.9z"/><path color="#00fa00" d="M633.2,353.3l4.9,1.9 2.1-2.7-4.9-1.8z"/><path color="#00fa00" d="M638.1,355.2l5,1.9 2-2.8-4.9-1.8z"/><path color="#00fa00" d="M643.1,357.1l4.9,1.8 2-2.9-4.9-1.7z"/><path color="#00fa00" d="M648,358.9l3.4,1.1 1.9-2.9-3.3-1.1z"/><path color="#00fa00" d="M651.4,360l3.3,1.1 2-2.9-3.4-1.1z"/><path color="#00fa00" d="M654.7,361.1l3.4,1.1 1.9-2.9-3.3-1.1z"/></g><path d="M518.5,295.6l2.8,1.5M527.2,299.1l2.7,1.3M536,303.1l2.6,1M544.9,307.6l2.5,.7M553.9,312.3l2.5,.4M563,317.4l2.3-.1M572.1,322.6l2.3-.6M581.2,327.8l2.3-1M590.5,332.9l2.2-1.3M599.8,337.9l2.2-1.7M609.2,342.7l2.2-2.1M618.7,347.2l2.1-2.4M628.4,351.4l2-2.6M638.1,355.2l2.1-2.7M648,358.9l2-2.9" stroke="#2e2a2a" stroke-opacity="0.84" stroke-width="0.9"/><path d="M509.9,292.7l2.8,1.5M658.1,362.2l1.9-2.9" stroke="#1a1a1a" stroke-width="0.8"/><g fill="currentColor" stroke="currentColor" stroke-width=".7"><path color="#003000" d="M507,291.6l8.7,3 2.8,1-8.6-2.9z"/><path color="#07fd07" d="M515.7,294.6l8.8,3.7 2.7,.8-8.7-3.5z"/><path color="#07fd07" d="M524.5,298.3l8.9,4.2 2.6,.6-8.8-4z"/><path color="#07fd07" d="M533.4,302.5l9,4.7 2.5,.4-8.9-4.5z"/><path color="#06fd06" d="M542.4,307.2l9,5.1 2.5,0-9-4.7z"/><path color="#06fc06" d="M551.4,312.3l9.1,5.4 2.5-.3-9.1-5.1z"/><path color="#05fc05" d="M560.5,317.7l9.2,5.6 2.4-.7-9.1-5.2z"/><path color="#04fc04" d="M569.7,323.3l9.2,5.6 2.3-1.1-9.1-5.2z"/><path color="#03fb03" d="M578.9,328.9l9.3,5.5 2.3-1.5-9.3-5.1z"/><path color="#03fb03" d="M588.2,334.4l9.4,5.4 2.2-1.9-9.3-5z"/><path color="#02fb02" d="M597.6,339.8l9.5,5.1 2.1-2.2-9.4-4.8z"/><path color="#01fb01" d="M607.1,344.9l9.5,4.7 2.1-2.4-9.5-4.5z"/><path color="#01fa01" d="M616.6,349.6l4.8,2.2 2.1-2.5-4.8-2.1z"/><path color="#01fa01" d="M621.4,351.8l4.9,2.2 2.1-2.6-4.9-2.1z"/><path color="#01fa01" d="M626.3,354l4.9,2.1 2-2.8-4.8-1.9z"/><path color="#00fa00" d="M631.2,356.1l4.9,1.9 2-2.8-4.9-1.9z"/><path color="#00fa00" d="M636.1,358l4.9,1.9 2.1-2.8-5-1.9z"/><path color="#00fa00" d="M641,359.9l5,1.8 2-2.8-4.9-1.8z"/><path color="#00fa00" d="M646,361.7l3.4,1.2 2-2.9-3.4-1.1z"/><path color="#00fa00" d="M649.4,362.9l3.3,1.2 2-3-3.3-1.1z"/><path color="#00fa00" d="M652.7,364.1l3.4,1.1 2-3-3.4-1.1z"/></g><path d="M509.9,292.7l8.6,2.9 8.7,3.5 8.8,4 8.9,4.5 9,4.7 9.1,5.1 9.1,5.2 9.1,5.2 9.3,5.1 9.3,5 9.4,4.8 9.5,4.5 4.8,2.1 4.9,2.1 4.8,1.9 4.9,1.9 5,1.9 4.9,1.8 3.4,1.1 3.3,1.1 3.4,1.1M515.7,294.6l2.8,1M524.5,298.3l2.7,.8M533.4,302.5l2.6,.6M542.4,307.2l2.5,.4M551.4,312.3l2.5,0M560.5,317.7l2.5-.3M569.7,323.3l2.4-.7M578.9,328.9l2.3-1.1M588.2,334.4l2.3-1.5M597.6,339.8l2.2-1.9M607.1,344.9l2.1-2.2M616.6,349.6l2.1-2.4M626.3,354l2.1-2.6M636.1,358l2-2.8M646,361.7l2-2.8" stroke="#2e2a2a" stroke-opacity="0.84" stroke-width="0.9"/><path d="M507,291.6l2.9,1.1M656.1,365.2l2-3" stroke="#1a1a1a" stroke-width="0.8"/><g fill="currentColor" stroke="currentColor" stroke-width=".7"><path color="#003000" d="M504.1,290.4l8.8,3.1 2.8,1.1-8.7-3z"/><path color="#08fd08" d="M512.9,293.5l8.8,3.8 2.8,1-8.8-3.7z"/><path color="#07fd07" d="M521.7,297.3l9,4.4 2.7,.8-8.9-4.2z"/><path color="#07fd07" d="M530.7,301.7l9,5.1 2.7,.4-9-4.7z"/><path color="#06fd06" d="M539.7,306.8l9.2,5.5 2.5,0-9-5.1z"/><path color="#06fc06" d="M548.9,312.3l9.2,5.8 2.4-.4-9.1-5.4z"/><path color="#05fc05" d="M558.1,318.1l9.2,5.9 2.4-.7-9.2-5.6z"/><path color="#04fc04" d="M567.3,324l9.3,6 2.3-1.1-9.2-5.6z"/><path color="#04fb04" d="M576.6,330l9.4,6 2.2-1.6-9.3-5.5z"/><path color="#03fb03" d="M586,336l9.4,5.7 2.2-1.9-9.4-5.4z"/><path color="#02fb02" d="M595.4,341.7l9.5,5.3 2.2-2.1-9.5-5.1z"/><path color="#01fb01" d="M604.9,347l9.6,5 2.1-2.4-9.5-4.7z"/><path color="#01fa01" d="M614.5,352l4.8,2.4 2.1-2.6-4.8-2.2z"/><path color="#01fa01" d="M619.3,354.4l4.9,2.2 2.1-2.6-4.9-2.2z"/><path color="#01fa01" d="M624.2,356.6l4.9,2.2 2.1-2.7-4.9-2.1z"/><path color="#00fa00" d="M629.1,358.8l4.9,2 2.1-2.8-4.9-1.9z"/><path color="#00fa00" d="M634,360.8l5,2 2-2.9-4.9-1.9z"/><path color="#00fa00" d="M639,362.8l5,1.9 2-3-5-1.8z"/><path color="#00fa00" d="M644,364.7l3.3,1.2 2.1-3-3.4-1.2z"/><path color="#00fa00" d="M647.3,365.9l3.4,1.1 2-2.9-3.3-1.2z"/><path color="#00fa00" d="M650.7,367l3.4,1.2 2-3-3.4-1.1z"/></g><path d="M512.9,293.5l2.8,1.1M521.7,297.3l2.8,1M530.7,301.7l2.7,.8M539.7,306.8l2.7,.4M548.9,312.3l2.5,0M558.1,318.1l2.4-.4M567.3,324l2.4-.7M576.6,330l2.3-1.1M586,336l2.2-1.6M595.4,341.7l2.2-1.9M604.9,347l2.2-2.1M614.5,352l2.1-2.4M624.2,356.6l2.1-2.6M634,360.8l2.1-2.8M644,364.7l2-3" stroke="#2e2a2a" stroke-opacity="0.84" stroke-width="0.9"/><path d="M504.1,290.4l2.9,1.2M654.1,368.2l2-3" stroke="#1a1a1a" stroke-width="0.8"/><g fill="currentColor" stroke="currentColor" stroke-width=".7"><path color="#003000" d="M501.1,289.1l8.9,3.1 2.9,1.3-8.8-3.1z"/><path color="#08fd08" d="M510,292.2l8.9,4 2.8,1.1-8.8-3.8z"/><path color="#07fd07" d="M518.9,296.2l9,4.7 2.8,.8-9-4.4z"/><path color="#07fd07" d="M527.9,300.9l9.2,5.4 2.6,.5-9-5.1z"/><path color="#06fd06" d="M537.1,306.3l9.2,5.8 2.6,.2-9.2-5.5z"/><path color="#06fc06" d="M546.3,312.1l9.3,6.2 2.5-.2-9.2-5.8z"/><path color="#05fc05" d="M555.6,318.3l9.3,6.4 2.4-.7-9.2-5.9z"/><path color="#04fc04" d="M564.9,324.7l9.3,6.5 2.4-1.2-9.3-6z"/><path color="#04fb04" d="M574.2,331.2l9.4,6.3 2.4-1.5-9.4-6z"/><path color="#03fb03" d="M583.6,337.5l9.5,6 2.3-1.8-9.4-5.7z"/><path color="#02fb02" d="M593.1,343.5l9.5,5.7 2.3-2.2-9.5-5.3z"/><path color="#01fb01" d="M602.6,349.2l9.7,5.3 2.2-2.5-9.6-5z"/><path color="#01fa01" d="M612.3,354.5l4.8,2.5 2.2-2.6-4.8-2.4z"/><path color="#01fa01" d="M617.1,357l4.9,2.3 2.2-2.7-4.9-2.2z"/><path color="#01fa01" d="M622,359.3l4.9,2.3 2.2-2.8-4.9-2.2z"/><path color="#00fa00" d="M626.9,361.6l5,2.1 2.1-2.9-4.9-2z"/><path color="#00fa00" d="M631.9,363.7l5,2 2.1-2.9-5-2z"/><path color="#00fa00" d="M636.9,365.7l5,1.9 2.1-2.9-5-1.9z"/><path color="#00fa00" d="M641.9,367.6l3.4,1.3 2-3-3.3-1.2z"/><path color="#00fa00" d="M645.3,368.9l3.4,1.2 2-3.1-3.4-1.1z"/><path color="#00fa00" d="M648.7,370.1l3.4,1.1 2-3-3.4-1.2z"/></g><path d="M504.1,290.4l8.8,3.1 8.8,3.8 9,4.4 9,5.1 9.2,5.5 9.2,5.8 9.2,5.9 9.3,6 9.4,6 9.4,5.7 9.5,5.3 9.6,5 4.8,2.4 4.9,2.2 4.9,2.2 4.9,2 5,2 5,1.9 3.3,1.2 3.4,1.1 3.4,1.2M510,292.2l2.9,1.3M518.9,296.2l2.8,1.1M527.9,300.9l2.8,.8M537.1,306.3l2.6,.5M546.3,312.1l2.6,.2M555.6,318.3l2.5-.2M564.9,324.7l2.4-.7M574.2,331.2l2.4-1.2M583.6,337.5l2.4-1.5M593.1,343.5l2.3-1.8M602.6,349.2l2.3-2.2M612.3,354.5l2.2-2.5M622,359.3l2.2-2.7M631.9,363.7l2.1-2.9M641.9,367.6l2.1-2.9" stroke="#2e2a2a" stroke-opacity="0.84" stroke-width="0.9"/><path d="M501.1,289.1l3,1.3M652.1,371.2l2-3" stroke="#1a1a1a" stroke-width="0.8"/><g fill="currentColor" stroke="currentColor" stroke-width=".7"><path color="#07fd07" d="M498.1,288l8.9,3.3 3,.9-8.9-3.1z"/><path color="#07fd07" d="M507,291.3l9,4.1 2.9,.8-8.9-4z"/><path color="#07fd07" d="M516,295.4l9.2,5 2.7,.5-9-4.7z"/><path color="#07fd07" d="M525.2,300.4l9.2,5.6 2.7,.3-9.2-5.4z"/><path color="#06fc06" d="M534.4,306l9.3,6.2 2.6-.1-9.2-5.8z"/><path color="#05fc05" d="M543.7,312.2l9.3,6.6 2.6-.5-9.3-6.2z"/><path color="#05fc05" d="M553,318.8l9.4,6.8 2.5-.9-9.3-6.4z"/><path color="#04fc04" d="M562.4,325.6l9.4,6.8 2.4-1.2-9.3-6.5z"/><path color="#03fb03" d="M571.8,332.4l9.5,6.7 2.3-1.6-9.4-6.3z"/><path color="#03fb03" d="M581.3,339.1l9.5,6.4 2.3-2-9.5-6z"/><path color="#02fb02" d="M590.8,345.5l9.6,6 2.2-2.3-9.5-5.7z"/><path color="#01fb01" d="M600.4,351.5l9.7,5.6 2.2-2.6-9.7-5.3z"/><path color="#01fa01" d="M610.1,357.1l4.8,2.5 2.2-2.6-4.8-2.5z"/><path color="#01fa01" d="M614.9,359.6l5,2.5 2.1-2.8-4.9-2.3z"/><path color="#01fa01" d="M619.9,362.1l4.9,2.3 2.1-2.8-4.9-2.3z"/><path color="#00fa00" d="M624.8,364.4l5,2.2 2.1-2.9-5-2.1z"/><path color="#00fa00" d="M629.8,366.6l5,2.1 2.1-3-5-2z"/><path color="#00fa00" d="M634.8,368.7l5,1.9 2.1-3-5-1.9z"/><path color="#00fa00" d="M639.8,370.6l3.4,1.3 2.1-3-3.4-1.3z"/><path color="#00fa00" d="M643.2,371.9l3.4,1.2 2.1-3-3.4-1.2z"/><path color="#00fa00" d="M646.6,373.1l3.5,1.2 2-3.1-3.4-1.1z"/></g><path d="M507,291.3l3,.9M516,295.4l2.9,.8M525.2,300.4l2.7,.5M534.4,306l2.7,.3M543.7,312.2l2.6-.1M553,318.8l2.6-.5M562.4,325.6l2.5-.9M571.8,332.4l2.4-1.2M581.3,339.1l2.3-1.6M590.8,345.5l2.3-2M600.4,351.5l2.2-2.3M610.1,357.1l2.2-2.6M619.9,362.1l2.1-2.8M629.8,366.6l2.1-2.9M639.8,370.6l2.1-3" stroke="#2e2a2a" stroke-opacity="0.84" stroke-width="0.9"/><path d="M498.1,288l3,1.1M650.1,374.3l2-3.1" stroke="#1a1a1a" stroke-width="0.8"/><g fill="currentColor" stroke="currentColor" stroke-width=".7"><path color="#07fd07" d="M495.1,287.2l8.9,3.3 3,.8-8.9-3.3z"/><path color="#07fd07" d="M504,290.5l9.1,4.3 2.9,.6-9-4.1z"/><path color="#07fd07" d="M513.1,294.8l9.2,5.2 2.9,.4-9.2-5z"/><path color="#06fd06" d="M522.3,300l9.3,5.9 2.8,.1-9.2-5.6z"/><path color="#06fc06" d="M531.6,305.9l9.4,6.6 2.7-.3-9.3-6.2z"/><path color="#05fc05" d="M541,312.5l9.4,6.9 2.6-.6-9.3-6.6z"/><path color="#04fc04" d="M550.4,319.4l9.5,7.2 2.5-1-9.4-6.8z"/><path color="#04fc04" d="M559.9,326.6l9.5,7.2 2.4-1.4-9.4-6.8z"/><path color="#03fb03" d="M569.4,333.8l9.5,7.1 2.4-1.8-9.5-6.7z"/><path color="#02fb02" d="M578.9,340.9l9.6,6.7 2.3-2.1-9.5-6.4z"/><path color="#02fb02" d="M588.5,347.6l9.6,6.3 2.3-2.4-9.6-6z"/><path color="#01fb01" d="M598.1,353.9l9.7,5.7 2.3-2.5-9.7-5.6z"/><path color="#01fa01" d="M607.8,359.6l4.9,2.7 2.2-2.7-4.8-2.5z"/><path color="#01fa01" d="M612.7,362.3l5,2.6 2.2-2.8-5-2.5z"/><path color="#00fa00" d="M617.7,364.9l4.9,2.4 2.2-2.9-4.9-2.3z"/><path color="#00fa00" d="M622.6,367.3l5,2.2 2.2-2.9-5-2.2z"/><path color="#00fa00" d="M627.6,369.5l5.1,2.1 2.1-2.9-5-2.1z"/><path color="#00fa00" d="M632.7,371.6l5,2.1 2.1-3.1-5-1.9z"/><path color="#00fa00" d="M637.7,373.7l3.4,1.3 2.1-3.1-3.4-1.3z"/><path color="#00fa00" d="M641.1,375l3.5,1.2 2-3.1-3.4-1.2z"/><path color="#00fa00" d="M644.6,376.2l3.4,1.2 2.1-3.1-3.5-1.2z"/></g><path d="M498.1,288l8.9,3.3 9,4.1 9.2,5 9.2,5.6 9.3,6.2 9.3,6.6 9.4,6.8 9.4,6.8 9.5,6.7 9.5,6.4 9.6,6 9.7,5.6 4.8,2.5 5,2.5 4.9,2.3 5,2.2 5,2.1 5,1.9 3.4,1.3 3.4,1.2 3.5,1.2M504,290.5l3,.8M513.1,294.8l2.9,.6M522.3,300l2.9,.4M531.6,305.9l2.8,.1M541,312.5l2.7-.3M550.4,319.4l2.6-.6M559.9,326.6l2.5-1M569.4,333.8l2.4-1.4M578.9,340.9l2.4-1.8M588.5,347.6l2.3-2.1M598.1,353.9l2.3-2.4M607.8,359.6l2.3-2.5M617.7,364.9l2.2-2.8M627.6,369.5l2.2-2.9M637.7,373.7l2.1-3.1" stroke="#2e2a2a" stroke-opacity="0.84" stroke-width="0.9"/><path d="M495.1,287.2l3,.8M648,377.4l2.1-3.1" stroke="#1a1a1a" stroke-width="0.8"/><g fill="currentColor" stroke="currentColor" stroke-width=".7"><path color="#07fd07" d="M492,286.5l9,3.4 3,.6-8.9-3.3z"/><path color="#07fd07" d="M501,289.9l9.2,4.5 2.9,.4-9.1-4.3z"/><path color="#06fd06" d="M510.2,294.4l9.2,5.4 2.9,.2-9.2-5.2z"/><path color="#06fc06" d="M519.4,299.8l9.4,6.2 2.8-.1-9.3-5.9z"/><path color="#05fc05" d="M528.8,306l9.5,6.9 2.7-.4-9.4-6.6z"/><path color="#05fc05" d="M538.3,312.9l9.5,7.3 2.6-.8-9.4-6.9z"/><path color="#04fc04" d="M547.8,320.2l9.5,7.5 2.6-1.1-9.5-7.2z"/><path color="#03fb03" d="M557.3,327.7l9.6,7.6 2.5-1.5-9.5-7.2z"/><path color="#03fb03" d="M566.9,335.3l9.6,7.4 2.4-1.8-9.5-7.1z"/><path color="#02fb02" d="M576.5,342.7l9.6,7 2.4-2.1-9.6-6.7z"/><path color="#02fb02" d="M586.1,349.7l9.7,6.6 2.3-2.4-9.6-6.3z"/><path color="#01fa01" d="M595.8,356.3l9.8,6 2.2-2.7-9.7-5.7z"/><path color="#01fa01" d="M605.6,362.3l4.9,2.8 2.2-2.8-4.9-2.7z"/><path color="#01fa01" d="M610.5,365.1l4.9,2.6 2.3-2.8-5-2.6z"/><path color="#00fa00" d="M615.4,367.7l5,2.5 2.2-2.9-4.9-2.4z"/><path color="#00fa00" d="M620.4,370.2l5,2.3 2.2-3-5-2.2z"/><path color="#00fa00" d="M625.4,372.5l5.1,2.2 2.2-3.1-5.1-2.1z"/><path color="#00fa00" d="M630.5,374.7l5.1,2 2.1-3-5-2.1z"/><path color="#00fa00" d="M635.6,376.7l3.4,1.4 2.1-3.1-3.4-1.3z"/><path color="#00fa00" d="M639,378.1l3.5,1.2 2.1-3.1-3.5-1.2z"/><path color="#00fa00" d="M642.5,379.3l3.4,1.3 2.1-3.2-3.4-1.2z"/></g><path d="M501,289.9l3,.6M510.2,294.4l2.9,.4M519.4,299.8l2.9,.2M528.8,306l2.8-.1M538.3,312.9l2.7-.4M547.8,320.2l2.6-.8M557.3,327.7l2.6-1.1M566.9,335.3l2.5-1.5M576.5,342.7l2.4-1.8M586.1,349.7l2.4-2.1M595.8,356.3l2.3-2.4M605.6,362.3l2.2-2.7M615.4,367.7l2.3-2.8M625.4,372.5l2.2-3M635.6,376.7l2.1-3" stroke="#2e2a2a" stroke-opacity="0.84" stroke-width="0.9"/><path d="M492,286.5l3.1,.7M645.9,380.6l2.1-3.2" stroke="#1a1a1a" stroke-width="0.8"/><g fill="currentColor" stroke="currentColor" stroke-width=".7"><path color="#06fc06" d="M488.9,286.7l9,3.4 3.1-.2-9-3.4z"/><path color="#05fc05" d="M497.9,290.1l9.3,4.6 3-.3-9.2-4.5z"/><path color="#05fc05" d="M507.2,294.7l9.4,5.6 2.8-.5-9.2-5.4z"/><path color="#05fc05" d="M516.6,300.3l9.4,6.4 2.8-.7-9.4-6.2z"/><path color="#04fc04" d="M526,306.7l9.6,7.2 2.7-1-9.5-6.9z"/><path color="#04fc04" d="M535.6,313.9l9.5,7.6 2.7-1.3-9.5-7.3z"/><path color="#03fb03" d="M545.1,321.5l9.6,7.8 2.6-1.6-9.5-7.5z"/><path color="#03fb03" d="M554.7,329.3l9.7,7.8 2.5-1.8-9.6-7.6z"/><path color="#02fb02" d="M564.4,337.1l9.6,7.7 2.5-2.1-9.6-7.4z"/><path color="#02fb02" d="M574,344.8l9.7,7.3 2.4-2.4-9.6-7z"/><path color="#01fb01" d="M583.7,352.1l9.7,6.8 2.4-2.6-9.7-6.6z"/><path color="#01fa01" d="M593.4,358.9l9.9,6.2 2.3-2.8-9.8-6z"/><path color="#01fa01" d="M603.3,365.1l4.9,2.8 2.3-2.8-4.9-2.8z"/><path color="#00fa00" d="M608.2,367.9l5,2.7 2.2-2.9-4.9-2.6z"/><path color="#00fa00" d="M613.2,370.6l5,2.5 2.2-2.9-5-2.5z"/><path color="#00fa00" d="M618.2,373.1l5,2.4 2.2-3-5-2.3z"/><path color="#00fa00" d="M623.2,375.5l5.1,2.3 2.2-3.1-5.1-2.2z"/><path color="#00fa00" d="M628.3,377.8l5.1,2.1 2.2-3.2-5.1-2z"/><path color="#00fa00" d="M633.4,379.9l3.5,1.3 2.1-3.1-3.4-1.4z"/><path color="#00fa00" d="M636.9,381.2l3.4,1.3 2.2-3.2-3.5-1.2z"/><path color="#00fa00" d="M640.3,382.5l3.5,1.2 2.1-3.1-3.4-1.3z"/></g><path d="M492,286.5l9,3.4 9.2,4.5 9.2,5.4 9.4,6.2 9.5,6.9 9.5,7.3 9.5,7.5 9.6,7.6 9.6,7.4 9.6,7 9.7,6.6 9.8,6 4.9,2.8 4.9,2.6 5,2.5 5,2.3 5.1,2.2 5.1,2 3.4,1.4 3.5,1.2 3.4,1.3M497.9,290.1l3.1-.2M507.2,294.7l3-.3M516.6,300.3l2.8-.5M526,306.7l2.8-.7M535.6,313.9l2.7-1M545.1,321.5l2.7-1.3M554.7,329.3l2.6-1.6M564.4,337.1l2.5-1.8M574,344.8l2.5-2.1M583.7,352.1l2.4-2.4M593.4,358.9l2.4-2.6M603.3,365.1l2.3-2.8M613.2,370.6l2.2-2.9M623.2,375.5l2.2-3M633.4,379.9l2.2-3.2" stroke="#2e2a2a" stroke-opacity="0.84" stroke-width="0.9"/><path d="M488.9,286.7l3.1-.2M643.8,383.7l2.1-3.1" stroke="#1a1a1a" stroke-width="0.8"/><g fill="currentColor" stroke="currentColor" stroke-width=".7"><path color="#03fb03" d="M485.8,287.9l9.1,3.5 3-1.3-9-3.4z"/><path color="#03fb03" d="M494.9,291.4l9.3,4.7 3-1.4-9.3-4.6z"/><path color="#03fb03" d="M504.2,296.1l9.5,5.7 2.9-1.5-9.4-5.6z"/><path color="#03fb03" d="M513.7,301.8l9.5,6.6 2.8-1.7-9.4-6.4z"/><path color="#02fb02" d="M523.2,308.4l9.6,7.2 2.8-1.7-9.6-7.2z"/><path color="#02fb02" d="M532.8,315.6l9.6,7.8 2.7-1.9-9.5-7.6z"/><path color="#02fb02" d="M542.4,323.4l9.7,8 2.6-2.1-9.6-7.8z"/><path color="#01fb01" d="M552.1,331.4l9.7,8 2.6-2.3-9.7-7.8z"/><path color="#01fa01" d="M561.8,339.4l9.7,7.9 2.5-2.5-9.6-7.7z"/><path color="#01fa01" d="M571.5,347.3l9.8,7.4 2.4-2.6-9.7-7.3z"/><path color="#01fa01" d="M581.3,354.7l9.7,7 2.4-2.8-9.7-6.8z"/><path color="#00fa00" d="M591,361.7l9.9,6.3 2.4-2.9-9.9-6.2z"/><path color="#00fa00" d="M600.9,368l5,2.9 2.3-3-4.9-2.8z"/><path color="#00fa00" d="M605.9,370.9l5,2.7 2.3-3-5-2.7z"/><path color="#00fa00" d="M610.9,373.6l5,2.6 2.3-3.1-5-2.5z"/><path color="#00fa00" d="M615.9,376.2l5.1,2.4 2.2-3.1-5-2.4z"/><path color="#00fa00" d="M621,378.6l5.1,2.3 2.2-3.1-5.1-2.3z"/><path color="#00fa00" d="M626.1,380.9l5.1,2.1 2.2-3.1-5.1-2.1z"/><path color="#00fa00" d="M631.2,383l3.5,1.4 2.2-3.2-3.5-1.3z"/><path color="#00fa00" d="M634.7,384.4l3.5,1.3 2.1-3.2-3.4-1.3z"/><path color="#00fa00" d="M638.2,385.7l3.5,1.3 2.1-3.3-3.5-1.2z"/></g><path d="M494.9,291.4l3-1.3M504.2,296.1l3-1.4M513.7,301.8l2.9-1.5M523.2,308.4l2.8-1.7M532.8,315.6l2.8-1.7M542.4,323.4l2.7-1.9M552.1,331.4l2.6-2.1M561.8,339.4l2.6-2.3M571.5,347.3l2.5-2.5M581.3,354.7l2.4-2.6M591,361.7l2.4-2.8M600.9,368l2.4-2.9M610.9,373.6l2.3-3M621,378.6l2.2-3.1M631.2,383l2.2-3.1" stroke="#2e2a2a" stroke-opacity="0.84" stroke-width="0.9"/><path d="M485.8,287.9l3.1-1.2M641.7,387l2.1-3.3" stroke="#1a1a1a" stroke-width="0.8"/><g fill="currentColor" stroke="currentColor" stroke-width=".7"><path color="#02fb02" d="M482.7,289.6l9.2,3.6 3-1.8-9.1-3.5z"/><path color="#02fb02" d="M491.9,293.2l9.4,4.7 2.9-1.8-9.3-4.7z"/><path color="#02fb02" d="M501.3,297.9l9.5,5.8 2.9-1.9-9.5-5.7z"/><path color="#02fb02" d="M510.8,303.7l9.5,6.7 2.9-2-9.5-6.6z"/><path color="#01fb01" d="M520.3,310.4l9.7,7.4 2.8-2.2-9.6-7.2z"/><path color="#01fb01" d="M530,317.8l9.7,7.9 2.7-2.3-9.6-7.8z"/><path color="#01fa01" d="M539.7,325.7l9.8,8.1 2.6-2.4-9.7-8z"/><path color="#01fa01" d="M549.5,333.8l9.7,8.2 2.6-2.6-9.7-8z"/><path color="#01fa01" d="M559.2,342l9.8,8 2.5-2.7-9.7-7.9z"/><path color="#01fa01" d="M569,350l9.8,7.5 2.5-2.8-9.8-7.4z"/><path color="#00fa00" d="M578.8,357.5l9.8,7.1 2.4-2.9-9.7-7z"/><path color="#00fa00" d="M588.6,364.6l9.9,6.4 2.4-3-9.9-6.3z"/><path color="#00fa00" d="M598.5,371l5,2.9 2.4-3-5-2.9z"/><path color="#00fa00" d="M603.5,373.9l5.1,2.8 2.3-3.1-5-2.7z"/><path color="#00fa00" d="M608.6,376.7l5,2.6 2.3-3.1-5-2.6z"/><path color="#00fa00" d="M613.6,379.3l5.1,2.5 2.3-3.2-5.1-2.4z"/><path color="#00fa00" d="M618.7,381.8l5.2,2.3 2.2-3.2-5.1-2.3z"/><path color="#00fa00" d="M623.9,384.1l5.1,2.2 2.2-3.3-5.1-2.1z"/><path color="#00fa00" d="M629,386.3l3.5,1.3 2.2-3.2-3.5-1.4z"/><path color="#00fa00" d="M632.5,387.6l3.5,1.4 2.2-3.3-3.5-1.3z"/><path color="#00fa00" d="M636,389l3.5,1.2 2.2-3.2-3.5-1.3z"/></g><path d="M485.8,287.9l9.1,3.5 9.3,4.7 9.5,5.7 9.5,6.6 9.6,7.2 9.6,7.8 9.7,8 9.7,8 9.7,7.9 9.8,7.4 9.7,7 9.9,6.3 5,2.9 5,2.7 5,2.6 5.1,2.4 5.1,2.3 5.1,2.1 3.5,1.4 3.5,1.3 3.5,1.3M491.9,293.2l3-1.8M501.3,297.9l2.9-1.8M510.8,303.7l2.9-1.9M520.3,310.4l2.9-2M530,317.8l2.8-2.2M539.7,325.7l2.7-2.3M549.5,333.8l2.6-2.4M559.2,342l2.6-2.6M569,350l2.5-2.7M578.8,357.5l2.5-2.8M588.6,364.6l2.4-2.9M598.5,371l2.4-3M608.6,376.7l2.3-3.1M618.7,381.8l2.3-3.2M629,386.3l2.2-3.3" stroke="#2e2a2a" stroke-opacity="0.84" stroke-width="0.9"/><path d="M482.7,289.6l3.1-1.7M639.5,390.2l2.2-3.2" stroke="#1a1a1a" stroke-width="0.8"/><g fill="currentColor" stroke="currentColor" stroke-width=".7"><path color="#02fb02" d="M479.6,291.5l9.2,3.6 3.1-1.9-9.2-3.6z"/><path color="#02fb02" d="M488.8,295.1l9.5,4.8 3-2-9.4-4.7z"/><path color="#02fb02" d="M498.3,299.9l9.5,5.9 3-2.1-9.5-5.8z"/><path color="#01fb01" d="M507.8,305.8l9.7,6.8 2.8-2.2-9.5-6.7z"/><path color="#01fb01" d="M517.5,312.6l9.7,7.5 2.8-2.3-9.7-7.4z"/><path color="#01fa01" d="M527.2,320.1l9.8,8 2.7-2.4-9.7-7.9z"/><path color="#01fa01" d="M537,328.1l9.8,8.3 2.7-2.6-9.8-8.1z"/><path color="#01fa01" d="M546.8,336.4l9.8,8.2 2.6-2.6-9.7-8.2z"/><path color="#01fa01" d="M556.6,344.6l9.8,8.1 2.6-2.7-9.8-8z"/><path color="#00fa00" d="M566.4,352.7l9.9,7.7 2.5-2.9-9.8-7.5z"/><path color="#00fa00" d="M576.3,360.4l9.9,7.1 2.4-2.9-9.8-7.1z"/><path color="#00fa00" d="M586.2,367.5l9.9,6.5 2.4-3-9.9-6.4z"/><path color="#00fa00" d="M596.1,374l5.1,3 2.3-3.1-5-2.9z"/><path color="#00fa00" d="M601.2,377l5,2.9 2.4-3.2-5.1-2.8z"/><path color="#00fa00" d="M606.2,379.9l5.1,2.6 2.3-3.2-5-2.6z"/><path color="#00fa00" d="M611.3,382.5l5.1,2.5 2.3-3.2-5.1-2.5z"/><path color="#00fa00" d="M616.4,385l5.2,2.3 2.3-3.2-5.2-2.3z"/><path color="#00fa00" d="M621.6,387.3l5.2,2.2 2.2-3.2-5.1-2.2z"/><path color="#00fa00" d="M626.8,389.5l3.5,1.4 2.2-3.3-3.5-1.3z"/><path color="#00fa00" d="M630.3,390.9l3.5,1.4 2.2-3.3-3.5-1.4z"/><path color="#00fa00" d="M633.8,392.3l3.5,1.3 2.2-3.4-3.5-1.2z"/></g><path d="M488.8,295.1l3.1-1.9M498.3,299.9l3-2M507.8,305.8l3-2.1M517.5,312.6l2.8-2.2M527.2,320.1l2.8-2.3M537,328.1l2.7-2.4M546.8,336.4l2.7-2.6M556.6,344.6l2.6-2.6M566.4,352.7l2.6-2.7M576.3,360.4l2.5-2.9M586.2,367.5l2.4-2.9M596.1,374l2.4-3M606.2,379.9l2.4-3.2M616.4,385l2.3-3.2M626.8,389.5l2.2-3.2" stroke="#2e2a2a" stroke-opacity="0.84" stroke-width="0.9"/><path d="M479.6,291.5l3.1-1.9M637.3,393.6l2.2-3.4" stroke="#1a1a1a" stroke-width="0.8"/><g fill="currentColor" stroke="currentColor" stroke-width=".7"><path color="#01fa01" d="M476.5,293.7l9.3,3.7 3-2.3-9.2-3.6z"/><path color="#01fa01" d="M485.8,297.4l9.4,4.8 3.1-2.3-9.5-4.8z"/><path color="#01fa01" d="M495.2,302.2l9.6,6 3-2.4-9.5-5.9z"/><path color="#01fa01" d="M504.8,308.2l9.8,6.8 2.9-2.4-9.7-6.8z"/><path color="#01fa01" d="M514.6,315l9.7,7.6 2.9-2.5-9.7-7.5z"/><path color="#01fa01" d="M524.3,322.6l9.9,8.1 2.8-2.6-9.8-8z"/><path color="#00fa00" d="M534.2,330.7l9.8,8.4 2.8-2.7-9.8-8.3z"/><path color="#00fa00" d="M544,339.1l9.9,8.4 2.7-2.9-9.8-8.2z"/><path color="#00fa00" d="M553.9,347.5l9.9,8.1 2.6-2.9-9.8-8.1z"/><path color="#00fa00" d="M563.8,355.6l9.9,7.8 2.6-3-9.9-7.7z"/><path color="#00fa00" d="M573.7,363.4l10,7.2 2.5-3.1-9.9-7.1z"/><path color="#00fa00" d="M583.7,370.6l10,6.6 2.4-3.2-9.9-6.5z"/><path color="#00fa00" d="M593.7,377.2l5.1,3 2.4-3.2-5.1-3z"/><path color="#00fa00" d="M598.8,380.2l5,2.9 2.4-3.2-5-2.9z"/><path color="#00fa00" d="M603.8,383.1l5.1,2.6 2.4-3.2-5.1-2.6z"/><path color="#00fa00" d="M608.9,385.7l5.2,2.6 2.3-3.3-5.1-2.5z"/><path color="#00fa00" d="M614.1,388.3l5.2,2.3 2.3-3.3-5.2-2.3z"/><path color="#00fa00" d="M619.3,390.6l5.2,2.2 2.3-3.3-5.2-2.2z"/><path color="#00fa00" d="M624.5,392.8l3.5,1.4 2.3-3.3-3.5-1.4z"/><path color="#00fa00" d="M628,394.2l3.5,1.4 2.3-3.3-3.5-1.4z"/><path color="#00fa00" d="M631.5,395.6l3.6,1.3 2.2-3.3-3.5-1.3z"/></g><path d="M479.6,291.5l9.2,3.6 9.5,4.8 9.5,5.9 9.7,6.8 9.7,7.5 9.8,8 9.8,8.3 9.8,8.2 9.8,8.1 9.9,7.7 9.9,7.1 9.9,6.5 5.1,3 5,2.9 5.1,2.6 5.1,2.5 5.2,2.3 5.2,2.2 3.5,1.4 3.5,1.4 3.5,1.3M485.8,297.4l3-2.3M495.2,302.2l3.1-2.3M504.8,308.2l3-2.4M514.6,315l2.9-2.4M524.3,322.6l2.9-2.5M534.2,330.7l2.8-2.6M544,339.1l2.8-2.7M553.9,347.5l2.7-2.9M563.8,355.6l2.6-2.9M573.7,363.4l2.6-3M583.7,370.6l2.5-3.1M593.7,377.2l2.4-3.2M603.8,383.1l2.4-3.2M614.1,388.3l2.3-3.3M624.5,392.8l2.3-3.3" stroke="#2e2a2a" stroke-opacity="0.84" stroke-width="0.9"/><path d="M476.5,293.7l3.1-2.2M635.1,396.9l2.2-3.3" stroke="#1a1a1a" stroke-width="0.8"/><g fill="currentColor" stroke="currentColor" stroke-width=".7"><path color="#00fa00" d="M473.4,296.5l9.3,3.7 3.1-2.8-9.3-3.7z"/><path color="#00fa00" d="M482.7,300.2l9.5,4.9 3-2.9-9.4-4.8z"/><path color="#00fa00" d="M492.2,305.1l9.7,6 2.9-2.9-9.6-6z"/><path color="#00fa00" d="M501.9,311.1l9.7,6.9 3-3-9.8-6.8z"/><path color="#00fa00" d="M511.6,318l9.9,7.6 2.8-3-9.7-7.6z"/><path color="#00fa00" d="M521.5,325.6l9.9,8.2 2.8-3.1-9.9-8.1z"/><path color="#00fa00" d="M531.4,333.8l9.9,8.3 2.7-3-9.8-8.4z"/><path color="#00fa00" d="M541.3,342.1l9.9,8.4 2.7-3-9.9-8.4z"/><path color="#00fa00" d="M551.2,350.5l10,8.2 2.6-3.1-9.9-8.1z"/><path color="#00fa00" d="M561.2,358.7l9.9,7.8 2.6-3.1-9.9-7.8z"/><path color="#00fa00" d="M571.1,366.5l10,7.3 2.6-3.2-10-7.2z"/><path color="#00fa00" d="M581.1,373.8l10.1,6.6 2.5-3.2-10-6.6z"/><path color="#00fa00" d="M591.2,380.4l5.1,3 2.5-3.2-5.1-3z"/><path color="#00fa00" d="M596.3,383.4l5.1,2.9 2.4-3.2-5-2.9z"/><path color="#00fa00" d="M601.4,386.3l5.2,2.7 2.3-3.3-5.1-2.6z"/><path color="#00fa00" d="M606.6,389l5.1,2.6 2.4-3.3-5.2-2.6z"/><path color="#00fa00" d="M611.7,391.6l5.2,2.3 2.4-3.3-5.2-2.3z"/><path color="#00fa00" d="M616.9,393.9l5.3,2.3 2.3-3.4-5.2-2.2z"/><path color="#00fa00" d="M622.2,396.2l3.5,1.4 2.3-3.4-3.5-1.4z"/><path color="#00fa00" d="M625.7,397.6l3.6,1.4 2.2-3.4-3.5-1.4z"/><path color="#00fa00" d="M629.3,399l3.5,1.3 2.3-3.4-3.6-1.3z"/></g><path d="M482.7,300.2l3.1-2.8M492.2,305.1l3-2.9M501.9,311.1l2.9-2.9M511.6,318l3-3M521.5,325.6l2.8-3M531.4,333.8l2.8-3.1M541.3,342.1l2.7-3M551.2,350.5l2.7-3M561.2,358.7l2.6-3.1M571.1,366.5l2.6-3.1M581.1,373.8l2.6-3.2M591.2,380.4l2.5-3.2M601.4,386.3l2.4-3.2M611.7,391.6l2.4-3.3M622.2,396.2l2.3-3.4" stroke="#2e2a2a" stroke-opacity="0.84" stroke-width="0.9"/><path d="M473.4,296.5l3.1-2.8M632.8,400.3l2.3-3.4" stroke="#1a1a1a" stroke-width="0.8"/><g fill="currentColor" stroke="currentColor" stroke-width=".7"><path color="#00fa00" d="M470.3,299.8l9.4,3.7 3-3.3-9.3-3.7z"/><path color="#00fa00" d="M479.7,303.5l9.5,4.9 3-3.3-9.5-4.9z"/><path color="#00fa00" d="M489.2,308.4l9.7,6 3-3.3-9.7-6z"/><path color="#00fa00" d="M498.9,314.4l9.8,6.9 2.9-3.3-9.7-6.9z"/><path color="#00fa00" d="M508.7,321.3l9.9,7.7 2.9-3.4-9.9-7.6z"/><path color="#00fa00" d="M518.6,329l9.9,8.1 2.9-3.3-9.9-8.2z"/><path color="#00fa00" d="M528.5,337.1l10,8.4 2.8-3.4-9.9-8.3z"/><path color="#00fa00" d="M538.5,345.5l10,8.3 2.7-3.3-9.9-8.4z"/><path color="#00fa00" d="M548.5,353.8l10,8.2 2.7-3.3-10-8.2z"/><path color="#00fa00" d="M558.5,362l10,7.8 2.6-3.3-9.9-7.8z"/><path color="#00fa00" d="M568.5,369.8l10.1,7.3 2.5-3.3-10-7.3z"/><path color="#00fa00" d="M578.6,377.1l10.1,6.6 2.5-3.3-10.1-6.6z"/><path color="#00fa00" d="M588.7,383.7l5.1,3.1 2.5-3.4-5.1-3z"/><path color="#00fa00" d="M593.8,386.8l5.2,2.9 2.4-3.4-5.1-2.9z"/><path color="#00fa00" d="M599,389.7l5.1,2.7 2.5-3.4-5.2-2.7z"/><path color="#00fa00" d="M604.1,392.4l5.2,2.5 2.4-3.3-5.1-2.6z"/><path color="#00fa00" d="M609.3,394.9l5.3,2.4 2.3-3.4-5.2-2.3z"/><path color="#00fa00" d="M614.6,397.3l5.3,2.3 2.3-3.4-5.3-2.3z"/><path color="#00fa00" d="M619.9,399.6l3.5,1.4 2.3-3.4-3.5-1.4z"/><path color="#00fa00" d="M623.4,401l3.6,1.4 2.3-3.4-3.6-1.4z"/><path color="#00fa00" d="M627,402.4l3.6,1.4 2.2-3.5-3.5-1.3z"/></g><path d="M473.4,296.5l9.3,3.7 9.5,4.9 9.7,6 9.7,6.9 9.9,7.6 9.9,8.2 9.9,8.3 9.9,8.4 10,8.2 9.9,7.8 10,7.3 10.1,6.6 5.1,3 5.1,2.9 5.2,2.7 5.1,2.6 5.2,2.3 5.3,2.3 3.5,1.4 3.6,1.4 3.5,1.3M479.7,303.5l3-3.3M489.2,308.4l3-3.3M498.9,314.4l3-3.3M508.7,321.3l2.9-3.3M518.6,329l2.9-3.4M528.5,337.1l2.9-3.3M538.5,345.5l2.8-3.4M548.5,353.8l2.7-3.3M558.5,362l2.7-3.3M568.5,369.8l2.6-3.3M578.6,377.1l2.5-3.3M588.7,383.7l2.5-3.3M599,389.7l2.4-3.4M609.3,394.9l2.4-3.3M619.9,399.6l2.3-3.4" stroke="#2e2a2a" stroke-opacity="0.84" stroke-width="0.9"/><path d="M470.3,299.8l3.1-3.3M630.6,403.8l2.2-3.5" stroke="#1a1a1a" stroke-width="0.8"/><g fill="currentColor" stroke="currentColor" stroke-width=".7"><path color="#00fa00" d="M467.2,303.4l9.4,3.7 3.1-3.6-9.4-3.7z"/><path color="#00fa00" d="M476.6,307.1l9.5,4.9 3.1-3.6-9.5-4.9z"/><path color="#00fa00" d="M486.1,312l9.8,6 3-3.6-9.7-6z"/><path color="#00fa00" d="M495.9,318l9.8,6.9 3-3.6-9.8-6.9z"/><path color="#00fa00" d="M505.7,324.9l10,7.6 2.9-3.5-9.9-7.7z"/><path color="#00fa00" d="M515.7,332.5l10,8.1 2.8-3.5-9.9-8.1z"/><path color="#00fa00" d="M525.7,340.6l10,8.3 2.8-3.4-10-8.4z"/><path color="#00fa00" d="M535.7,348.9l10,8.4 2.8-3.5-10-8.3z"/><path color="#00fa00" d="M545.7,357.3l10.1,8.1 2.7-3.4-10-8.2z"/><path color="#00fa00" d="M555.8,365.4l10.1,7.8 2.6-3.4-10-7.8z"/><path color="#00fa00" d="M565.9,373.2l10.1,7.3 2.6-3.4-10.1-7.3z"/><path color="#00fa00" d="M576,380.5l10.2,6.6 2.5-3.4-10.1-6.6z"/><path color="#00fa00" d="M586.2,387.1l5.1,3.1 2.5-3.4-5.1-3.1z"/><path color="#00fa00" d="M591.3,390.2l5.2,2.8 2.5-3.3-5.2-2.9z"/><path color="#00fa00" d="M596.5,393l5.2,2.8 2.4-3.4-5.1-2.7z"/><path color="#00fa00" d="M601.7,395.8l5.2,2.5 2.4-3.4-5.2-2.5z"/><path color="#00fa00" d="M606.9,398.3l5.3,2.5 2.4-3.5-5.3-2.4z"/><path color="#00fa00" d="M612.2,400.8l5.3,2.2 2.4-3.4-5.3-2.3z"/><path color="#00fa00" d="M617.5,403l3.6,1.5 2.3-3.5-3.5-1.4z"/><path color="#00fa00" d="M621.1,404.5l3.5,1.4 2.4-3.5-3.6-1.4z"/><path color="#00fa00" d="M624.6,405.9l3.6,1.4 2.4-3.5-3.6-1.4z"/></g><path d="M476.6,307.1l3.1-3.6M486.1,312l3.1-3.6M495.9,318l3-3.6M505.7,324.9l3-3.6M515.7,332.5l2.9-3.5M525.7,340.6l2.8-3.5M535.7,348.9l2.8-3.4M545.7,357.3l2.8-3.5M555.8,365.4l2.7-3.4M565.9,373.2l2.6-3.4M576,380.5l2.6-3.4M586.2,387.1l2.5-3.4M596.5,393l2.5-3.3M606.9,398.3l2.4-3.4M617.5,403l2.4-3.4" stroke="#2e2a2a" stroke-opacity="0.84" stroke-width="0.9"/><path d="M467.2,303.4l3.1-3.6M628.2,407.3l2.4-3.5" stroke="#1a1a1a" stroke-width="0.8"/><g fill="currentColor" stroke="currentColor" stroke-width=".7"><path color="#00fa00" d="M464.1,307.5l9.4,3.8 3.1-4.2-9.4-3.7z"/><path color="#00fa00" d="M473.5,311.3l9.6,4.9 3-4.2-9.5-4.9z"/><path color="#00fa00" d="M483.1,316.2l9.8,5.9 3-4.1-9.8-6z"/><path color="#00fa00" d="M492.9,322.1l9.9,6.8 2.9-4-9.8-6.9z"/><path color="#00fa00" d="M502.8,328.9l9.9,7.6 3-4-10-7.6z"/><path color="#00fa00" d="M512.7,336.5l10.1,8 2.9-3.9-10-8.1z"/><path color="#00fa00" d="M522.8,344.5l10,8.2 2.9-3.8-10-8.3z"/><path color="#00fa00" d="M532.8,352.7l10.1,8.3 2.8-3.7-10-8.4z"/><path color="#00fa00" d="M542.9,361l10.1,8.1 2.8-3.7-10.1-8.1z"/><path color="#00fa00" d="M553,369.1l10.2,7.7 2.7-3.6-10.1-7.8z"/><path color="#00fa00" d="M563.2,376.8l10.2,7.2 2.6-3.5-10.1-7.3z"/><path color="#00fa00" d="M573.4,384l10.2,6.6 2.6-3.5-10.2-6.6z"/><path color="#00fa00" d="M583.6,390.6l5.2,3 2.5-3.4-5.1-3.1z"/><path color="#00fa00" d="M588.8,393.6l5.2,2.9 2.5-3.5-5.2-2.8z"/><path color="#00fa00" d="M594,396.5l5.2,2.7 2.5-3.4-5.2-2.8z"/><path color="#00fa00" d="M599.2,399.2l5.3,2.6 2.4-3.5-5.2-2.5z"/><path color="#00fa00" d="M604.5,401.8l5.3,2.4 2.4-3.4-5.3-2.5z"/><path color="#00fa00" d="M609.8,404.2l5.3,2.3 2.4-3.5-5.3-2.2z"/><path color="#00fa00" d="M615.1,406.5l3.6,1.5 2.4-3.5-3.6-1.5z"/><path color="#00fa00" d="M618.7,408l3.6,1.4 2.3-3.5-3.5-1.4z"/><path color="#00fa00" d="M622.3,409.4l3.6,1.4 2.3-3.5-3.6-1.4z"/></g><path d="M467.2,303.4l9.4,3.7 9.5,4.9 9.8,6 9.8,6.9 10,7.6 10,8.1 10,8.3 10,8.4 10.1,8.1 10.1,7.8 10.1,7.3 10.2,6.6 5.1,3.1 5.2,2.8 5.2,2.8 5.2,2.5 5.3,2.5 5.3,2.2 3.6,1.5 3.5,1.4 3.6,1.4M473.5,311.3l3.1-4.2M483.1,316.2l3-4.2M492.9,322.1l3-4.1M502.8,328.9l2.9-4M512.7,336.5l3-4M522.8,344.5l2.9-3.9M532.8,352.7l2.9-3.8M542.9,361l2.8-3.7M553,369.1l2.8-3.7M563.2,376.8l2.7-3.6M573.4,384l2.6-3.5M583.6,390.6l2.6-3.5M594,396.5l2.5-3.5M604.5,401.8l2.4-3.5M615.1,406.5l2.4-3.5" stroke="#2e2a2a" stroke-opacity="0.84" stroke-width="0.9"/><path d="M464.1,307.5l3.1-4.1M625.9,410.8l2.3-3.5" stroke="#1a1a1a" stroke-width="0.8"/><g fill="currentColor" stroke="currentColor" stroke-width=".7"><path color="#00fa00" d="M461.1,312.1l9.4,3.8 3-4.6-9.4-3.8z"/><path color="#00fa00" d="M470.5,315.9l9.6,4.8 3-4.5-9.6-4.9z"/><path color="#00fa00" d="M480.1,320.7l9.8,5.9 3-4.5-9.8-5.9z"/><path color="#00fa00" d="M489.9,326.6l9.9,6.8 3-4.5-9.9-6.8z"/><path color="#00fa00" d="M499.8,333.4l10,7.4 2.9-4.3-9.9-7.6z"/><path color="#00fa00" d="M509.8,340.8l10.1,7.9 2.9-4.2-10.1-8z"/><path color="#00fa00" d="M519.9,348.7l10.1,8.1 2.8-4.1-10-8.2z"/><path color="#00fa00" d="M530,356.8l10.1,8.1 2.8-3.9-10.1-8.3z"/><path color="#00fa00" d="M540.1,364.9l10.2,8 2.7-3.8-10.1-8.1z"/><path color="#00fa00" d="M550.3,372.9l10.2,7.6 2.7-3.7-10.2-7.7z"/><path color="#00fa00" d="M560.5,380.5l10.2,7.1 2.7-3.6-10.2-7.2z"/><path color="#00fa00" d="M570.7,387.6l10.3,6.5 2.6-3.5-10.2-6.6z"/><path color="#00fa00" d="M581,394.1l5.2,3.1 2.6-3.6-5.2-3z"/><path color="#00fa00" d="M586.2,397.2l5.2,2.9 2.6-3.6-5.2-2.9z"/><path color="#00fa00" d="M591.4,400.1l5.3,2.7 2.5-3.6-5.2-2.7z"/><path color="#00fa00" d="M596.7,402.8l5.3,2.6 2.5-3.6-5.3-2.6z"/><path color="#00fa00" d="M602,405.4l5.3,2.4 2.5-3.6-5.3-2.4z"/><path color="#00fa00" d="M607.3,407.8l5.4,2.3 2.4-3.6-5.3-2.3z"/><path color="#00fa00" d="M612.7,410.1l3.6,1.5 2.4-3.6-3.6-1.5z"/><path color="#00fa00" d="M616.3,411.6l3.6,1.4 2.4-3.6-3.6-1.4z"/><path color="#00fa00" d="M619.9,413l3.6,1.4 2.4-3.6-3.6-1.4z"/></g><path d="M470.5,315.9l3-4.6M480.1,320.7l3-4.5M489.9,326.6l3-4.5M499.8,333.4l3-4.5M509.8,340.8l2.9-4.3M519.9,348.7l2.9-4.2M530,356.8l2.8-4.1M540.1,364.9l2.8-3.9M550.3,372.9l2.7-3.8M560.5,380.5l2.7-3.7M570.7,387.6l2.7-3.6M581,394.1l2.6-3.5M591.4,400.1l2.6-3.6M602,405.4l2.5-3.6M612.7,410.1l2.4-3.6" stroke="#2e2a2a" stroke-opacity="0.84" stroke-width="0.9"/><path d="M461.1,312.1l3-4.6M623.5,414.4l2.4-3.6" stroke="#1a1a1a" stroke-width="0.8"/><g fill="currentColor" stroke="currentColor" stroke-width=".7"><path color="#00fa00" d="M458,316.9l9.4,3.8 3.1-4.8-9.4-3.8z"/><path color="#00fa00" d="M467.4,320.7l9.7,4.9 3-4.9-9.6-4.8z"/><path color="#00fa00" d="M477.1,325.6l9.8,5.8 3-4.8-9.8-5.9z"/><path color="#00fa00" d="M486.9,331.4l9.9,6.6 3-4.6-9.9-6.8z"/><path color="#00fa00" d="M496.8,338l10,7.3 3-4.5-10-7.4z"/><path color="#00fa00" d="M506.8,345.3l10.1,7.7 3-4.3-10.1-7.9z"/><path color="#00fa00" d="M516.9,353l10.2,8 2.9-4.2-10.1-8.1z"/><path color="#00fa00" d="M527.1,361l10.2,8 2.8-4.1-10.1-8.1z"/><path color="#00fa00" d="M537.3,369l10.2,7.8 2.8-3.9-10.2-8z"/><path color="#00fa00" d="M547.5,376.8l10.2,7.5 2.8-3.8-10.2-7.6z"/><path color="#00fa00" d="M557.7,384.3l10.3,7 2.7-3.7-10.2-7.1z"/><path color="#00fa00" d="M568,391.3l10.4,6.5 2.6-3.7-10.3-6.5z"/><path color="#00fa00" d="M578.4,397.8l5.2,3 2.6-3.6-5.2-3.1z"/><path color="#00fa00" d="M583.6,400.8l5.3,2.9 2.5-3.6-5.2-2.9z"/><path color="#00fa00" d="M588.9,403.7l5.2,2.7 2.6-3.6-5.3-2.7z"/><path color="#00fa00" d="M594.1,406.4l5.4,2.5 2.5-3.5-5.3-2.6z"/><path color="#00fa00" d="M599.5,408.9l5.3,2.5 2.5-3.6-5.3-2.4z"/><path color="#00fa00" d="M604.8,411.4l5.4,2.3 2.5-3.6-5.4-2.3z"/><path color="#00fa00" d="M610.2,413.7l3.6,1.5 2.5-3.6-3.6-1.5z"/><path color="#00fa00" d="M613.8,415.2l3.7,1.4 2.4-3.6-3.6-1.4z"/><path color="#00fa00" d="M617.5,416.6l3.6,1.4 2.4-3.6-3.6-1.4z"/></g><path d="M461.1,312.1l9.4,3.8 9.6,4.8 9.8,5.9 9.9,6.8 10,7.4 10.1,7.9 10.1,8.1 10.1,8.1 10.2,8 10.2,7.6 10.2,7.1 10.3,6.5 5.2,3.1 5.2,2.9 5.3,2.7 5.3,2.6 5.3,2.4 5.4,2.3 3.6,1.5 3.6,1.4 3.6,1.4M467.4,320.7l3.1-4.8M477.1,325.6l3-4.9M486.9,331.4l3-4.8M496.8,338l3-4.6M506.8,345.3l3-4.5M516.9,353l3-4.3M527.1,361l2.9-4.2M537.3,369l2.8-4.1M547.5,376.8l2.8-3.9M557.7,384.3l2.8-3.8M568,391.3l2.7-3.7M578.4,397.8l2.6-3.7M588.9,403.7l2.5-3.6M599.5,408.9l2.5-3.5M610.2,413.7l2.5-3.6" stroke="#2e2a2a" stroke-opacity="0.84" stroke-width="0.9"/><path d="M458,316.9l3.1-4.8M621.1,418l2.4-3.6" stroke="#1a1a1a" stroke-width="0.8"/><g fill="currentColor" stroke="currentColor" stroke-width=".7"><path color="#00fa00" d="M455,322.3l9.4,3.8 3-5.4-9.4-3.8z"/><path color="#00fa00" d="M464.4,326.1l9.7,4.8 3-5.3-9.7-4.9z"/><path color="#00fa00" d="M474.1,330.9l9.8,5.7 3-5.2-9.8-5.8z"/><path color="#00fa00" d="M483.9,336.6l9.9,6.5 3-5.1-9.9-6.6z"/><path color="#00fa00" d="M493.8,343.1l10.1,7.1 2.9-4.9-10-7.3z"/><path color="#00fa00" d="M503.9,350.2l10.1,7.5 2.9-4.7-10.1-7.7z"/><path color="#00fa00" d="M514,357.7l10.2,7.8 2.9-4.5-10.2-8z"/><path color="#00fa00" d="M524.2,365.5l10.2,7.8 2.9-4.3-10.2-8z"/><path color="#00fa00" d="M534.4,373.3l10.3,7.6 2.8-4.1-10.2-7.8z"/><path color="#00fa00" d="M544.7,380.9l10.3,7.3 2.7-3.9-10.2-7.5z"/><path color="#00fa00" d="M555,388.2l10.3,6.9 2.7-3.8-10.3-7z"/><path color="#00fa00" d="M565.3,395.1l10.4,6.4 2.7-3.7-10.4-6.5z"/><path color="#00fa00" d="M575.7,401.5l5.3,3 2.6-3.7-5.2-3z"/><path color="#00fa00" d="M581,404.5l5.3,2.8 2.6-3.6-5.3-2.9z"/><path color="#00fa00" d="M586.3,407.3l5.3,2.7 2.5-3.6-5.2-2.7z"/><path color="#00fa00" d="M591.6,410l5.3,2.6 2.6-3.7-5.4-2.5z"/><path color="#00fa00" d="M596.9,412.6l5.4,2.4 2.5-3.6-5.3-2.5z"/><path color="#00fa00" d="M602.3,415l5.4,2.3 2.5-3.6-5.4-2.3z"/><path color="#00fa00" d="M607.7,417.3l3.6,1.5 2.5-3.6-3.6-1.5z"/><path color="#00fa00" d="M611.3,418.8l3.7,1.5 2.5-3.7-3.7-1.4z"/><path color="#00fa00" d="M615,420.3l3.7,1.4 2.4-3.7-3.6-1.4z"/></g><path d="M464.4,326.1l3-5.4M474.1,330.9l3-5.3M483.9,336.6l3-5.2M493.8,343.1l3-5.1M503.9,350.2l2.9-4.9M514,357.7l2.9-4.7M524.2,365.5l2.9-4.5M534.4,373.3l2.9-4.3M544.7,380.9l2.8-4.1M555,388.2l2.7-3.9M565.3,395.1l2.7-3.8M575.7,401.5l2.7-3.7M586.3,407.3l2.6-3.6M596.9,412.6l2.6-3.7M607.7,417.3l2.5-3.6" stroke="#2e2a2a" stroke-opacity="0.84" stroke-width="0.9"/><path d="M455,322.3l3-5.4M618.7,421.7l2.4-3.7" stroke="#1a1a1a" stroke-width="0.8"/><g fill="currentColor" stroke="currentColor" stroke-width=".7"><path color="#00fa00" d="M452,327.9l9.4,3.8 3-5.6-9.4-3.8z"/><path color="#00fa00" d="M461.4,331.7l9.6,4.8 3.1-5.6-9.7-4.8z"/><path color="#00fa00" d="M471,336.5l9.9,5.6 3-5.5-9.8-5.7z"/><path color="#00fa00" d="M480.9,342.1l9.9,6.3 3-5.3-9.9-6.5z"/><path color="#00fa00" d="M490.8,348.4l10.1,6.9 3-5.1-10.1-7.1z"/><path color="#00fa00" d="M500.9,355.3l10.2,7.3 2.9-4.9-10.1-7.5z"/><path color="#00fa00" d="M511.1,362.6l10.2,7.6 2.9-4.7-10.2-7.8z"/><path color="#00fa00" d="M521.3,370.2l10.2,7.5 2.9-4.4-10.2-7.8z"/><path color="#00fa00" d="M531.5,377.7l10.3,7.5 2.9-4.3-10.3-7.6z"/><path color="#00fa00" d="M541.8,385.2l10.3,7.1 2.9-4.1-10.3-7.3z"/><path color="#00fa00" d="M552.1,392.3l10.4,6.8 2.8-4-10.3-6.9z"/><path color="#00fa00" d="M562.5,399.1l10.5,6.2 2.7-3.8-10.4-6.4z"/><path color="#00fa00" d="M573,405.3l5.3,3 2.7-3.8-5.3-3z"/><path color="#00fa00" d="M578.3,408.3l5.3,2.8 2.7-3.8-5.3-2.8z"/><path color="#00fa00" d="M583.6,411.1l5.3,2.6 2.7-3.7-5.3-2.7z"/><path color="#00fa00" d="M588.9,413.7l5.4,2.6 2.6-3.7-5.3-2.6z"/><path color="#00fa00" d="M594.3,416.3l5.4,2.4 2.6-3.7-5.4-2.4z"/><path color="#00fa00" d="M599.7,418.7l5.5,2.3 2.5-3.7-5.4-2.3z"/><path color="#00fa00" d="M605.2,421l3.6,1.5 2.5-3.7-3.6-1.5z"/><path color="#00fa00" d="M608.8,422.5l3.7,1.5 2.5-3.7-3.7-1.5z"/><path color="#00fa00" d="M612.5,424l3.7,1.4 2.5-3.7-3.7-1.4z"/></g><path d="M455,322.3l9.4,3.8 9.7,4.8 9.8,5.7 9.9,6.5 10.1,7.1 10.1,7.5 10.2,7.8 10.2,7.8 10.3,7.6 10.3,7.3 10.3,6.9 10.4,6.4 5.3,3 5.3,2.8 5.3,2.7 5.3,2.6 5.4,2.4 5.4,2.3 3.6,1.5 3.7,1.5 3.7,1.4M461.4,331.7l3-5.6M471,336.5l3.1-5.6M480.9,342.1l3-5.5M490.8,348.4l3-5.3M500.9,355.3l3-5.1M511.1,362.6l2.9-4.9M521.3,370.2l2.9-4.7M531.5,377.7l2.9-4.4M541.8,385.2l2.9-4.3M552.1,392.3l2.9-4.1M562.5,399.1l2.8-4M573,405.3l2.7-3.8M583.6,411.1l2.7-3.8M594.3,416.3l2.6-3.7M605.2,421l2.5-3.7" stroke="#2e2a2a" stroke-opacity="0.84" stroke-width="0.9"/><path d="M452,327.9l3-5.6M616.2,425.4l2.5-3.7" stroke="#1a1a1a" stroke-width="0.8"/><g fill="currentColor" stroke="currentColor" stroke-width=".7"><path color="#00fa00" d="M449,333.9l9.4,3.8 3-6-9.4-3.8z"/><path color="#00fa00" d="M458.4,337.7l9.6,4.7 3-5.9-9.6-4.8z"/><path color="#00fa00" d="M468,342.4l9.9,5.4 3-5.7-9.9-5.6z"/><path color="#00fa00" d="M477.9,347.8l9.9,6.2 3-5.6-9.9-6.3z"/><path color="#00fa00" d="M487.8,354l10.1,6.7 3-5.4-10.1-6.9z"/><path color="#00fa00" d="M497.9,360.7l10.2,7 3-5.1-10.2-7.3z"/><path color="#00fa00" d="M508.1,367.7l10.2,7.3 3-4.8-10.2-7.6z"/><path color="#00fa00" d="M518.3,375l10.3,7.3 2.9-4.6-10.2-7.5z"/><path color="#00fa00" d="M528.6,382.3l10.3,7.2 2.9-4.3-10.3-7.5z"/><path color="#00fa00" d="M538.9,389.5l10.4,7 2.8-4.2-10.3-7.1z"/><path color="#00fa00" d="M549.3,396.5l10.5,6.6 2.7-4-10.4-6.8z"/><path color="#00fa00" d="M559.8,403.1l10.5,6.1 2.7-3.9-10.5-6.2z"/><path color="#00fa00" d="M570.3,409.2l5.3,2.9 2.7-3.8-5.3-3z"/><path color="#00fa00" d="M575.6,412.1l5.3,2.8 2.7-3.8-5.3-2.8z"/><path color="#00fa00" d="M580.9,414.9l5.4,2.6 2.6-3.8-5.3-2.6z"/><path color="#00fa00" d="M586.3,417.5l5.4,2.5 2.6-3.7-5.4-2.6z"/><path color="#00fa00" d="M591.7,420l5.4,2.5 2.6-3.8-5.4-2.4z"/><path color="#00fa00" d="M597.1,422.5l5.5,2.3 2.6-3.8-5.5-2.3z"/><path color="#00fa00" d="M602.6,424.8l3.7,1.5 2.5-3.8-3.6-1.5z"/><path color="#00fa00" d="M606.3,426.3l3.7,1.5 2.5-3.8-3.7-1.5z"/><path color="#00fa00" d="M610,427.8l3.7,1.4 2.5-3.8-3.7-1.4z"/></g><path d="M458.4,337.7l3-6M468,342.4l3-5.9M477.9,347.8l3-5.7M487.8,354l3-5.6M497.9,360.7l3-5.4M508.1,367.7l3-5.1M518.3,375l3-4.8M528.6,382.3l2.9-4.6M538.9,389.5l2.9-4.3M549.3,396.5l2.8-4.2M559.8,403.1l2.7-4M570.3,409.2l2.7-3.9M580.9,414.9l2.7-3.8M591.7,420l2.6-3.7M602.6,424.8l2.6-3.8" stroke="#2e2a2a" stroke-opacity="0.84" stroke-width="0.9"/><path d="M449,333.9l3-6M613.7,429.2l2.5-3.8" stroke="#1a1a1a" stroke-width="0.8"/><g fill="currentColor" stroke="currentColor" stroke-width=".7"><path color="#00fa00" d="M447,338.5l9.5,3.8 1.9-4.6-9.4-3.8z"/><path color="#00fa00" d="M456.5,342.3l9.6,4.6 1.9-4.5-9.6-4.7z"/><path color="#00fa00" d="M466.1,346.9l9.8,5.3 2-4.4-9.9-5.4z"/><path color="#00fa00" d="M475.9,352.2l10,6 1.9-4.2-9.9-6.2z"/><path color="#00fa00" d="M485.9,358.2l10,6.5 2-4-10.1-6.7z"/><path color="#00fa00" d="M495.9,364.7l10.2,6.9 2-3.9-10.2-7z"/><path color="#00fa00" d="M506.1,371.6l10.2,7 2-3.6-10.2-7.3z"/><path color="#00fa00" d="M516.3,378.6l10.3,7.1 2-3.4-10.3-7.3z"/><path color="#00fa00" d="M526.6,385.7l10.4,7 1.9-3.2-10.3-7.2z"/><path color="#00fa00" d="M537,392.7l10.4,6.8 1.9-3-10.4-7z"/><path color="#00fa00" d="M547.4,399.5l10.5,6.4 1.9-2.8-10.5-6.6z"/><path color="#00fa00" d="M557.9,405.9l10.5,6 1.9-2.7-10.5-6.1z"/><path color="#00fa00" d="M568.4,411.9l5.4,2.8 1.8-2.6-5.3-2.9z"/><path color="#00fa00" d="M573.8,414.7l5.3,2.8 1.8-2.6-5.3-2.8z"/><path color="#00fa00" d="M579.1,417.5l5.4,2.6 1.8-2.6-5.4-2.6z"/><path color="#00fa00" d="M584.5,420.1l5.4,2.5 1.8-2.6-5.4-2.5z"/><path color="#00fa00" d="M589.9,422.6l5.5,2.4 1.7-2.5-5.4-2.5z"/><path color="#00fa00" d="M595.4,425l5.5,2.3 1.7-2.5-5.5-2.3z"/><path color="#00fa00" d="M600.9,427.3l3.7,1.6 1.7-2.6-3.7-1.5z"/><path color="#00fa00" d="M604.6,428.9l3.7,1.4 1.7-2.5-3.7-1.5z"/><path color="#00fa00" d="M608.3,430.3l3.7,1.5 1.7-2.6-3.7-1.4z"/></g><path d="M449,333.9l9.4,3.8 9.6,4.7 9.9,5.4 9.9,6.2 10.1,6.7 10.2,7 10.2,7.3 10.3,7.3 10.3,7.2 10.4,7 10.5,6.6 10.5,6.1 5.3,2.9 5.3,2.8 5.4,2.6 5.4,2.5 5.4,2.5 5.5,2.3 3.7,1.5 3.7,1.5 3.7,1.4M456.5,342.3l1.9-4.6M466.1,346.9l1.9-4.5M475.9,352.2l2-4.4M485.9,358.2l1.9-4.2M495.9,364.7l2-4M506.1,371.6l2-3.9M516.3,378.6l2-3.6M526.6,385.7l2-3.4M537,392.7l1.9-3.2M547.4,399.5l1.9-3M557.9,405.9l1.9-2.8M568.4,411.9l1.9-2.7M579.1,417.5l1.8-2.6M589.9,422.6l1.8-2.6M600.9,427.3l1.7-2.5" stroke="#2e2a2a" stroke-opacity="0.84" stroke-width="0.9"/><path d="M447,338.5l2-4.6M612,431.8l1.7-2.6" stroke="#1a1a1a" stroke-width="0.8"/><g fill="currentColor" stroke="currentColor" stroke-width=".7"><path color="#00db00" d="M445.3,344.4l9.4,3.8 1.8-5.9-9.5-3.8z"/><path color="#0d0" d="M454.7,348.2l9.6,4.5 1.8-5.8-9.6-4.6z"/><path color="#00e100" d="M464.3,352.7l9.8,5.1 1.8-5.6-9.8-5.3z"/><path color="#00e600" d="M474.1,357.8l9.9,5.7 1.9-5.3-10-6z"/><path color="#0e0" d="M484,363.5l10,6.2 1.9-5-10-6.5z"/><path color="#00f600" d="M494,369.7l10.2,6.5 1.9-4.6-10.2-6.9z"/><path color="#00fa00" d="M504.2,376.2l10.2,6.7 1.9-4.3-10.2-7z"/><path color="#00fa00" d="M514.4,382.9l10.3,6.7 1.9-3.9-10.3-7.1z"/><path color="#00fa00" d="M524.7,389.6l10.4,6.7 1.9-3.6-10.4-7z"/><path color="#00fa00" d="M535.1,396.3l10.4,6.5 1.9-3.3-10.4-6.8z"/><path color="#00fa00" d="M545.5,402.8l10.5,6.1 1.9-3-10.5-6.4z"/><path color="#00fa00" d="M556,408.9l10.6,5.8 1.8-2.8-10.5-6z"/><path color="#00fa00" d="M566.6,414.7l5.3,2.8 1.9-2.8-5.4-2.8z"/><path color="#00fa00" d="M571.9,417.5l5.4,2.7 1.8-2.7-5.3-2.8z"/><path color="#00fa00" d="M577.3,420.2l5.4,2.5 1.8-2.6-5.4-2.6z"/><path color="#00fa00" d="M582.7,422.7l5.4,2.5 1.8-2.6-5.4-2.5z"/><path color="#00fa00" d="M588.1,425.2l5.5,2.4 1.8-2.6-5.5-2.4z"/><path color="#00fa00" d="M593.6,427.6l5.5,2.3 1.8-2.6-5.5-2.3z"/><path color="#00fa00" d="M599.1,429.9l3.8,1.5 1.7-2.5-3.7-1.6z"/><path color="#00fa00" d="M602.9,431.4l3.7,1.5 1.7-2.6-3.7-1.4z"/><path color="#00fa00" d="M606.6,432.9l3.7,1.5 1.7-2.6-3.7-1.5z"/></g><path d="M454.7,348.2l1.8-5.9M464.3,352.7l1.8-5.8M474.1,357.8l1.8-5.6M484,363.5l1.9-5.3M494,369.7l1.9-5M504.2,376.2l1.9-4.6M514.4,382.9l1.9-4.3M524.7,389.6l1.9-3.9M535.1,396.3l1.9-3.6M545.5,402.8l1.9-3.3M556,408.9l1.9-3M566.6,414.7l1.8-2.8M577.3,420.2l1.8-2.7M588.1,425.2l1.8-2.6M599.1,429.9l1.8-2.6" stroke="#2e2a2a" stroke-opacity="0.84" stroke-width="0.9"/><path d="M445.3,344.4l1.7-5.9M610.3,434.4l1.7-2.6" stroke="#1a1a1a" stroke-width="0.8"/><g fill="currentColor" stroke="currentColor" stroke-width=".7"><path color="#00be00" d="M443.7,351.8l9.4,3.7 1.6-7.3-9.4-3.8z"/><path color="#00c000" d="M453.1,355.5l9.5,4.3 1.7-7.1-9.6-4.5z"/><path color="#00c400" d="M462.6,359.8l9.8,4.9 1.7-6.9-9.8-5.1z"/><path color="#00ca00" d="M472.4,364.7l9.8,5.3 1.8-6.5-9.9-5.7z"/><path color="#00d300" d="M482.2,370l10,5.8 1.8-6.1-10-6.2z"/><path color="#00de00" d="M492.2,375.8l10.1,6 1.9-5.6-10.2-6.5z"/><path color="#00ea00" d="M502.3,381.8l10.2,6.2 1.9-5.1-10.2-6.7z"/><path color="#00f900" d="M512.5,388l10.3,6.2 1.9-4.6-10.3-6.7z"/><path color="#00fa00" d="M522.8,394.2l10.3,6.2 2-4.1-10.4-6.7z"/><path color="#00fa00" d="M533.1,400.4l10.5,6 1.9-3.6-10.4-6.5z"/><path color="#00fa00" d="M543.6,406.4l10.5,5.8 1.9-3.3-10.5-6.1z"/><path color="#00fa00" d="M554.1,412.2l10.6,5.6 1.9-3.1-10.6-5.8z"/><path color="#00fa00" d="M564.7,417.8l5.4,2.6 1.8-2.9-5.3-2.8z"/><path color="#00fa00" d="M570.1,420.4l5.4,2.6 1.8-2.8-5.4-2.7z"/><path color="#00fa00" d="M575.5,423l5.4,2.5 1.8-2.8-5.4-2.5z"/><path color="#00fa00" d="M580.9,425.5l5.4,2.4 1.8-2.7-5.4-2.5z"/><path color="#00fa00" d="M586.3,427.9l5.5,2.3 1.8-2.6-5.5-2.4z"/><path color="#00fa00" d="M591.8,430.2l5.6,2.3 1.7-2.6-5.5-2.3z"/><path color="#00fa00" d="M597.4,432.5l3.7,1.5 1.8-2.6-3.8-1.5z"/><path color="#00fa00" d="M601.1,434l3.7,1.5 1.8-2.6-3.7-1.5z"/><path color="#00fa00" d="M604.8,435.5l3.8,1.5 1.7-2.6-3.7-1.5z"/></g><path d="M453.1,355.5l1.6-7.3M462.6,359.8l1.7-7.1M472.4,364.7l1.7-6.9M482.2,370l1.8-6.5M492.2,375.8l1.8-6.1M502.3,381.8l1.9-5.6M512.5,388l1.9-5.1M522.8,394.2l1.9-4.6M533.1,400.4l2-4.1M543.6,406.4l1.9-3.6M554.1,412.2l1.9-3.3M564.7,417.8l1.9-3.1M575.5,423l1.8-2.8M586.3,427.9l1.8-2.7M597.4,432.5l1.7-2.6" stroke="#2e2a2a" stroke-opacity="0.84" stroke-width="0.9"/><path d="M443.7,351.8l1.6-7.4M608.6,437l1.7-2.6" stroke="#1a1a1a" stroke-width="0.8"/><g fill="currentColor" stroke="currentColor" stroke-width=".7"><path color="#00b400" d="M442.6,357.8l9.3,3.7 1.2-6-9.4-3.7z"/><path color="#00b600" d="M451.9,361.5l9.6,4.1 1.1-5.8-9.5-4.3z"/><path color="#0b0" d="M461.5,365.6l9.6,4.7 1.3-5.6-9.8-4.9z"/><path color="#00c100" d="M471.1,370.3l9.8,5 1.3-5.3-9.8-5.3z"/><path color="#00ca00" d="M480.9,375.3l10,5.4 1.3-4.9-10-5.8z"/><path color="#00d500" d="M490.9,380.7l10,5.6 1.4-4.5-10.1-6z"/><path color="#00e200" d="M500.9,386.3l10.2,5.8 1.4-4.1-10.2-6.2z"/><path color="#00f200" d="M511.1,392.1l10.2,5.8 1.5-3.7-10.3-6.2z"/><path color="#00fa00" d="M521.3,397.9l10.4,5.8 1.4-3.3-10.3-6.2z"/><path color="#00fa00" d="M531.7,403.7l10.4,5.6 1.5-2.9-10.5-6z"/><path color="#00fa00" d="M542.1,409.3l10.5,5.5 1.5-2.6-10.5-5.8z"/><path color="#00fa00" d="M552.6,414.8l10.7,5.3 1.4-2.3-10.6-5.6z"/><path color="#00fa00" d="M563.3,420.1l5.4,2.5 1.4-2.2-5.4-2.6z"/><path color="#00fa00" d="M568.7,422.6l5.4,2.5 1.4-2.1-5.4-2.6z"/><path color="#00fa00" d="M574.1,425.1l5.4,2.5 1.4-2.1-5.4-2.5z"/><path color="#00fa00" d="M579.5,427.6l5.5,2.3 1.3-2-5.4-2.4z"/><path color="#00fa00" d="M585,429.9l5.5,2.3 1.3-2-5.5-2.3z"/><path color="#00fa00" d="M590.5,432.2l5.6,2.3 1.3-2-5.6-2.3z"/><path color="#00fa00" d="M596.1,434.5l3.7,1.5 1.3-2-3.7-1.5z"/><path color="#00fa00" d="M599.8,436l3.7,1.5 1.3-2-3.7-1.5z"/><path color="#00fa00" d="M603.5,437.5l3.8,1.4 1.3-1.9-3.8-1.5z"/></g><path d="M443.7,351.8l9.4,3.7 9.5,4.3 9.8,4.9 9.8,5.3 10,5.8 10.1,6 10.2,6.2 10.3,6.2 10.3,6.2 10.5,6 10.5,5.8 10.6,5.6 5.4,2.6 5.4,2.6 5.4,2.5 5.4,2.4 5.5,2.3 5.6,2.3 3.7,1.5 3.7,1.5 3.8,1.5M451.9,361.5l1.2-6M461.5,365.6l1.1-5.8M471.1,370.3l1.3-5.6M480.9,375.3l1.3-5.3M490.9,380.7l1.3-4.9M500.9,386.3l1.4-4.5M511.1,392.1l1.4-4.1M521.3,397.9l1.5-3.7M531.7,403.7l1.4-3.3M542.1,409.3l1.5-2.9M552.6,414.8l1.5-2.6M563.3,420.1l1.4-2.3M574.1,425.1l1.4-2.1M585,429.9l1.3-2M596.1,434.5l1.3-2" stroke="#2e2a2a" stroke-opacity="0.84" stroke-width="0.9"/><path d="M442.6,357.8l1.1-6M607.3,438.9l1.3-1.9" stroke="#1a1a1a" stroke-width="0.8"/><g fill="currentColor" stroke="currentColor" stroke-width=".7"><path color="#00a800" d="M441.6,364.4l9.3,3.6 1-6.5-9.3-3.7z"/><path color="#00ab00" d="M450.9,368l9.5,4.1 1.1-6.5-9.6-4.1z"/><path color="#00af00" d="M460.4,372.1l9.6,4.3 1.1-6.1-9.6-4.7z"/><path color="#00b500" d="M470,376.4l9.7,4.7 1.2-5.8-9.8-5z"/><path color="#00bd00" d="M479.7,381.1l9.9,5 1.3-5.4-10-5.4z"/><path color="#00c900" d="M489.6,386.1l10,5.1 1.3-4.9-10-5.6z"/><path color="#00d700" d="M499.6,391.2l10.1,5.3 1.4-4.4-10.2-5.8z"/><path color="#00e800" d="M509.7,396.5l10.2,5.3 1.4-3.9-10.2-5.8z"/><path color="#00fa00" d="M519.9,401.8l10.3,5.4 1.5-3.5-10.4-5.8z"/><path color="#00fa00" d="M530.2,407.2l10.5,5.2 1.4-3.1-10.4-5.6z"/><path color="#00fa00" d="M540.7,412.4l10.5,5.1 1.4-2.7-10.5-5.5z"/><path color="#00fa00" d="M551.2,417.5l10.7,5 1.4-2.4-10.7-5.3z"/><path color="#00fa00" d="M561.9,422.5l5.4,2.5 1.4-2.4-5.4-2.5z"/><path color="#00fa00" d="M567.3,425l5.4,2.3 1.4-2.2-5.4-2.5z"/><path color="#00fa00" d="M572.7,427.3l5.4,2.4 1.4-2.1-5.4-2.5z"/><path color="#00fa00" d="M578.1,429.7l5.5,2.3 1.4-2.1-5.5-2.3z"/><path color="#00fa00" d="M583.6,432l5.5,2.3 1.4-2.1-5.5-2.3z"/><path color="#00fa00" d="M589.1,434.3l5.6,2.2 1.4-2-5.6-2.3z"/><path color="#00fa00" d="M594.7,436.5l3.8,1.5 1.3-2-3.7-1.5z"/><path color="#00fa00" d="M598.5,438l3.7,1.5 1.3-2-3.7-1.5z"/><path color="#00fa00" d="M602.2,439.5l3.8,1.4 1.3-2-3.8-1.4z"/></g><path d="M450.9,368l1-6.5M460.4,372.1l1.1-6.5M470,376.4l1.1-6.1M479.7,381.1l1.2-5.8M489.6,386.1l1.3-5.4M499.6,391.2l1.3-4.9M509.7,396.5l1.4-4.4M519.9,401.8l1.4-3.9M530.2,407.2l1.5-3.5M540.7,412.4l1.4-3.1M551.2,417.5l1.4-2.7M561.9,422.5l1.4-2.4M572.7,427.3l1.4-2.2M583.6,432l1.4-2.1M594.7,436.5l1.4-2" stroke="#2e2a2a" stroke-opacity="0.84" stroke-width="0.9"/><path d="M441.6,364.4l1-6.6M606,440.9l1.3-2" stroke="#1a1a1a" stroke-width="0.8"/><g fill="currentColor" stroke="currentColor" stroke-width=".7"><path color="#009e00" d="M440.7,371.6l9.2,3.6 1-7.2-9.3-3.6z"/><path color="#00a000" d="M449.9,375.2l9.4,3.9 1.1-7-9.5-4.1z"/><path color="#00a400" d="M459.3,379.1l9.6,4.1 1.1-6.8-9.6-4.3z"/><path color="#0a0" d="M468.9,383.2l9.7,4.3 1.1-6.4-9.7-4.7z"/><path color="#00b200" d="M478.6,387.5l9.8,4.4 1.2-5.8-9.9-5z"/><path color="#00bd00" d="M488.4,391.9l9.9,4.7 1.3-5.4-10-5.1z"/><path color="#0c0" d="M498.3,396.6l10,4.7 1.4-4.8-10.1-5.3z"/><path color="#0d0" d="M508.3,401.3l10.2,4.8 1.4-4.3-10.2-5.3z"/><path color="#00f100" d="M518.5,406.1l10.3,4.8 1.4-3.7-10.3-5.4z"/><path color="#00fa00" d="M528.8,410.9l10.4,4.8 1.5-3.3-10.5-5.2z"/><path color="#00fa00" d="M539.2,415.7l10.6,4.7 1.4-2.9-10.5-5.1z"/><path color="#00fa00" d="M549.8,420.4l10.6,4.6 1.5-2.5-10.7-5z"/><path color="#00fa00" d="M560.4,425l5.4,2.3 1.5-2.3-5.4-2.5z"/><path color="#00fa00" d="M565.8,427.3l5.5,2.3 1.4-2.3-5.4-2.3z"/><path color="#00fa00" d="M571.3,429.6l5.4,2.3 1.4-2.2-5.4-2.4z"/><path color="#00fa00" d="M576.7,431.9l5.5,2.2 1.4-2.1-5.5-2.3z"/><path color="#00fa00" d="M582.2,434.1l5.6,2.2 1.3-2-5.5-2.3z"/><path color="#00fa00" d="M587.8,436.3l5.6,2.2 1.3-2-5.6-2.2z"/><path color="#00fa00" d="M593.4,438.5l3.7,1.5 1.4-2-3.8-1.5z"/><path color="#00fa00" d="M597.1,440l3.8,1.5 1.3-2-3.7-1.5z"/><path color="#00fa00" d="M600.9,441.5l3.8,1.4 1.3-2-3.8-1.4z"/></g><path d="M449.9,375.2l1-7.2M459.3,379.1l1.1-7M468.9,383.2l1.1-6.8M478.6,387.5l1.1-6.4M488.4,391.9l1.2-5.8M498.3,396.6l1.3-5.4M508.3,401.3l1.4-4.8M518.5,406.1l1.4-4.3M528.8,410.9l1.4-3.7M539.2,415.7l1.5-3.3M549.8,420.4l1.4-2.9M560.4,425l1.5-2.5M571.3,429.6l1.4-2.3M582.2,434.1l1.4-2.1M593.4,438.5l1.3-2" stroke="#2e2a2a" stroke-opacity="0.84" stroke-width="0.9"/><path d="M440.7,371.6l.9-7.2M604.7,442.9l1.3-2" stroke="#1a1a1a" stroke-width="0.8"/><g fill="currentColor" stroke="currentColor" stroke-width=".7"><path color="#009700" d="M439.9,379.4l9.2,3.5 .8-7.7-9.2-3.6z"/><path color="#090" d="M449.1,382.9l9.3,3.7 .9-7.5-9.4-3.9z"/><path color="#009c00" d="M458.4,386.6l9.5,3.8 1-7.2-9.6-4.1z"/><path color="#00a200" d="M467.9,390.4l9.5,3.8 1.2-6.7-9.7-4.3z"/><path color="#0a0" d="M477.4,394.2l9.8,4 1.2-6.3-9.8-4.4z"/><path color="#00b500" d="M487.2,398.2l9.8,4.1 1.3-5.7-9.9-4.7z"/><path color="#00c200" d="M497,402.3l10,4.1 1.3-5.1-10-4.7z"/><path color="#00d400" d="M507,406.4l10.1,4.2 1.4-4.5-10.2-4.8z"/><path color="#00e900" d="M517.1,410.6l10.3,4.2 1.4-3.9-10.3-4.8z"/><path color="#00fa00" d="M527.4,414.8l10.4,4.3 1.4-3.4-10.4-4.8z"/><path color="#00fa00" d="M537.8,419.1l10.5,4.2 1.5-2.9-10.6-4.7z"/><path color="#00fa00" d="M548.3,423.3l10.7,4.3 1.4-2.6-10.6-4.6z"/><path color="#00fa00" d="M559,427.6l5.4,2.2 1.4-2.5-5.4-2.3z"/><path color="#00fa00" d="M564.4,429.8l5.4,2.1 1.5-2.3-5.5-2.3z"/><path color="#00fa00" d="M569.8,431.9l5.5,2.2 1.4-2.2-5.4-2.3z"/><path color="#00fa00" d="M575.3,434.1l5.5,2.2 1.4-2.2-5.5-2.2z"/><path color="#00fa00" d="M580.8,436.3l5.6,2.1 1.4-2.1-5.6-2.2z"/><path color="#00fa00" d="M586.4,438.4l5.6,2.2 1.4-2.1-5.6-2.2z"/><path color="#00fa00" d="M592,440.6l3.8,1.4 1.3-2-3.7-1.5z"/><path color="#00fa00" d="M595.8,442l3.7,1.5 1.4-2-3.8-1.5z"/><path color="#00fa00" d="M599.5,443.5l3.8,1.4 1.4-2-3.8-1.4z"/></g><path d="M449.1,382.9l.8-7.7M458.4,386.6l.9-7.5M467.9,390.4l1-7.2M477.4,394.2l1.2-6.7M487.2,398.2l1.2-6.3M497,402.3l1.3-5.7M507,406.4l1.3-5.1M517.1,410.6l1.4-4.5M527.4,414.8l1.4-3.9M537.8,419.1l1.4-3.4M548.3,423.3l1.5-2.9M559,427.6l1.4-2.6M569.8,431.9l1.5-2.3M580.8,436.3l1.4-2.2M592,440.6l1.4-2.1" stroke="#2e2a2a" stroke-opacity="0.84" stroke-width="0.9"/><path d="M439.9,379.4l.8-7.8M603.3,444.9l1.4-2" stroke="#1a1a1a" stroke-width="0.8"/><path d="M439.9,379.4l9.2,3.5 9.3,3.7 9.5,3.8 9.5,3.8 9.8,4 9.8,4.1 10,4.1 10.1,4.2 10.3,4.2 10.4,4.3 10.5,4.2 10.7,4.3 5.4,2.2 5.4,2.1 5.5,2.2 5.5,2.2 5.6,2.1 5.6,2.2 3.8,1.4 3.7,1.5 3.8,1.4" stroke="#1a1a1a" stroke-width="0.8"/><path d="M524.3,250.2l8.6,2.3 8.9,2.2 8.9,2.3 9.1,2.3 9.2,2.2 9.4,2.3 9.6,2.2 9.6,2.2 9.9,2.2 10,2.2 10.1,2.1 10.3,2.1 5.3,1 5.2,1.1 5.3,1 5.4,1 5.3,.9 2.5,.5-2.3-.6-5.1-1.4-5.1-1.3-5-1.3-5-1.3-5-1.3-9.8-2.6-9.7-2.6-9.6-2.5-9.4-2.5-9.4-2.4-9.2-2.5-9.1-2.3-9.1-2.4-8.8-2.4-8.8-2.3-8.7-2.2-8.6-2.3z" fill="#d6d6d6" stroke="#1a1a1a" stroke-width=".6"/></g><g stroke="#666" stroke-width="0.7" fill="none" opacity="0.9"><path d="M432.2,388.4L603.6,455.0"/><path d="M603.6,455.0L676.7,342.6"/><path d="M432.2,388.4L422.7,327.5"/><path d="M603.6,455.0L607.4,391.3"/><path d="M676.7,342.6L684.6,284.4"/><path d="M422.7,327.5L607.4,391.3"/><path d="M607.4,391.3L684.6,284.4"/><path d="M684.6,284.4L526.3,243.1"/><path d="M526.3,243.1L422.7,327.5"/></g><g stroke="#6e6e6e" stroke-width="0.55" fill="none"><path d="M435.8,389.8L438.6,387.2"/><path d="M490.0,410.8L492.6,408.0"/><path d="M548.8,433.7L551.1,430.6"/><path d="M605.7,451.8L601.1,450.1"/><path d="M629.1,415.8L624.7,414.2"/><path d="M649.8,383.9L645.6,382.5"/><path d="M668.3,355.6L664.3,354.4"/><path d="M431.5,383.9L434.6,385.1"/><path d="M428.1,362.0L431.2,363.2"/><path d="M424.5,338.8L427.7,340.0"/><path d="M432.2,388.2L433.9,388.8"/><path d="M431.5,383.9L433.2,384.6"/><path d="M430.9,379.6L432.6,380.3"/><path d="M430.2,375.3L431.9,375.9"/><path d="M429.5,370.9L431.2,371.6"/><path d="M428.8,366.5L430.5,367.1"/><path d="M428.1,362.0L429.8,362.6"/><path d="M427.4,357.5L429.1,358.1"/><path d="M426.7,352.9L428.4,353.5"/><path d="M425.9,348.3L427.7,348.9"/><path d="M425.2,343.6L427.0,344.2"/><path d="M424.5,338.8L426.2,339.5"/><path d="M423.7,334.1L425.5,334.7"/><path d="M422.9,329.2L424.7,329.8"/></g><text x="428.2" y="386.6" font-family="Liberation Sans, sans-serif" font-size="8.1" text-anchor="end" fill="#444">0.0000</text><text x="424.8" y="364.7" font-family="Liberation Sans, sans-serif" font-size="8.1" text-anchor="end" fill="#444">0.0001</text><text x="421.2" y="341.5" font-family="Liberation Sans, sans-serif" font-size="8.1" text-anchor="end" fill="#444">0.0002</text><g font-family="Liberation Sans, sans-serif" fill="#444" text-anchor="middle"><text x="482.7" y="418.5" font-size="9.4" font-style="italic">π</text><rect x="479.8" y="423.6" width="5.8" height="0.9"/><text x="482.7" y="435.4" font-size="8.6">6</text></g><g font-family="Liberation Sans, sans-serif" fill="#444" text-anchor="middle"><text x="541.5" y="441.5" font-size="9.4" font-style="italic">π</text><rect x="538.6" y="446.6" width="5.8" height="0.9"/><text x="541.5" y="458.4" font-size="8.6">3</text></g><g font-family="Liberation Sans, sans-serif" fill="#444" text-anchor="middle"><text x="636.3" y="416.0" font-size="9.4" font-style="italic">π</text><rect x="633.4" y="421.1" width="5.8" height="0.9"/><text x="636.3" y="432.9" font-size="8.6">6</text></g><g font-family="Liberation Sans, sans-serif" fill="#444" text-anchor="middle"><text x="658.0" y="383.5" font-size="9.4" font-style="italic">π</text><rect x="655.1" y="388.6" width="5.8" height="0.9"/><text x="658.0" y="400.4" font-size="8.6">3</text></g><g font-family="Liberation Sans, sans-serif" fill="#444" text-anchor="middle"><text x="676.0" y="354.5" font-size="9.4" font-style="italic">π</text><rect x="673.1" y="359.6" width="5.8" height="0.9"/><text x="676.0" y="371.4" font-size="8.6">2</text></g><text x="430.1" y="399.3" font-family="Liberation Sans, sans-serif" font-size="8.6" text-anchor="middle" fill="#444">0</text><text x="609.9" y="458.8" font-family="Liberation Sans, sans-serif" font-size="8.6" text-anchor="middle" fill="#444">0</text><text x="512.5" y="441.6" font-family="Liberation Serif, serif" font-size="11.5" font-style="italic" fill="#333">ρ</text><text x="664.8" y="420.5" font-family="Liberation Serif, serif" font-size="11.5" font-style="italic" fill="#333">ζ</text><g font-family="Liberation Serif, sans-serif" fill="#333" font-style="italic" text-anchor="middle"><path d="M401.8,293.9L398.3,299.2L401.8,304.6M414.9,293.9L418.4,299.2L414.9,304.6" fill="none" stroke="#333" stroke-width="0.75"/><path d="M404.4,293.1L406.4,291.4L408.4,293.1" fill="none" stroke="#333" stroke-width="0.75"/><text x="403.0" y="302.3" font-size="13.2" text-anchor="start">T</text><text x="413.2" y="294.7" font-size="9.2">ρ</text><text x="410.8" y="305.3" font-size="9.2">ρ</text><text x="421.2" y="296.3" font-size="9.2">ζ</text><text x="421.2" y="305.3" font-size="8.2" font-style="normal">0</text></g><g stroke="#5a5a5a" stroke-width="0.6" fill="none" opacity="1"><path d="M536.7,542.2L427.6,613.3"/><path d="M536.7,542.2L674.7,591.3"/><path d="M536.7,542.2L535.7,486.3"/></g><g fill="none" stroke-linejoin="round"><g fill="currentColor" stroke="currentColor" stroke-width=".7"><path color="#002054" d="M537.7,544.9l7.4,2.6 .9,.4-7.4-2.6z"/><path color="#002054" d="M545.1,547.5l7.4,2.7 .9,.3-7.4-2.6z"/><path color="#002054" d="M552.5,550.2l7.6,2.7 .9,.3-7.6-2.7z"/><path color="#002054" d="M560.1,552.9l7.7,2.7 .8,.4-7.6-2.8z"/><path color="#002054" d="M567.8,555.6l7.7,2.8 .9,.4-7.8-2.8z"/><path color="#002054" d="M575.5,558.4l7.9,2.8 .9,.4-7.9-2.8z"/><path color="#002054" d="M583.4,561.2l8.1,2.8 .8,.4-8-2.8z"/><path color="#002054" d="M591.5,564l8.1,2.9 .8,.4-8.1-2.9z"/><path color="#002054" d="M599.6,566.9l8.3,2.9 .8,.5-8.3-3z"/><path color="#002054" d="M607.9,569.8l4.2,1.5 .7,.5-4.1-1.5z"/><path color="#002054" d="M612.1,571.3l4.2,1.5 .7,.5-4.2-1.5z"/><path color="#002054" d="M616.3,572.8l4.2,1.4 .8,.6-4.3-1.5z"/><path color="#002054" d="M620.5,574.2l4.3,1.5 .7,.6-4.2-1.5z"/><path color="#002054" d="M624.8,575.7l4.3,1.5 .7,.7-4.3-1.6z"/><path color="#002054" d="M629.1,577.2l4.4,1.6 .7,.6-4.4-1.5z"/><path color="#002054" d="M633.5,578.8l4.3,1.5 .7,.7-4.3-1.6z"/><path color="#002054" d="M637.8,580.3l4.5,1.5 .6,.7-4.4-1.5z"/><path color="#002054" d="M642.3,581.8l2.9,1 .7,.8-3-1.1z"/><path color="#002054" d="M645.2,582.8l3,1 .7,.9-3-1.1z"/><path color="#002054" d="M648.2,583.8l3,1.1 .7,.8-3-1z"/><path color="#002055" d="M651.2,584.9l3,1 .7,.9-3-1.1z"/><path color="#002055" d="M654.2,585.9l3.1,1 .6,1-3-1.1z"/><path color="#002055" d="M657.3,586.9l3,1 .6,1.1-3-1.1z"/><path color="#002055" d="M660.3,587.9l2.3,.8 .6,1.1-2.3-.8z"/><path color="#002055" d="M662.6,588.7l2.3,.8 .6,1.1-2.3-.8z"/><path color="#002155" d="M664.9,589.5l2.3,.7 .6,1.2-2.3-.8z"/><path color="#002156" d="M667.2,590.2l2.4,.7 .5,1.4-2.3-.9z"/></g><path d="M545.1,547.5l.9,.4M552.5,550.2l.9,.3M560.1,552.9l.9,.3M567.8,555.6l.8,.4M575.5,558.4l.9,.4M583.4,561.2l.9,.4M591.5,564l.8,.4M599.6,566.9l.8,.4M607.9,569.8l.8,.5M616.3,572.8l.7,.5M624.8,575.7l.7,.6M633.5,578.8l.7,.6M642.3,581.8l.6,.7M651.2,584.9l.7,.8M660.3,587.9l.6,1.1" stroke="#2e2a2a" stroke-opacity="0.84" stroke-width="0.9"/><path d="M538.6,545.3l7.4,2.6 7.4,2.6 7.6,2.7 7.6,2.8 7.8,2.8 7.9,2.8 8,2.8 8.1,2.9 8.3,3 4.1,1.5 4.2,1.5 4.3,1.5 4.2,1.5 4.3,1.6 4.4,1.5 4.3,1.6 4.4,1.5 3,1.1 3,1.1 3,1 3,1.1 3,1.1 3,1.1 2.3,.8 2.3,.8 2.3,.8 2.3,.9M537.7,544.9l.9,.4M669.6,590.9l.5,1.4" stroke="#1a1a1a" stroke-width="0.8"/><g fill="currentColor" stroke="currentColor" stroke-width=".7"><path color="#002054" d="M536.7,538.4l7.4,2.7 1,6.4-7.4-2.6z"/><path color="#002054" d="M544.1,541.1l7.5,2.6 .9,6.5-7.4-2.7z"/><path color="#002054" d="M551.6,543.7l7.6,2.7 .9,6.5-7.6-2.7z"/><path color="#002054" d="M559.2,546.4l7.8,2.7 .8,6.5-7.7-2.7z"/><path color="#002054" d="M567,549.1l7.8,2.8 .7,6.5-7.7-2.8z"/><path color="#002054" d="M574.8,551.9l8,2.9 .6,6.4-7.9-2.8z"/><path color="#002054" d="M582.8,554.8l8,2.9 .7,6.3-8.1-2.8z"/><path color="#002054" d="M590.8,557.7l8.2,2.9 .6,6.3-8.1-2.9z"/><path color="#002054" d="M599,560.6l8.4,3 .5,6.2-8.3-2.9z"/><path color="#002054" d="M607.4,563.6l4.2,1.5 .5,6.2-4.2-1.5z"/><path color="#002054" d="M611.6,565.1l4.2,1.6 .5,6.1-4.2-1.5z"/><path color="#002054" d="M615.8,566.7l4.3,1.5 .4,6-4.2-1.4z"/><path color="#002054" d="M620.1,568.2l4.3,1.6 .4,5.9-4.3-1.5z"/><path color="#002054" d="M624.4,569.8l4.4,1.6 .3,5.8-4.3-1.5z"/><path color="#002054" d="M628.8,571.4l4.3,1.6 .4,5.8-4.4-1.6z"/><path color="#002054" d="M633.1,573l4.4,1.7 .3,5.6-4.3-1.5z"/><path color="#002054" d="M637.5,574.7l4.5,1.6 .3,5.5-4.5-1.5z"/><path color="#002054" d="M642,576.3l3,1.1 .2,5.4-2.9-1z"/><path color="#002054" d="M645,577.4l3,1.2 .2,5.2-3-1z"/><path color="#002054" d="M648,578.6l3,1.1 .2,5.2-3-1.1z"/><path color="#002054" d="M651,579.7l3,1.2 .2,5-3-1z"/><path color="#002054" d="M654,580.9l3,1.2 .3,4.8-3.1-1z"/><path color="#002054" d="M657,582.1l3.1,1.2 .2,4.6-3-1z"/><path color="#002054" d="M660.1,583.3l2.3,.9 .2,4.5-2.3-.8z"/><path color="#002054" d="M662.4,584.2l2.3,.9 .2,4.4-2.3-.8z"/><path color="#002054" d="M664.7,585.1l2.3,1 .2,4.1-2.3-.7z"/><path color="#002054" d="M667,586.1l2.3,1 .3,3.8-2.4-.7z"/></g><path d="M544.1,541.1l1,6.4M551.6,543.7l.9,6.5M559.2,546.4l.9,6.5M567,549.1l.8,6.5M574.8,551.9l.7,6.5M582.8,554.8l.6,6.4M590.8,557.7l.7,6.3M599,560.6l.6,6.3M607.4,563.6l.5,6.2M615.8,566.7l.5,6.1M624.4,569.8l.4,5.9M633.1,573l.4,5.8M642,576.3l.3,5.5M651,579.7l.2,5.2M660.1,583.3l.2,4.6" stroke="#2e2a2a" stroke-opacity="0.84" stroke-width="0.9"/><path d="M536.7,538.4l1,6.5M669.3,587.1l.3,3.8" stroke="#1a1a1a" stroke-width="0.8"/><g fill="currentColor" stroke="currentColor" stroke-width=".7"><path color="#002054" d="M535.7,534.2l7.4,2.6 1,4.3-7.4-2.7z"/><path color="#002054" d="M543.1,536.8l7.6,2.6 .9,4.3-7.5-2.6z"/><path color="#002054" d="M550.7,539.4l7.6,2.7 .9,4.3-7.6-2.7z"/><path color="#002054" d="M558.3,542.1l7.8,2.8 .9,4.2-7.8-2.7z"/><path color="#002054" d="M566.1,544.9l7.9,2.8 .8,4.2-7.8-2.8z"/><path color="#002054" d="M574,547.7l8,2.9 .8,4.2-8-2.9z"/><path color="#002054" d="M582,550.6l8.1,2.9 .7,4.2-8-2.9z"/><path color="#002054" d="M590.1,553.5l8.3,3 .6,4.1-8.2-2.9z"/><path color="#002054" d="M598.4,556.5l8.4,3.1 .6,4-8.4-3z"/><path color="#002054" d="M606.8,559.6l4.2,1.6 .6,3.9-4.2-1.5z"/><path color="#002054" d="M611,561.2l4.3,1.6 .5,3.9-4.2-1.6z"/><path color="#002054" d="M615.3,562.8l4.2,1.6 .6,3.8-4.3-1.5z"/><path color="#002054" d="M619.5,564.4l4.4,1.6 .5,3.8-4.3-1.6z"/><path color="#002054" d="M623.9,566l4.3,1.7 .6,3.7-4.4-1.6z"/><path color="#002054" d="M628.2,567.7l4.4,1.7 .5,3.6-4.3-1.6z"/><path color="#002054" d="M632.6,569.4l4.5,1.7 .4,3.6-4.4-1.7z"/><path color="#002054" d="M637.1,571.1l4.4,1.7 .5,3.5-4.5-1.6z"/><path color="#002054" d="M641.5,572.8l3,1.2 .5,3.4-3-1.1z"/><path color="#002054" d="M644.5,574l3,1.3 .5,3.3-3-1.2z"/><path color="#002054" d="M647.5,575.3l3,1.2 .5,3.2-3-1.1z"/><path color="#002054" d="M650.5,576.5l3,1.3 .5,3.1-3-1.2z"/><path color="#002054" d="M653.5,577.8l3.1,1.3 .4,3-3-1.2z"/><path color="#002054" d="M656.6,579.1l3,1.3 .5,2.9-3.1-1.2z"/><path color="#002054" d="M659.6,580.4l2.3,1.1 .5,2.7-2.3-.9z"/><path color="#002054" d="M661.9,581.5l2.3,1.1 .5,2.5-2.3-.9z"/><path color="#002054" d="M664.2,582.6l2.3,1.1 .5,2.4-2.3-1z"/><path color="#002054" d="M666.5,583.7l2.3,1.2 .5,2.2-2.3-1z"/></g><path d="M543.1,536.8l1,4.3M550.7,539.4l.9,4.3M558.3,542.1l.9,4.3M566.1,544.9l.9,4.2M574,547.7l.8,4.2M582,550.6l.8,4.2M590.1,553.5l.7,4.2M598.4,556.5l.6,4.1M606.8,559.6l.6,4M615.3,562.8l.5,3.9M623.9,566l.5,3.8M632.6,569.4l.5,3.6M641.5,572.8l.5,3.5M650.5,576.5l.5,3.2M659.6,580.4l.5,2.9" stroke="#2e2a2a" stroke-opacity="0.84" stroke-width="0.9"/><path d="M535.7,534.2l1,4.2M668.8,584.9l.5,2.2" stroke="#1a1a1a" stroke-width="0.8"/><g fill="currentColor" stroke="currentColor" stroke-width=".7"><path color="#002054" d="M534.7,530.7l7.5,2.5 .9,3.6-7.4-2.6z"/><path color="#002054" d="M542.2,533.2l7.6,2.7 .9,3.5-7.6-2.6z"/><path color="#002054" d="M549.8,535.9l7.7,2.7 .8,3.5-7.6-2.7z"/><path color="#002054" d="M557.5,538.6l7.8,2.8 .8,3.5-7.8-2.8z"/><path color="#002054" d="M565.3,541.4l7.9,2.8 .8,3.5-7.9-2.8z"/><path color="#002054" d="M573.2,544.2l8,3 .8,3.4-8-2.9z"/><path color="#002054" d="M581.2,547.2l8.2,2.9 .7,3.4-8.1-2.9z"/><path color="#002054" d="M589.4,550.1l8.3,3.1 .7,3.3-8.3-3z"/><path color="#002054" d="M597.7,553.2l8.4,3.2 .7,3.2-8.4-3.1z"/><path color="#002054" d="M606.1,556.4l4.2,1.6 .7,3.2-4.2-1.6z"/><path color="#002054" d="M610.3,558l4.3,1.7 .7,3.1-4.3-1.6z"/><path color="#002054" d="M614.6,559.7l4.3,1.6 .6,3.1-4.2-1.6z"/><path color="#002054" d="M618.9,561.3l4.4,1.7 .6,3-4.4-1.6z"/><path color="#002054" d="M623.3,563l4.3,1.8 .6,2.9-4.3-1.7z"/><path color="#002054" d="M627.6,564.8l4.5,1.8 .5,2.8-4.4-1.7z"/><path color="#002054" d="M632.1,566.6l4.4,1.8 .6,2.7-4.5-1.7z"/><path color="#002054" d="M636.5,568.4l4.5,1.9 .5,2.5-4.4-1.7z"/><path color="#002054" d="M641,570.3l3,1.3 .5,2.4-3-1.2z"/><path color="#002054" d="M644,571.6l3,1.3 .5,2.4-3-1.3z"/><path color="#002054" d="M647,572.9l3,1.3 .5,2.3-3-1.2z"/><path color="#002054" d="M650,574.2l3,1.4 .5,2.2-3-1.3z"/><path color="#002054" d="M653,575.6l3.1,1.4 .5,2.1-3.1-1.3z"/><path color="#002054" d="M656.1,577l3,1.5 .5,1.9-3-1.3z"/><path color="#002054" d="M659.1,578.5l2.3,1.2 .5,1.8-2.3-1.1z"/><path color="#002054" d="M661.4,579.7l2.3,1.3 .5,1.6-2.3-1.1z"/><path color="#002054" d="M663.7,581l2.3,1.3 .5,1.4-2.3-1.1z"/><path color="#002054" d="M666,582.3l2.3,1.4 .5,1.2-2.3-1.2z"/></g><path d="M542.2,533.2l.9,3.6M549.8,535.9l.9,3.5M557.5,538.6l.8,3.5M565.3,541.4l.8,3.5M573.2,544.2l.8,3.5M581.2,547.2l.8,3.4M589.4,550.1l.7,3.4M597.7,553.2l.7,3.3M606.1,556.4l.7,3.2M614.6,559.7l.7,3.1M623.3,563l.6,3M632.1,566.6l.5,2.8M641,570.3l.5,2.5M650,574.2l.5,2.3M659.1,578.5l.5,1.9" stroke="#2e2a2a" stroke-opacity="0.84" stroke-width="0.9"/><path d="M534.7,530.7l1,3.5M668.3,583.7l.5,1.2" stroke="#1a1a1a" stroke-width="0.8"/><g fill="currentColor" stroke="currentColor" stroke-width=".7"><path color="#002054" d="M533.7,527.7l7.5,2.6 1,2.9-7.5-2.5z"/><path color="#002054" d="M541.2,530.3l7.6,2.7 1,2.9-7.6-2.7z"/><path color="#002054" d="M548.8,533l7.7,2.7 1,2.9-7.7-2.7z"/><path color="#002054" d="M556.5,535.7l7.9,2.8 .9,2.9-7.8-2.8z"/><path color="#002054" d="M564.4,538.5l7.9,2.9 .9,2.8-7.9-2.8z"/><path color="#002054" d="M572.3,541.4l8.1,3 .8,2.8-8-3z"/><path color="#002054" d="M580.4,544.4l8.2,3 .8,2.7-8.2-2.9z"/><path color="#002054" d="M588.6,547.4l8.3,3.1 .8,2.7-8.3-3.1z"/><path color="#002054" d="M596.9,550.5l8.5,3.3 .7,2.6-8.4-3.2z"/><path color="#002054" d="M605.4,553.8l4.2,1.7 .7,2.5-4.2-1.6z"/><path color="#002054" d="M609.6,555.5l4.3,1.7 .7,2.5-4.3-1.7z"/><path color="#002054" d="M613.9,557.2l4.4,1.7 .6,2.4-4.3-1.6z"/><path color="#002054" d="M618.3,558.9l4.3,1.8 .7,2.3-4.4-1.7z"/><path color="#002054" d="M622.6,560.7l4.4,1.8 .6,2.3-4.3-1.8z"/><path color="#002054" d="M627,562.5l4.4,1.9 .7,2.2-4.5-1.8z"/><path color="#002054" d="M631.4,564.4l4.5,1.9 .6,2.1-4.4-1.8z"/><path color="#002054" d="M635.9,566.3l4.5,2 .6,2-4.5-1.9z"/><path color="#002054" d="M640.4,568.3l3,1.3 .6,2-3-1.3z"/><path color="#002054" d="M643.4,569.6l3,1.4 .6,1.9-3-1.3z"/><path color="#002054" d="M646.4,571l3,1.5 .6,1.7-3-1.3z"/><path color="#002054" d="M649.4,572.5l3,1.5 .6,1.6-3-1.4z"/><path color="#002054" d="M652.4,574l3.1,1.5 .6,1.5-3.1-1.4z"/><path color="#002054" d="M655.5,575.5l3,1.7 .6,1.3-3-1.5z"/><path color="#002054" d="M658.5,577.2l2.3,1.3 .6,1.2-2.3-1.2z"/><path color="#002054" d="M660.8,578.5l2.3,1.4 .6,1.1-2.3-1.3z"/><path color="#002054" d="M663.1,579.9l2.3,1.5 .6,.9-2.3-1.3z"/><path color="#002054" d="M665.4,581.4l2.2,1.6 .7,.7-2.3-1.4z"/></g><path d="M541.2,530.3l1,2.9M548.8,533l1,2.9M556.5,535.7l1,2.9M564.4,538.5l.9,2.9M572.3,541.4l.9,2.8M580.4,544.4l.8,2.8M588.6,547.4l.8,2.7M596.9,550.5l.8,2.7M605.4,553.8l.7,2.6M613.9,557.2l.7,2.5M622.6,560.7l.7,2.3M631.4,564.4l.7,2.2M640.4,568.3l.6,2M649.4,572.5l.6,1.7M658.5,577.2l.6,1.3" stroke="#2e2a2a" stroke-opacity="0.84" stroke-width="0.9"/><path d="M533.7,527.7l1,3M667.6,583l.7,.7" stroke="#1a1a1a" stroke-width="0.8"/><g fill="currentColor" stroke="currentColor" stroke-width=".7"><path color="#002054" d="M532.7,525.4l7.5,2.6 1,2.3-7.5-2.6z"/><path color="#002054" d="M540.2,528l7.7,2.6 .9,2.4-7.6-2.7z"/><path color="#002054" d="M547.9,530.6l7.7,2.8 .9,2.3-7.7-2.7z"/><path color="#002054" d="M555.6,533.4l7.9,2.8 .9,2.3-7.9-2.8z"/><path color="#002054" d="M563.5,536.2l8,2.9 .8,2.3-7.9-2.9z"/><path color="#002054" d="M571.5,539.1l8.1,3 .8,2.3-8.1-3z"/><path color="#002054" d="M579.6,542.1l8.2,3.1 .8,2.2-8.2-3z"/><path color="#002054" d="M587.8,545.2l8.4,3.2 .7,2.1-8.3-3.1z"/><path color="#002054" d="M596.2,548.4l8.4,3.3 .8,2.1-8.5-3.3z"/><path color="#002054" d="M604.6,551.7l4.3,1.7 .7,2.1-4.2-1.7z"/><path color="#002054" d="M608.9,553.4l4.3,1.8 .7,2-4.3-1.7z"/><path color="#002054" d="M613.2,555.2l4.4,1.8 .7,1.9-4.4-1.7z"/><path color="#002054" d="M617.6,557l4.3,1.8 .7,1.9-4.3-1.8z"/><path color="#002054" d="M621.9,558.8l4.4,1.9 .7,1.8-4.4-1.8z"/><path color="#002054" d="M626.3,560.7l4.5,1.9 .6,1.8-4.4-1.9z"/><path color="#002054" d="M630.8,562.6l4.4,2 .7,1.7-4.5-1.9z"/><path color="#002054" d="M635.2,564.6l4.5,2.1 .7,1.6-4.5-2z"/><path color="#002054" d="M639.7,566.7l3,1.4 .7,1.5-3-1.3z"/><path color="#002054" d="M642.7,568.1l3,1.5 .7,1.4-3-1.4z"/><path color="#002054" d="M645.7,569.6l3.1,1.5 .6,1.4-3-1.5z"/><path color="#002054" d="M648.8,571.1l3,1.6 .6,1.3-3-1.5z"/><path color="#002054" d="M651.8,572.7l3,1.7 .7,1.1-3.1-1.5z"/><path color="#002054" d="M654.8,574.4l3.1,1.7 .6,1.1-3-1.7z"/><path color="#002054" d="M657.9,576.1l2.3,1.5 .6,.9-2.3-1.3z"/><path color="#002054" d="M660.2,577.6l2.2,1.5 .7,.8-2.3-1.4z"/><path color="#002054" d="M662.4,579.1l2.3,1.6 .7,.7-2.3-1.5z"/><path color="#002054" d="M664.7,580.7l2.3,1.8 .6,.5-2.2-1.6z"/></g><path d="M540.2,528l1,2.3M547.9,530.6l.9,2.4M555.6,533.4l.9,2.3M563.5,536.2l.9,2.3M571.5,539.1l.8,2.3M579.6,542.1l.8,2.3M587.8,545.2l.8,2.2M596.2,548.4l.7,2.1M604.6,551.7l.8,2.1M613.2,555.2l.7,2M621.9,558.8l.7,1.9M630.8,562.6l.6,1.8M639.7,566.7l.7,1.6M648.8,571.1l.6,1.4M657.9,576.1l.6,1.1" stroke="#2e2a2a" stroke-opacity="0.84" stroke-width="0.9"/><path d="M532.7,525.4l1,2.3M667,582.5l.6,.5" stroke="#1a1a1a" stroke-width="0.8"/><g fill="currentColor" stroke="currentColor" stroke-width=".7"><path color="#002054" d="M530.7,522.2l7.6,2.6 1.9,3.2-7.5-2.6z"/><path color="#002054" d="M538.3,524.8l7.7,2.7 1.9,3.1-7.7-2.6z"/><path color="#002054" d="M546,527.5l7.8,2.8 1.8,3.1-7.7-2.8z"/><path color="#002054" d="M553.8,530.3l7.9,2.8 1.8,3.1-7.9-2.8z"/><path color="#002054" d="M561.7,533.1l8,3 1.8,3-8-2.9z"/><path color="#002054" d="M569.7,536.1l8.2,3 1.7,3-8.1-3z"/><path color="#002054" d="M577.9,539.1l8.2,3.2 1.7,2.9-8.2-3.1z"/><path color="#002054" d="M586.1,542.3l8.4,3.2 1.7,2.9-8.4-3.2z"/><path color="#002054" d="M594.5,545.5l8.6,3.5 1.5,2.7-8.4-3.3z"/><path color="#002054" d="M603.1,549l4.3,1.7 1.5,2.7-4.3-1.7z"/><path color="#002054" d="M607.4,550.7l4.3,1.9 1.5,2.6-4.3-1.8z"/><path color="#002054" d="M611.7,552.6l4.4,1.8 1.5,2.6-4.4-1.8z"/><path color="#002054" d="M616.1,554.4l4.4,1.9 1.4,2.5-4.3-1.8z"/><path color="#002054" d="M620.5,556.3l4.4,2 1.4,2.4-4.4-1.9z"/><path color="#002054" d="M624.9,558.3l4.4,2 1.5,2.3-4.5-1.9z"/><path color="#002054" d="M629.3,560.3l4.5,2.1 1.4,2.2-4.4-2z"/><path color="#002054" d="M633.8,562.4l4.5,2.2 1.4,2.1-4.5-2.1z"/><path color="#002054" d="M638.3,564.6l3,1.5 1.4,2-3-1.4z"/><path color="#002054" d="M641.3,566.1l3.1,1.6 1.3,1.9-3-1.5z"/><path color="#002054" d="M644.4,567.7l3,1.7 1.4,1.7-3.1-1.5z"/><path color="#002054" d="M647.4,569.4l3,1.7 1.4,1.6-3-1.6z"/><path color="#002054" d="M650.4,571.1l3.1,1.8 1.3,1.5-3-1.7z"/><path color="#002054" d="M653.5,572.9l3,1.9 1.4,1.3-3.1-1.7z"/><path color="#002054" d="M656.5,574.8l2.3,1.6 1.4,1.2-2.3-1.5z"/><path color="#002054" d="M658.8,576.4l2.3,1.6 1.3,1.1-2.2-1.5z"/><path color="#1a87dd" d="M661.1,578l2.2,1.9 1.4,.8-2.3-1.6z"/><path color="#1a87dd" d="M663.3,579.9l2.3,2 1.4,.6-2.3-1.8z"/></g><path d="M532.7,525.4l7.5,2.6 7.7,2.6 7.7,2.8 7.9,2.8 8,2.9 8.1,3 8.2,3.1 8.4,3.2 8.4,3.3 4.3,1.7 4.3,1.8 4.4,1.8 4.3,1.8 4.4,1.9 4.5,1.9 4.4,2 4.5,2.1 3,1.4 3,1.5 3.1,1.5 3,1.6 3,1.7 3.1,1.7 2.3,1.5 2.2,1.5 2.3,1.6 2.3,1.8M538.3,524.8l1.9,3.2M546,527.5l1.9,3.1M553.8,530.3l1.8,3.1M561.7,533.1l1.8,3.1M569.7,536.1l1.8,3M577.9,539.1l1.7,3M586.1,542.3l1.7,2.9M594.5,545.5l1.7,2.9M603.1,549l1.5,2.7M611.7,552.6l1.5,2.6M620.5,556.3l1.4,2.5M629.3,560.3l1.5,2.3M638.3,564.6l1.4,2.1M647.4,569.4l1.4,1.7M656.5,574.8l1.4,1.3" stroke="#2e2a2a" stroke-opacity="0.84" stroke-width="0.9"/><path d="M530.7,522.2l2,3.2M665.6,581.9l1.4,.6" stroke="#1a1a1a" stroke-width="0.8"/><g fill="currentColor" stroke="currentColor" stroke-width=".7"><path color="#002054" d="M528.7,520.3l7.6,2.6 2,1.9-7.6-2.6z"/><path color="#002054" d="M536.3,522.9l7.8,2.7 1.9,1.9-7.7-2.7z"/><path color="#002054" d="M544.1,525.6l7.8,2.8 1.9,1.9-7.8-2.8z"/><path color="#002054" d="M551.9,528.4l7.9,2.8 1.9,1.9-7.9-2.8z"/><path color="#002054" d="M559.8,531.2l8.1,3 1.8,1.9-8-3z"/><path color="#002054" d="M567.9,534.2l8.2,3.1 1.8,1.8-8.2-3z"/><path color="#002054" d="M576.1,537.3l8.3,3.2 1.7,1.8-8.2-3.2z"/><path color="#002054" d="M584.4,540.5l8.5,3.4 1.6,1.6-8.4-3.2z"/><path color="#002054" d="M592.9,543.9l8.5,3.5 1.7,1.6-8.6-3.5z"/><path color="#002054" d="M601.4,547.4l4.3,1.8 1.7,1.5-4.3-1.7z"/><path color="#002054" d="M605.7,549.2l4.4,1.8 1.6,1.6-4.3-1.9z"/><path color="#002054" d="M610.1,551l4.4,1.9 1.6,1.5-4.4-1.8z"/><path color="#002054" d="M614.5,552.9l4.4,2 1.6,1.4-4.4-1.9z"/><path color="#002054" d="M618.9,554.9l4.4,2 1.6,1.4-4.4-2z"/><path color="#002054" d="M623.3,556.9l4.5,2.1 1.5,1.3-4.4-2z"/><path color="#002054" d="M627.8,559l4.5,2.2 1.5,1.2-4.5-2.1z"/><path color="#002054" d="M632.3,561.2l4.5,2.3 1.5,1.1-4.5-2.2z"/><path color="#002054" d="M636.8,563.5l3,1.6 1.5,1-3-1.5z"/><path color="#002054" d="M639.8,565.1l3.1,1.6 1.5,1-3.1-1.6z"/><path color="#002054" d="M642.9,566.7l3,1.7 1.5,1-3-1.7z"/><path color="#002054" d="M645.9,568.4l3.1,1.8 1.4,.9-3-1.7z"/><path color="#1285c8" d="M649,570.2l3,1.9 1.5,.8-3.1-1.8z"/><path color="#1587d0" d="M652,572.1l3.1,2.1 1.4,.6-3-1.9z"/><path color="#1889d9" d="M655.1,574.2l2.3,1.6 1.4,.6-2.3-1.6z"/><path color="#1a8adf" d="M657.4,575.8l2.2,1.8 1.5,.4-2.3-1.6z"/><path color="#1a8adf" d="M659.6,577.6l2.3,2 1.4,.3-2.2-1.9z"/><path color="#1a89de" d="M661.9,579.6l2.3,2.2 1.4,.1-2.3-2z"/></g><path d="M536.3,522.9l2,1.9M544.1,525.6l1.9,1.9M551.9,528.4l1.9,1.9M559.8,531.2l1.9,1.9M567.9,534.2l1.8,1.9M576.1,537.3l1.8,1.8M584.4,540.5l1.7,1.8M592.9,543.9l1.6,1.6M601.4,547.4l1.7,1.6M610.1,551l1.6,1.6M618.9,554.9l1.6,1.4M627.8,559l1.5,1.3M636.8,563.5l1.5,1.1M645.9,568.4l1.5,1M655.1,574.2l1.4,.6" stroke="#2e2a2a" stroke-opacity="0.84" stroke-width="0.9"/><path d="M528.7,520.3l2,1.9M664.2,581.8l1.4,.1" stroke="#1a1a1a" stroke-width="0.8"/><g fill="currentColor" stroke="currentColor" stroke-width=".7"><path color="#002054" d="M526.8,519.1l7.6,2.6 1.9,1.2-7.6-2.6z"/><path color="#002054" d="M534.4,521.7l7.7,2.7 2,1.2-7.8-2.7z"/><path color="#002054" d="M542.1,524.4l7.9,2.8 1.9,1.2-7.8-2.8z"/><path color="#002054" d="M550,527.2l8,2.9 1.8,1.1-7.9-2.8z"/><path color="#002054" d="M558,530.1l8.1,3 1.8,1.1-8.1-3z"/><path color="#002054" d="M566.1,533.1l8.2,3.2 1.8,1-8.2-3.1z"/><path color="#002054" d="M574.3,536.3l8.4,3.2 1.7,1-8.3-3.2z"/><path color="#002054" d="M582.7,539.5l8.4,3.4 1.8,1-8.5-3.4z"/><path color="#002054" d="M591.1,542.9l8.6,3.5 1.7,1-8.5-3.5z"/><path color="#002054" d="M599.7,546.4l4.4,1.9 1.6,.9-4.3-1.8z"/><path color="#002054" d="M604.1,548.3l4.3,1.9 1.7,.8-4.4-1.8z"/><path color="#002054" d="M608.4,550.2l4.4,1.9 1.7,.8-4.4-1.9z"/><path color="#002054" d="M612.8,552.1l4.5,2 1.6,.8-4.4-2z"/><path color="#0882b0" d="M617.3,554.1l4.4,2.1 1.6,.7-4.4-2z"/><path color="#0983b3" d="M621.7,556.2l4.5,2.1 1.6,.7-4.5-2.1z"/><path color="#0a84b7" d="M626.2,558.3l4.5,2.3 1.6,.6-4.5-2.2z"/><path color="#0c85bb" d="M630.7,560.6l4.6,2.3 1.5,.6-4.5-2.3z"/><path color="#0d86bf" d="M635.3,562.9l3,1.6 1.5,.6-3-1.6z"/><path color="#0f87c3" d="M638.3,564.5l3,1.7 1.6,.5-3.1-1.6z"/><path color="#1088c7" d="M641.3,566.2l3.1,1.8 1.5,.4-3-1.7z"/><path color="#1289cd" d="M644.4,568l3.1,1.9 1.5,.3-3.1-1.8z"/><path color="#158bd3" d="M647.5,569.9l3,2 1.5,.2-3-1.9z"/><path color="#188cdc" d="M650.5,571.9l3.1,2.1 1.5,.2-3.1-2.1z"/><path color="#1a8de2" d="M653.6,574l2.3,1.7 1.5,.1-2.3-1.6z"/><path color="#1a8de1" d="M655.9,575.7l2.2,1.9 1.5,0-2.2-1.8z"/><path color="#1a8ce0" d="M658.1,577.6l2.3,2 1.5,0-2.3-2z"/><path color="#1a8adf" d="M660.4,579.6l2.3,2.3 1.5-.1-2.3-2.2z"/></g><path d="M534.4,521.7l1.9,1.2M542.1,524.4l2,1.2M550,527.2l1.9,1.2M558,530.1l1.8,1.1M566.1,533.1l1.8,1.1M574.3,536.3l1.8,1M582.7,539.5l1.7,1M591.1,542.9l1.8,1M599.7,546.4l1.7,1M608.4,550.2l1.7,.8M617.3,554.1l1.6,.8M626.2,558.3l1.6,.7M635.3,562.9l1.5,.6M644.4,568l1.5,.4M653.6,574l1.5,.2" stroke="#2e2a2a" stroke-opacity="0.84" stroke-width="0.9"/><path d="M526.8,519.1l1.9,1.2M662.7,581.9l1.5-.1" stroke="#1a1a1a" stroke-width="0.8"/><g fill="currentColor" stroke="currentColor" stroke-width=".7"><path color="#002054" d="M523.8,518.1l7.6,2.6 3,1-7.6-2.6z"/><path color="#002054" d="M531.4,520.7l7.8,2.7 2.9,1-7.7-2.7z"/><path color="#0180a0" d="M539.2,523.4l7.9,2.8 2.9,1-7.9-2.8z"/><path color="#0281a1" d="M547.1,526.2l8,3 2.9,.9-8-2.9z"/><path color="#0281a3" d="M555.1,529.2l8.2,3 2.8,.9-8.1-3z"/><path color="#0382a4" d="M563.3,532.2l8.2,3.2 2.8,.9-8.2-3.2z"/><path color="#0482a6" d="M571.5,535.4l8.4,3.3 2.8,.8-8.4-3.2z"/><path color="#0583a9" d="M579.9,538.7l8.6,3.4 2.6,.8-8.4-3.4z"/><path color="#0584ab" d="M588.5,542.1l8.6,3.7 2.6,.6-8.6-3.5z"/><path color="#0684ae" d="M597.1,545.8l4.4,1.8 2.6,.7-4.4-1.9z"/><path color="#0785b0" d="M601.5,547.6l4.4,2 2.5,.6-4.3-1.9z"/><path color="#0885b2" d="M605.9,549.6l4.4,2 2.5,.5-4.4-1.9z"/><path color="#0886b4" d="M610.3,551.6l4.4,2 2.6,.5-4.5-2z"/><path color="#0986b7" d="M614.7,553.6l4.5,2.1 2.5,.5-4.4-2.1z"/><path color="#0a87ba" d="M619.2,555.7l4.5,2.3 2.5,.3-4.5-2.1z"/><path color="#0c88bd" d="M623.7,558l4.6,2.3 2.4,.3-4.5-2.3z"/><path color="#0d89c2" d="M628.3,560.3l4.5,2.4 2.5,.2-4.6-2.3z"/><path color="#0f8ac6" d="M632.8,562.7l3.1,1.7 2.4,.1-3-1.6z"/><path color="#108bca" d="M635.9,564.4l3.1,1.7 2.3,.1-3-1.7z"/><path color="#128ccf" d="M639,566.1l3,1.9 2.4,0-3.1-1.8z"/><path color="#148dd5" d="M642,568l3.1,1.9 2.4,0-3.1-1.9z"/><path color="#178edc" d="M645.1,569.9l3.1,2.1 2.3-.1-3-2z"/><path color="#1a90e3" d="M648.2,572l3,2.2 2.4-.2-3.1-2.1z"/><path color="#1a8fe3" d="M651.2,574.2l2.3,1.8 2.4-.3-2.3-1.7z"/><path color="#1a8ee2" d="M653.5,576l2.3,1.9 2.3-.3-2.2-1.9z"/><path color="#1a8de1" d="M655.8,577.9l2.3,2.2 2.3-.5-2.3-2z"/><path color="#1a8bdf" d="M658.1,580.1l2.2,2.4 2.4-.6-2.3-2.3z"/></g><path d="M526.8,519.1l7.6,2.6 7.7,2.7 7.9,2.8 8,2.9 8.1,3 8.2,3.2 8.4,3.2 8.4,3.4 8.6,3.5 4.4,1.9 4.3,1.9 4.4,1.9 4.5,2 4.4,2.1 4.5,2.1 4.5,2.3 4.6,2.3 3,1.6 3,1.7 3.1,1.8 3.1,1.9 3,2 3.1,2.1 2.3,1.7 2.2,1.9 2.3,2 2.3,2.3M531.4,520.7l3,1M539.2,523.4l2.9,1M547.1,526.2l2.9,1M555.1,529.2l2.9,.9M563.3,532.2l2.8,.9M571.5,535.4l2.8,.9M579.9,538.7l2.8,.8M588.5,542.1l2.6,.8M597.1,545.8l2.6,.6M605.9,549.6l2.5,.6M614.7,553.6l2.6,.5M623.7,558l2.5,.3M632.8,562.7l2.5,.2M642,568l2.4,0M651.2,574.2l2.4-.2" stroke="#2e2a2a" stroke-opacity="0.84" stroke-width="0.9"/><path d="M523.8,518.1l3,1M660.3,582.5l2.4-.6" stroke="#1a1a1a" stroke-width="0.8"/><g fill="currentColor" stroke="currentColor" stroke-width=".7"><path color="#0083a0" d="M520.7,517.5l7.7,2.7 3,.5-7.6-2.6z"/><path color="#0183a1" d="M528.4,520.2l7.8,2.7 3,.5-7.8-2.7z"/><path color="#0184a3" d="M536.2,522.9l8,2.8 2.9,.5-7.9-2.8z"/><path color="#0284a4" d="M544.2,525.7l8,3 2.9,.5-8-3z"/><path color="#0384a6" d="M552.2,528.7l8.2,3.1 2.9,.4-8.2-3z"/><path color="#0385a8" d="M560.4,531.8l8.3,3.2 2.8,.4-8.2-3.2z"/><path color="#0485aa" d="M568.7,535l8.5,3.4 2.7,.3-8.4-3.3z"/><path color="#0586ad" d="M577.2,538.4l8.5,3.5 2.8,.2-8.6-3.4z"/><path color="#0687af" d="M585.7,541.9l8.7,3.7 2.7,.2-8.6-3.7z"/><path color="#0787b2" d="M594.4,545.6l4.4,1.9 2.7,.1-4.4-1.8z"/><path color="#0888b4" d="M598.8,547.5l4.4,1.9 2.7,.2-4.4-2z"/><path color="#0888b6" d="M603.2,549.4l4.5,2.1 2.6,.1-4.4-2z"/><path color="#0989b9" d="M607.7,551.5l4.5,2.1 2.5,0-4.4-2z"/><path color="#0a8abb" d="M612.2,553.6l4.5,2.2 2.5-.1-4.5-2.1z"/><path color="#0c8abf" d="M616.7,555.8l4.5,2.2 2.5,0-4.5-2.3z"/><path color="#0d8bc2" d="M621.2,558l4.6,2.4 2.5-.1-4.6-2.3z"/><path color="#0f8cc7" d="M625.8,560.4l4.5,2.5 2.5-.2-4.5-2.4z"/><path color="#108dcc" d="M630.3,562.9l3.1,1.7 2.5-.2-3.1-1.7z"/><path color="#128ed0" d="M633.4,564.6l3.1,1.8 2.5-.3-3.1-1.7z"/><path color="#148fd5" d="M636.5,566.4l3.1,1.9 2.4-.3-3-1.9z"/><path color="#1690db" d="M639.6,568.3l3.1,2 2.4-.4-3.1-1.9z"/><path color="#1991e3" d="M642.7,570.3l3,2.2 2.5-.5-3.1-2.1z"/><path color="#1a91e4" d="M645.7,572.5l3.1,2.3 2.4-.6-3-2.2z"/><path color="#1a90e4" d="M648.8,574.8l2.3,1.8 2.4-.6-2.3-1.8z"/><path color="#1a8fe3" d="M651.1,576.6l2.3,2.1 2.4-.8-2.3-1.9z"/><path color="#1a8de1" d="M653.4,578.7l2.3,2.2 2.4-.8-2.3-2.2z"/><path color="#1a8adf" d="M655.7,580.9l2.3,2.5 2.3-.9-2.2-2.4z"/></g><path d="M528.4,520.2l3,.5M536.2,522.9l3,.5M544.2,525.7l2.9,.5M552.2,528.7l2.9,.5M560.4,531.8l2.9,.4M568.7,535l2.8,.4M577.2,538.4l2.7,.3M585.7,541.9l2.8,.2M594.4,545.6l2.7,.2M603.2,549.4l2.7,.2M612.2,553.6l2.5,0M621.2,558l2.5,0M630.3,562.9l2.5-.2M639.6,568.3l2.4-.3M648.8,574.8l2.4-.6" stroke="#2e2a2a" stroke-opacity="0.84" stroke-width="0.9"/><path d="M520.7,517.5l3.1,.6M658,583.4l2.3-.9" stroke="#1a1a1a" stroke-width="0.8"/><g fill="currentColor" stroke="currentColor" stroke-width=".7"><path color="#0086a2" d="M517.7,517.4l7.7,2.7 3,.1-7.7-2.7z"/><path color="#0186a3" d="M525.4,520.1l7.8,2.8 3,0-7.8-2.7z"/><path color="#0286a5" d="M533.2,522.9l8,2.8 3,0-8-2.8z"/><path color="#0287a7" d="M541.2,525.7l8.1,3 2.9,0-8-3z"/><path color="#0387a9" d="M549.3,528.7l8.2,3.1 2.9,0-8.2-3.1z"/><path color="#0488ab" d="M557.5,531.8l8.4,3.3 2.8-.1-8.3-3.2z"/><path color="#0588ad" d="M565.9,535.1l8.5,3.4 2.8-.1-8.5-3.4z"/><path color="#0689b0" d="M574.4,538.5l8.6,3.6 2.7-.2-8.5-3.5z"/><path color="#0789b3" d="M583,542.1l8.7,3.7 2.7-.2-8.7-3.7z"/><path color="#088ab5" d="M591.7,545.8l4.4,1.9 2.7-.2-4.4-1.9z"/><path color="#088ab7" d="M596.1,547.7l4.4,2 2.7-.3-4.4-1.9z"/><path color="#098bba" d="M600.5,549.7l4.5,2.1 2.7-.3-4.5-2.1z"/><path color="#0a8bbc" d="M605,551.8l4.5,2.2 2.7-.4-4.5-2.1z"/><path color="#0b8cbf" d="M609.5,554l4.5,2.2 2.7-.4-4.5-2.2z"/><path color="#0c8dc2" d="M614,556.2l4.6,2.3 2.6-.5-4.5-2.2z"/><path color="#0e8dc6" d="M618.6,558.5l4.6,2.4 2.6-.5-4.6-2.4z"/><path color="#108ecb" d="M623.2,560.9l4.6,2.5 2.5-.5-4.5-2.5z"/><path color="#128fd0" d="M627.8,563.4l3.1,1.8 2.5-.6-3.1-1.7z"/><path color="#1390d4" d="M630.9,565.2l3.1,1.9 2.5-.7-3.1-1.8z"/><path color="#1591da" d="M634,567.1l3.1,1.9 2.5-.7-3.1-1.9z"/><path color="#1892e0" d="M637.1,569l3.1,2 2.5-.7-3.1-2z"/><path color="#1a92e6" d="M640.2,571l3.1,2.2 2.4-.7-3-2.2z"/><path color="#1a91e5" d="M643.3,573.2l3.1,2.4 2.4-.8-3.1-2.3z"/><path color="#1a90e4" d="M646.4,575.6l2.3,1.9 2.4-.9-2.3-1.8z"/><path color="#1a8fe3" d="M648.7,577.5l2.3,2.1 2.4-.9-2.3-2.1z"/><path color="#1a8de1" d="M651,579.6l2.3,2.3 2.4-1-2.3-2.2z"/><path color="#1a8adf" d="M653.3,581.9l2.3,2.6 2.4-1.1-2.3-2.5z"/></g><path d="M520.7,517.5l7.7,2.7 7.8,2.7 8,2.8 8,3 8.2,3.1 8.3,3.2 8.5,3.4 8.5,3.5 8.7,3.7 4.4,1.9 4.4,1.9 4.5,2.1 4.5,2.1 4.5,2.2 4.5,2.2 4.6,2.4 4.5,2.5 3.1,1.7 3.1,1.8 3.1,1.9 3.1,2 3,2.2 3.1,2.3 2.3,1.8 2.3,2.1 2.3,2.2 2.3,2.5M525.4,520.1l3,.1M533.2,522.9l3,0M541.2,525.7l3,0M549.3,528.7l2.9,0M557.5,531.8l2.9,0M565.9,535.1l2.8-.1M574.4,538.5l2.8-.1M583,542.1l2.7-.2M591.7,545.8l2.7-.2M600.5,549.7l2.7-.3M609.5,554l2.7-.4M618.6,558.5l2.6-.5M627.8,563.4l2.5-.5M637.1,569l2.5-.7M646.4,575.6l2.4-.8" stroke="#2e2a2a" stroke-opacity="0.84" stroke-width="0.9"/><path d="M517.7,517.4l3,.1M655.6,584.5l2.4-1.1" stroke="#1a1a1a" stroke-width="0.8"/><g fill="currentColor" stroke="currentColor" stroke-width=".7"><path color="#0087a3" d="M514.6,517.7l7.7,2.7 3.1-.3-7.7-2.7z"/><path color="#0188a5" d="M522.3,520.4l7.9,2.8 3-.3-7.8-2.8z"/><path color="#0288a7" d="M530.2,523.2l8,2.9 3-.4-8-2.8z"/><path color="#0289a8" d="M538.2,526.1l8.1,3 3-.4-8.1-3z"/><path color="#0389aa" d="M546.3,529.1l8.3,3.1 2.9-.4-8.2-3.1z"/><path color="#0489ad" d="M554.6,532.2l8.4,3.3 2.9-.4-8.4-3.3z"/><path color="#058aaf" d="M563,535.5l8.5,3.5 2.9-.5-8.5-3.4z"/><path color="#068ab2" d="M571.5,539l8.6,3.6 2.9-.5-8.6-3.6z"/><path color="#078bb5" d="M580.1,542.6l8.8,3.8 2.8-.6-8.7-3.7z"/><path color="#088cb8" d="M588.9,546.4l4.4,1.9 2.8-.6-4.4-1.9z"/><path color="#098cba" d="M593.3,548.3l4.5,2.1 2.7-.7-4.4-2z"/><path color="#0a8cbc" d="M597.8,550.4l4.5,2.1 2.7-.7-4.5-2.1z"/><path color="#0b8dbf" d="M602.3,552.5l4.5,2.1 2.7-.6-4.5-2.2z"/><path color="#0c8ec2" d="M606.8,554.6l4.6,2.3 2.6-.7-4.5-2.2z"/><path color="#0d8ec5" d="M611.4,556.9l4.5,2.3 2.7-.7-4.6-2.3z"/><path color="#0f8fc9" d="M615.9,559.2l4.6,2.5 2.7-.8-4.6-2.4z"/><path color="#1090ce" d="M620.5,561.7l4.7,2.6 2.6-.9-4.6-2.5z"/><path color="#1290d3" d="M625.2,564.3l3.1,1.8 2.6-.9-3.1-1.8z"/><path color="#1491d8" d="M628.3,566.1l3.1,1.9 2.6-.9-3.1-1.9z"/><path color="#1692dd" d="M631.4,568l3.1,1.9 2.6-.9-3.1-1.9z"/><path color="#1993e3" d="M634.5,569.9l3.1,2.1 2.6-1-3.1-2z"/><path color="#1a93e6" d="M637.6,572l3.1,2.3 2.6-1.1-3.1-2.2z"/><path color="#1a92e5" d="M640.7,574.3l3.2,2.4 2.5-1.1-3.1-2.4z"/><path color="#1a91e4" d="M643.9,576.7l2.3,1.9 2.5-1.1-2.3-1.9z"/><path color="#1a8fe3" d="M646.2,578.6l2.3,2.2 2.5-1.2-2.3-2.1z"/><path color="#1a8de1" d="M648.5,580.8l2.3,2.3 2.5-1.2-2.3-2.3z"/><path color="#1a8adf" d="M650.8,583.1l2.3,2.7 2.5-1.3-2.3-2.6z"/></g><path d="M522.3,520.4l3.1-.3M530.2,523.2l3-.3M538.2,526.1l3-.4M546.3,529.1l3-.4M554.6,532.2l2.9-.4M563,535.5l2.9-.4M571.5,539l2.9-.5M580.1,542.6l2.9-.5M588.9,546.4l2.8-.6M597.8,550.4l2.7-.7M606.8,554.6l2.7-.6M615.9,559.2l2.7-.7M625.2,564.3l2.6-.9M634.5,569.9l2.6-.9M643.9,576.7l2.5-1.1" stroke="#2e2a2a" stroke-opacity="0.84" stroke-width="0.9"/><path d="M514.6,517.7l3.1-.3M653.1,585.8l2.5-1.3" stroke="#1a1a1a" stroke-width="0.8"/><g fill="currentColor" stroke="currentColor" stroke-width=".7"><path color="#0088a4" d="M511.4,518.2l7.8,2.7 3.1-.5-7.7-2.7z"/><path color="#0189a6" d="M519.2,520.9l7.9,2.8 3.1-.5-7.9-2.8z"/><path color="#0289a7" d="M527.1,523.7l8.1,2.9 3-.5-8-2.9z"/><path color="#0289a9" d="M535.2,526.6l8.1,3 3-.5-8.1-3z"/><path color="#038aab" d="M543.3,529.6l8.3,3.2 3-.6-8.3-3.1z"/><path color="#048aae" d="M551.6,532.8l8.4,3.4 3-.7-8.4-3.3z"/><path color="#058bb0" d="M560,536.2l8.6,3.4 2.9-.6-8.5-3.5z"/><path color="#068bb3" d="M568.6,539.6l8.7,3.7 2.8-.7-8.6-3.6z"/><path color="#078cb6" d="M577.3,543.3l8.8,3.8 2.8-.7-8.8-3.8z"/><path color="#088cb9" d="M586.1,547.1l4.4,2 2.8-.8-4.4-1.9z"/><path color="#098dbb" d="M590.5,549.1l4.5,2.1 2.8-.8-4.5-2.1z"/><path color="#0a8dbd" d="M595,551.2l4.5,2.1 2.8-.8-4.5-2.1z"/><path color="#0b8ec0" d="M599.5,553.3l4.6,2.2 2.7-.9-4.5-2.1z"/><path color="#0c8ec3" d="M604.1,555.5l4.5,2.3 2.8-.9-4.6-2.3z"/><path color="#0e8fc7" d="M608.6,557.8l4.6,2.4 2.7-1-4.5-2.3z"/><path color="#0f90cb" d="M613.2,560.2l4.7,2.5 2.6-1-4.6-2.5z"/><path color="#1191d0" d="M617.9,562.7l4.6,2.6 2.7-1-4.7-2.6z"/><path color="#1391d5" d="M622.5,565.3l3.1,1.9 2.7-1.1-3.1-1.8z"/><path color="#1592da" d="M625.6,567.2l3.2,1.9 2.6-1.1-3.1-1.9z"/><path color="#1793df" d="M628.8,569.1l3.1,2 2.6-1.2-3.1-1.9z"/><path color="#1a94e6" d="M631.9,571.1l3.1,2.1 2.6-1.2-3.1-2.1z"/><path color="#1a93e6" d="M635,573.2l3.1,2.3 2.6-1.2-3.1-2.3z"/><path color="#1a92e6" d="M638.1,575.5l3.2,2.5 2.6-1.3-3.2-2.4z"/><path color="#1a91e5" d="M641.3,578l2.3,2 2.6-1.4-2.3-1.9z"/><path color="#1a8fe3" d="M643.6,580l2.3,2.2 2.6-1.4-2.3-2.2z"/><path color="#1a8de1" d="M645.9,582.2l2.4,2.4 2.5-1.5-2.3-2.3z"/><path color="#1a8adf" d="M648.3,584.6l2.2,2.7 2.6-1.5-2.3-2.7z"/></g><path d="M514.6,517.7l7.7,2.7 7.9,2.8 8,2.9 8.1,3 8.3,3.1 8.4,3.3 8.5,3.5 8.6,3.6 8.8,3.8 4.4,1.9 4.5,2.1 4.5,2.1 4.5,2.1 4.6,2.3 4.5,2.3 4.6,2.5 4.7,2.6 3.1,1.8 3.1,1.9 3.1,1.9 3.1,2.1 3.1,2.3 3.2,2.4 2.3,1.9 2.3,2.2 2.3,2.3 2.3,2.7M519.2,520.9l3.1-.5M527.1,523.7l3.1-.5M535.2,526.6l3-.5M543.3,529.6l3-.5M551.6,532.8l3-.6M560,536.2l3-.7M568.6,539.6l2.9-.6M577.3,543.3l2.8-.7M586.1,547.1l2.8-.7M595,551.2l2.8-.8M604.1,555.5l2.7-.9M613.2,560.2l2.7-1M622.5,565.3l2.7-1M631.9,571.1l2.6-1.2M641.3,578l2.6-1.3" stroke="#2e2a2a" stroke-opacity="0.84" stroke-width="0.9"/><path d="M511.4,518.2l3.2-.5M650.5,587.3l2.6-1.5" stroke="#1a1a1a" stroke-width="0.8"/><g fill="currentColor" stroke="currentColor" stroke-width=".7"><path color="#0089a4" d="M508.3,518.8l7.8,2.7 3.1-.6-7.8-2.7z"/><path color="#0189a6" d="M516.1,521.5l7.9,2.8 3.1-.6-7.9-2.8z"/><path color="#028aa8" d="M524,524.3l8.1,3 3.1-.7-8.1-2.9z"/><path color="#038aaa" d="M532.1,527.3l8.2,3.1 3-.8-8.1-3z"/><path color="#038aac" d="M540.3,530.4l8.3,3.2 3-.8-8.3-3.2z"/><path color="#048bae" d="M548.6,533.6l8.5,3.3 2.9-.7-8.4-3.4z"/><path color="#058bb1" d="M557.1,536.9l8.5,3.6 3-.9-8.6-3.4z"/><path color="#068cb4" d="M565.6,540.5l8.8,3.7 2.9-.9-8.7-3.7z"/><path color="#078db7" d="M574.4,544.2l8.8,3.9 2.9-1-8.8-3.8z"/><path color="#098dba" d="M583.2,548.1l4.5,2 2.8-1-4.4-2z"/><path color="#098ebc" d="M587.7,550.1l4.5,2.1 2.8-1-4.5-2.1z"/><path color="#0a8ebf" d="M592.2,552.2l4.5,2.1 2.8-1-4.5-2.1z"/><path color="#0b8fc1" d="M596.7,554.3l4.6,2.3 2.8-1.1-4.6-2.2z"/><path color="#0d8fc5" d="M601.3,556.6l4.6,2.3 2.7-1.1-4.5-2.3z"/><path color="#0e90c8" d="M605.9,558.9l4.6,2.4 2.7-1.1-4.6-2.4z"/><path color="#1090cd" d="M610.5,561.3l4.6,2.6 2.8-1.2-4.7-2.5z"/><path color="#1291d2" d="M615.1,563.9l4.7,2.6 2.7-1.2-4.6-2.6z"/><path color="#1492d7" d="M619.8,566.5l3.1,1.9 2.7-1.2-3.1-1.9z"/><path color="#1593dc" d="M622.9,568.4l3.2,2 2.7-1.3-3.2-1.9z"/><path color="#1894e1" d="M626.1,570.4l3.1,2 2.7-1.3-3.1-2z"/><path color="#1a94e7" d="M629.2,572.4l3.2,2.2 2.6-1.4-3.1-2.1z"/><path color="#1a94e7" d="M632.4,574.6l3.1,2.3 2.6-1.4-3.1-2.3z"/><path color="#1a92e6" d="M635.5,576.9l3.2,2.5 2.6-1.4-3.2-2.5z"/><path color="#1a91e5" d="M638.7,579.4l2.3,2.1 2.6-1.5-2.3-2z"/><path color="#1a8fe3" d="M641,581.5l2.4,2.2 2.5-1.5-2.3-2.2z"/><path color="#1a8de1" d="M643.4,583.7l2.3,2.5 2.6-1.6-2.4-2.4z"/><path color="#1a89de" d="M645.7,586.2l2.3,2.8 2.5-1.7-2.2-2.7z"/></g><path d="M516.1,521.5l3.1-.6M524,524.3l3.1-.6M532.1,527.3l3.1-.7M540.3,530.4l3-.8M548.6,533.6l3-.8M557.1,536.9l2.9-.7M565.6,540.5l3-.9M574.4,544.2l2.9-.9M583.2,548.1l2.9-1M592.2,552.2l2.8-1M601.3,556.6l2.8-1.1M610.5,561.3l2.7-1.1M619.8,566.5l2.7-1.2M629.2,572.4l2.7-1.3M638.7,579.4l2.6-1.4" stroke="#2e2a2a" stroke-opacity="0.84" stroke-width="0.9"/><path d="M508.3,518.8l3.1-.6M648,589l2.5-1.7" stroke="#1a1a1a" stroke-width="0.8"/><g fill="currentColor" stroke="currentColor" stroke-width=".7"><path color="#0089a5" d="M505.1,519.5l7.8,2.7 3.2-.7-7.8-2.7z"/><path color="#018aa7" d="M512.9,522.2l8,2.9 3.1-.8-7.9-2.8z"/><path color="#028aa9" d="M520.9,525.1l8.1,3 3.1-.8-8.1-3z"/><path color="#038aab" d="M529,528.1l8.2,3.1 3.1-.8-8.2-3.1z"/><path color="#038bad" d="M537.2,531.2l8.3,3.3 3.1-.9-8.3-3.2z"/><path color="#048baf" d="M545.5,534.5l8.5,3.4 3.1-1-8.5-3.3z"/><path color="#058cb2" d="M554,537.9l8.6,3.5 3-.9-8.5-3.6z"/><path color="#068cb5" d="M562.6,541.4l8.8,3.8 3-1-8.8-3.7z"/><path color="#088db8" d="M571.4,545.2l8.9,3.9 2.9-1-8.8-3.9z"/><path color="#098ebb" d="M580.3,549.1l4.5,2.1 2.9-1.1-4.5-2z"/><path color="#0a8ebd" d="M584.8,551.2l4.5,2.1 2.9-1.1-4.5-2.1z"/><path color="#0b8fc0" d="M589.3,553.3l4.5,2.2 2.9-1.2-4.5-2.1z"/><path color="#0c8fc3" d="M593.8,555.5l4.6,2.3 2.9-1.2-4.6-2.3z"/><path color="#0d90c6" d="M598.4,557.8l4.6,2.3 2.9-1.2-4.6-2.3z"/><path color="#0e90ca" d="M603,560.1l4.7,2.5 2.8-1.3-4.6-2.4z"/><path color="#1091ce" d="M607.7,562.6l4.7,2.6 2.7-1.3-4.6-2.6z"/><path color="#1292d3" d="M612.4,565.2l4.7,2.7 2.7-1.4-4.7-2.6z"/><path color="#1493d8" d="M617.1,567.9l3.1,1.9 2.7-1.4-3.1-1.9z"/><path color="#1693dd" d="M620.2,569.8l3.2,2 2.7-1.4-3.2-2z"/><path color="#1894e3" d="M623.4,571.8l3.1,2.1 2.7-1.5-3.1-2z"/><path color="#1a94e7" d="M626.5,573.9l3.2,2.2 2.7-1.5-3.2-2.2z"/><path color="#1a94e7" d="M629.7,576.1l3.1,2.3 2.7-1.5-3.1-2.3z"/><path color="#1a92e6" d="M632.8,578.4l3.2,2.6 2.7-1.6-3.2-2.5z"/><path color="#1a91e5" d="M636,581l2.4,2.1 2.6-1.6-2.3-2.1z"/><path color="#1a8fe3" d="M638.4,583.1l2.3,2.3 2.7-1.7-2.4-2.2z"/><path color="#1a8de1" d="M640.7,585.4l2.3,2.5 2.7-1.7-2.3-2.5z"/><path color="#1a89de" d="M643,587.9l2.4,2.8 2.6-1.7-2.3-2.8z"/></g><path d="M508.3,518.8l7.8,2.7 7.9,2.8 8.1,3 8.2,3.1 8.3,3.2 8.5,3.3 8.5,3.6 8.8,3.7 8.8,3.9 4.5,2 4.5,2.1 4.5,2.1 4.6,2.3 4.6,2.3 4.6,2.4 4.6,2.6 4.7,2.6 3.1,1.9 3.2,2 3.1,2 3.2,2.2 3.1,2.3 3.2,2.5 2.3,2.1 2.4,2.2 2.3,2.5 2.3,2.8M512.9,522.2l3.2-.7M520.9,525.1l3.1-.8M529,528.1l3.1-.8M537.2,531.2l3.1-.8M545.5,534.5l3.1-.9M554,537.9l3.1-1M562.6,541.4l3-.9M571.4,545.2l3-1M580.3,549.1l2.9-1M589.3,553.3l2.9-1.1M598.4,557.8l2.9-1.2M607.7,562.6l2.8-1.3M617.1,567.9l2.7-1.4M626.5,573.9l2.7-1.5M636,581l2.7-1.6" stroke="#2e2a2a" stroke-opacity="0.84" stroke-width="0.9"/><path d="M505.1,519.5l3.2-.7M645.4,590.7l2.6-1.7" stroke="#1a1a1a" stroke-width="0.8"/><g fill="currentColor" stroke="currentColor" stroke-width=".7"><path color="#008aa5" d="M501.8,520.4l7.9,2.7 3.2-.9-7.8-2.7z"/><path color="#018aa7" d="M509.7,523.1l8,2.9 3.2-.9-8-2.9z"/><path color="#028aa9" d="M517.7,526l8.1,3 3.2-.9-8.1-3z"/><path color="#038bab" d="M525.8,529l8.3,3.2 3.1-1-8.2-3.1z"/><path color="#048bad" d="M534.1,532.2l8.4,3.3 3-1-8.3-3.3z"/><path color="#048cb0" d="M542.5,535.5l8.5,3.4 3-1-8.5-3.4z"/><path color="#058cb2" d="M551,538.9l8.6,3.6 3-1.1-8.6-3.5z"/><path color="#078db5" d="M559.6,542.5l8.8,3.8 3-1.1-8.8-3.8z"/><path color="#088eb9" d="M568.4,546.3l8.9,4 3-1.2-8.9-3.9z"/><path color="#098ebc" d="M577.3,550.3l4.5,2.1 3-1.2-4.5-2.1z"/><path color="#0a8ebe" d="M581.8,552.4l4.6,2.2 2.9-1.3-4.5-2.1z"/><path color="#0b8fc1" d="M586.4,554.6l4.5,2.2 2.9-1.3-4.5-2.2z"/><path color="#0c8fc4" d="M590.9,556.8l4.6,2.3 2.9-1.3-4.6-2.3z"/><path color="#0d90c7" d="M595.5,559.1l4.7,2.4 2.8-1.4-4.6-2.3z"/><path color="#0f91cb" d="M600.2,561.5l4.6,2.5 2.9-1.4-4.7-2.5z"/><path color="#1091cf" d="M604.8,564l4.7,2.6 2.9-1.4-4.7-2.6z"/><path color="#1292d4" d="M609.5,566.6l4.8,2.8 2.8-1.5-4.7-2.7z"/><path color="#1493da" d="M614.3,569.4l3.1,1.9 2.8-1.5-3.1-1.9z"/><path color="#1694df" d="M617.4,571.3l3.2,2 2.8-1.5-3.2-2z"/><path color="#1994e5" d="M620.6,573.3l3.2,2.1 2.7-1.5-3.1-2.1z"/><path color="#1a95e7" d="M623.8,575.4l3.1,2.3 2.8-1.6-3.2-2.2z"/><path color="#1a94e7" d="M626.9,577.7l3.2,2.4 2.7-1.7-3.1-2.3z"/><path color="#1a92e6" d="M630.1,580.1l3.2,2.6 2.7-1.7-3.2-2.6z"/><path color="#1a91e5" d="M633.3,582.7l2.4,2.1 2.7-1.7-2.4-2.1z"/><path color="#1a8fe3" d="M635.7,584.8l2.3,2.3 2.7-1.7-2.3-2.3z"/><path color="#1a8ce1" d="M638,587.1l2.4,2.6 2.6-1.8-2.3-2.5z"/><path color="#1a89de" d="M640.4,589.7l2.3,2.9 2.7-1.9-2.4-2.8z"/></g><path d="M509.7,523.1l3.2-.9M517.7,526l3.2-.9M525.8,529l3.2-.9M534.1,532.2l3.1-1M542.5,535.5l3-1M551,538.9l3-1M559.6,542.5l3-1.1M568.4,546.3l3-1.1M577.3,550.3l3-1.2M586.4,554.6l2.9-1.3M595.5,559.1l2.9-1.3M604.8,564l2.9-1.4M614.3,569.4l2.8-1.5M623.8,575.4l2.7-1.5M633.3,582.7l2.7-1.7" stroke="#2e2a2a" stroke-opacity="0.84" stroke-width="0.9"/><path d="M501.8,520.4l3.3-.9M642.7,592.6l2.7-1.9" stroke="#1a1a1a" stroke-width="0.8"/><g fill="currentColor" stroke="currentColor" stroke-width=".7"><path color="#018aa5" d="M495.3,522.3l7.9,2.8 6.5-2-7.9-2.7z"/><path color="#018aa7" d="M503.2,525.1l8,3 6.5-2.1-8-2.9z"/><path color="#028ba9" d="M511.2,528.1l8.2,3.1 6.4-2.2-8.1-3z"/><path color="#038bac" d="M519.4,531.2l8.3,3.2 6.4-2.2-8.3-3.2z"/><path color="#048cae" d="M527.7,534.4l8.4,3.4 6.4-2.3-8.4-3.3z"/><path color="#058cb0" d="M536.1,537.8l8.6,3.5 6.3-2.4-8.5-3.4z"/><path color="#068db3" d="M544.7,541.3l8.7,3.7 6.2-2.5-8.6-3.6z"/><path color="#078db6" d="M553.4,545l8.9,3.9 6.1-2.6-8.8-3.8z"/><path color="#088eba" d="M562.3,548.9l9,4.1 6-2.7-8.9-4z"/><path color="#098fbd" d="M571.3,553l4.5,2.1 6-2.7-4.5-2.1z"/><path color="#0a8fbf" d="M575.8,555.1l4.6,2.2 6-2.7-4.6-2.2z"/><path color="#0b8fc2" d="M580.4,557.3l4.6,2.3 5.9-2.8-4.5-2.2z"/><path color="#0c90c5" d="M585,559.6l4.7,2.4 5.8-2.9-4.6-2.3z"/><path color="#0e91c8" d="M589.7,562l4.6,2.5 5.9-3-4.7-2.4z"/><path color="#0f91cc" d="M594.3,564.5l4.7,2.6 5.8-3.1-4.6-2.5z"/><path color="#1192d1" d="M599,567.1l4.8,2.7 5.7-3.2-4.7-2.6z"/><path color="#1393d6" d="M603.8,569.8l4.7,2.8 5.8-3.2-4.8-2.8z"/><path color="#1594dc" d="M608.5,572.6l3.2,2 5.7-3.3-3.1-1.9z"/><path color="#1794e1" d="M611.7,574.6l3.2,2.1 5.7-3.4-3.2-2z"/><path color="#1a95e7" d="M614.9,576.7l3.2,2.2 5.7-3.5-3.2-2.1z"/><path color="#1a95e7" d="M618.1,578.9l3.2,2.3 5.6-3.5-3.1-2.3z"/><path color="#1a94e7" d="M621.3,581.2l3.2,2.5 5.6-3.6-3.2-2.4z"/><path color="#1a92e6" d="M624.5,583.7l3.2,2.7 5.6-3.7-3.2-2.6z"/><path color="#1a91e4" d="M627.7,586.4l2.4,2.2 5.6-3.8-2.4-2.1z"/><path color="#1a8fe3" d="M630.1,588.6l2.4,2.5 5.5-4-2.3-2.3z"/><path color="#1a8ce1" d="M632.5,591.1l2.4,2.6 5.5-4-2.4-2.6z"/><path color="#1a88de" d="M634.9,593.7l2.3,3.1 5.5-4.2-2.3-2.9z"/></g><path d="M501.8,520.4l7.9,2.7 8,2.9 8.1,3 8.3,3.2 8.4,3.3 8.5,3.4 8.6,3.6 8.8,3.8 8.9,4 4.5,2.1 4.6,2.2 4.5,2.2 4.6,2.3 4.7,2.4 4.6,2.5 4.7,2.6 4.8,2.8 3.1,1.9 3.2,2 3.2,2.1 3.1,2.3 3.2,2.4 3.2,2.6 2.4,2.1 2.3,2.3 2.4,2.6 2.3,2.9M503.2,525.1l6.5-2M511.2,528.1l6.5-2.1M519.4,531.2l6.4-2.2M527.7,534.4l6.4-2.2M536.1,537.8l6.4-2.3M544.7,541.3l6.3-2.4M553.4,545l6.2-2.5M562.3,548.9l6.1-2.6M571.3,553l6-2.7M580.4,557.3l6-2.7M589.7,562l5.8-2.9M599,567.1l5.8-3.1M608.5,572.6l5.8-3.2M618.1,578.9l5.7-3.5M627.7,586.4l5.6-3.7" stroke="#2e2a2a" stroke-opacity="0.84" stroke-width="0.9"/><path d="M495.3,522.3l6.5-1.9M637.2,596.8l5.5-4.2" stroke="#1a1a1a" stroke-width="0.8"/><g fill="currentColor" stroke="currentColor" stroke-width=".7"><path color="#018aa6" d="M488.5,524.6l8,2.8 6.7-2.3-7.9-2.8z"/><path color="#018ba8" d="M496.5,527.4l8.1,3.1 6.6-2.4-8-3z"/><path color="#028baa" d="M504.6,530.5l8.2,3.1 6.6-2.4-8.2-3.1z"/><path color="#038cac" d="M512.8,533.6l8.4,3.3 6.5-2.5-8.3-3.2z"/><path color="#048cae" d="M521.2,536.9l8.5,3.4 6.4-2.5-8.4-3.4z"/><path color="#058db1" d="M529.7,540.3l8.6,3.7 6.4-2.7-8.6-3.5z"/><path color="#068db4" d="M538.3,544l8.8,3.8 6.3-2.8-8.7-3.7z"/><path color="#078eb7" d="M547.1,547.8l8.9,4 6.3-2.9-8.9-3.9z"/><path color="#088ebb" d="M556,551.8l9.1,4.2 6.2-3-9-4.1z"/><path color="#0a8fbe" d="M565.1,556l4.5,2.2 6.2-3.1-4.5-2.1z"/><path color="#0b8fc1" d="M569.6,558.2l4.7,2.3 6.1-3.2-4.6-2.2z"/><path color="#0c90c3" d="M574.3,560.5l4.6,2.3 6.1-3.2-4.6-2.3z"/><path color="#0d90c6" d="M578.9,562.8l4.7,2.5 6.1-3.3-4.7-2.4z"/><path color="#0e91ca" d="M583.6,565.3l4.7,2.5 6-3.3-4.6-2.5z"/><path color="#1092ce" d="M588.3,567.8l4.8,2.7 5.9-3.4-4.7-2.6z"/><path color="#1292d3" d="M593.1,570.5l4.7,2.8 6-3.5-4.8-2.7z"/><path color="#1493d8" d="M597.8,573.3l4.8,2.9 5.9-3.6-4.7-2.8z"/><path color="#1694de" d="M602.6,576.2l3.3,2.1 5.8-3.7-3.2-2z"/><path color="#1895e3" d="M605.9,578.3l3.2,2.1 5.8-3.7-3.2-2.1z"/><path color="#1a95e8" d="M609.1,580.4l3.2,2.3 5.8-3.8-3.2-2.2z"/><path color="#1a94e7" d="M612.3,582.7l3.2,2.4 5.8-3.9-3.2-2.3z"/><path color="#1a93e7" d="M615.5,585.1l3.3,2.6 5.7-4-3.2-2.5z"/><path color="#1a92e5" d="M618.8,587.7l3.2,2.8 5.7-4.1-3.2-2.7z"/><path color="#1a90e4" d="M622,590.5l2.4,2.3 5.7-4.2-2.4-2.2z"/><path color="#1a8ee2" d="M624.4,592.8l2.4,2.5 5.7-4.2-2.4-2.5z"/><path color="#1a8be0" d="M626.8,595.3l2.4,2.8 5.7-4.4-2.4-2.6z"/><path color="#1a87dd" d="M629.2,598.1l2.4,3.2 5.6-4.5-2.3-3.1z"/></g><path d="M495.3,522.3l7.9,2.8 8,3 8.2,3.1 8.3,3.2 8.4,3.4 8.6,3.5 8.7,3.7 8.9,3.9 9,4.1 4.5,2.1 4.6,2.2 4.6,2.3 4.7,2.4 4.6,2.5 4.7,2.6 4.8,2.7 4.7,2.8 3.2,2 3.2,2.1 3.2,2.2 3.2,2.3 3.2,2.5 3.2,2.7 2.4,2.2 2.4,2.5 2.4,2.6 2.3,3.1M496.5,527.4l6.7-2.3M504.6,530.5l6.6-2.4M512.8,533.6l6.6-2.4M521.2,536.9l6.5-2.5M529.7,540.3l6.4-2.5M538.3,544l6.4-2.7M547.1,547.8l6.3-2.8M556,551.8l6.3-2.9M565.1,556l6.2-3M574.3,560.5l6.1-3.2M583.6,565.3l6.1-3.3M593.1,570.5l5.9-3.4M602.6,576.2l5.9-3.6M612.3,582.7l5.8-3.8M622,590.5l5.7-4.1" stroke="#2e2a2a" stroke-opacity="0.84" stroke-width="0.9"/><path d="M488.5,524.6l6.8-2.3M631.6,601.3l5.6-4.5" stroke="#1a1a1a" stroke-width="0.8"/><g fill="currentColor" stroke="currentColor" stroke-width=".7"><path color="#018ba6" d="M481.6,527.1l8,2.9 6.9-2.6-8-2.8z"/><path color="#018ba8" d="M489.6,530l8.2,3.1 6.8-2.6-8.1-3.1z"/><path color="#028baa" d="M497.8,533.1l8.3,3.2 6.7-2.7-8.2-3.1z"/><path color="#038cad" d="M506.1,536.3l8.4,3.4 6.7-2.8-8.4-3.3z"/><path color="#048caf" d="M514.5,539.7l8.5,3.5 6.7-2.9-8.5-3.4z"/><path color="#058db2" d="M523,543.2l8.7,3.7 6.6-2.9-8.6-3.7z"/><path color="#068db5" d="M531.7,546.9l8.9,3.9 6.5-3-8.8-3.8z"/><path color="#078eb8" d="M540.6,550.8l9,4.1 6.4-3.1-8.9-4z"/><path color="#098fbc" d="M549.6,554.9l9.1,4.4 6.4-3.3-9.1-4.2z"/><path color="#0a8fbf" d="M558.7,559.3l4.6,2.2 6.3-3.3-4.5-2.2z"/><path color="#0b90c2" d="M563.3,561.5l4.7,2.4 6.3-3.4-4.7-2.3z"/><path color="#0c90c5" d="M568,563.9l4.6,2.4 6.3-3.5-4.6-2.3z"/><path color="#0d91c8" d="M572.6,566.3l4.8,2.5 6.2-3.5-4.7-2.5z"/><path color="#0f91cc" d="M577.4,568.8l4.7,2.6 6.2-3.6-4.7-2.5z"/><path color="#1092d0" d="M582.1,571.4l4.8,2.8 6.2-3.7-4.8-2.7z"/><path color="#1293d5" d="M586.9,574.2l4.8,2.8 6.1-3.7-4.7-2.8z"/><path color="#1594da" d="M591.7,577l4.9,3.1 6-3.9-4.8-2.9z"/><path color="#1794e0" d="M596.6,580.1l3.2,2.1 6.1-3.9-3.3-2.1z"/><path color="#1995e6" d="M599.8,582.2l3.3,2.2 6-4-3.2-2.1z"/><path color="#1a95e8" d="M603.1,584.4l3.2,2.4 6-4.1-3.2-2.3z"/><path color="#1a94e7" d="M606.3,586.8l3.3,2.5 5.9-4.2-3.2-2.4z"/><path color="#1a93e6" d="M609.6,589.3l3.3,2.7 5.9-4.3-3.3-2.6z"/><path color="#1a92e5" d="M612.9,592l3.2,2.9 5.9-4.4-3.2-2.8z"/><path color="#1a90e4" d="M616.1,594.9l2.5,2.4 5.8-4.5-2.4-2.3z"/><path color="#1a8ee2" d="M618.6,597.3l2.4,2.5 5.8-4.5-2.4-2.5z"/><path color="#1a8be0" d="M621,599.8l2.4,2.9 5.8-4.6-2.4-2.8z"/><path color="#1a86dc" d="M623.4,602.7l2.4,3.3 5.8-4.7-2.4-3.2z"/></g><path d="M488.5,524.6l8,2.8 8.1,3.1 8.2,3.1 8.4,3.3 8.5,3.4 8.6,3.7 8.8,3.8 8.9,4 9.1,4.2 4.5,2.2 4.7,2.3 4.6,2.3 4.7,2.5 4.7,2.5 4.8,2.7 4.7,2.8 4.8,2.9 3.3,2.1 3.2,2.1 3.2,2.3 3.2,2.4 3.3,2.6 3.2,2.8 2.4,2.3 2.4,2.5 2.4,2.8 2.4,3.2M489.6,530l6.9-2.6M497.8,533.1l6.8-2.6M506.1,536.3l6.7-2.7M514.5,539.7l6.7-2.8M523,543.2l6.7-2.9M531.7,546.9l6.6-2.9M540.6,550.8l6.5-3M549.6,554.9l6.4-3.1M558.7,559.3l6.4-3.3M568,563.9l6.3-3.4M577.4,568.8l6.2-3.5M586.9,574.2l6.2-3.7M596.6,580.1l6-3.9M606.3,586.8l6-4.1M616.1,594.9l5.9-4.4" stroke="#2e2a2a" stroke-opacity="0.84" stroke-width="0.9"/><path d="M481.6,527.1l6.9-2.5M625.8,606l5.8-4.7" stroke="#1a1a1a" stroke-width="0.8"/><g fill="currentColor" stroke="currentColor" stroke-width=".7"><path color="#018ba6" d="M474.6,529.9l8,3 7-2.9-8-2.9z"/><path color="#018ba8" d="M482.6,532.9l8.2,3.1 7-2.9-8.2-3.1z"/><path color="#028cab" d="M490.8,536l8.3,3.3 7-3-8.3-3.2z"/><path color="#038cad" d="M499.1,539.3l8.5,3.5 6.9-3.1-8.4-3.4z"/><path color="#048db0" d="M507.6,542.8l8.6,3.6 6.8-3.2-8.5-3.5z"/><path color="#058db2" d="M516.2,546.4l8.8,3.8 6.7-3.3-8.7-3.7z"/><path color="#068eb5" d="M525,550.2l8.9,3.9 6.7-3.3-8.9-3.9z"/><path color="#088eb9" d="M533.9,554.1l9,4.2 6.7-3.4-9-4.1z"/><path color="#098fbd" d="M542.9,558.3l9.2,4.5 6.6-3.5-9.1-4.4z"/><path color="#0a90c0" d="M552.1,562.8l4.7,2.3 6.5-3.6-4.6-2.2z"/><path color="#0b90c3" d="M556.8,565.1l4.7,2.4 6.5-3.6-4.7-2.4z"/><path color="#0c91c6" d="M561.5,567.5l4.7,2.5 6.4-3.7-4.6-2.4z"/><path color="#0e91c9" d="M566.2,570l4.8,2.6 6.4-3.8-4.8-2.5z"/><path color="#0f92cd" d="M571,572.6l4.8,2.7 6.3-3.9-4.7-2.6z"/><path color="#1192d1" d="M575.8,575.3l4.8,2.8 6.3-3.9-4.8-2.8z"/><path color="#1393d6" d="M580.6,578.1l4.9,2.9 6.2-4-4.8-2.8z"/><path color="#1594dc" d="M585.5,581l4.8,3.1 6.3-4-4.9-3.1z"/><path color="#1795e2" d="M590.3,584.1l3.3,2.2 6.2-4.1-3.2-2.1z"/><path color="#1a95e7" d="M593.6,586.3l3.3,2.3 6.2-4.2-3.3-2.2z"/><path color="#1a95e8" d="M596.9,588.6l3.3,2.4 6.1-4.2-3.2-2.4z"/><path color="#1a94e7" d="M600.2,591l3.3,2.6 6.1-4.3-3.3-2.5z"/><path color="#1a93e6" d="M603.5,593.6l3.3,2.7 6.1-4.3-3.3-2.7z"/><path color="#1a91e5" d="M606.8,596.3l3.3,3 6-4.4-3.2-2.9z"/><path color="#1a8fe3" d="M610.1,599.3l2.5,2.5 6-4.5-2.5-2.4z"/><path color="#1a8de2" d="M612.6,601.8l2.4,2.6 6-4.6-2.4-2.5z"/><path color="#1a8adf" d="M615,604.4l2.5,3 5.9-4.7-2.4-2.9z"/><path color="#1a86dc" d="M617.5,607.4l2.4,3.3 5.9-4.7-2.4-3.3z"/></g><path d="M481.6,527.1l8,2.9 8.2,3.1 8.3,3.2 8.4,3.4 8.5,3.5 8.7,3.7 8.9,3.9 9,4.1 9.1,4.4 4.6,2.2 4.7,2.4 4.6,2.4 4.8,2.5 4.7,2.6 4.8,2.8 4.8,2.8 4.9,3.1 3.2,2.1 3.3,2.2 3.2,2.4 3.3,2.5 3.3,2.7 3.2,2.9 2.5,2.4 2.4,2.5 2.4,2.9 2.4,3.3M482.6,532.9l7-2.9M490.8,536l7-2.9M499.1,539.3l7-3M507.6,542.8l6.9-3.1M516.2,546.4l6.8-3.2M525,550.2l6.7-3.3M533.9,554.1l6.7-3.3M542.9,558.3l6.7-3.4M552.1,562.8l6.6-3.5M561.5,567.5l6.5-3.6M571,572.6l6.4-3.8M580.6,578.1l6.3-3.9M590.3,584.1l6.3-4M600.2,591l6.1-4.2M610.1,599.3l6-4.4" stroke="#2e2a2a" stroke-opacity="0.84" stroke-width="0.9"/><path d="M474.6,529.9l7-2.8M619.9,610.7l5.9-4.7" stroke="#1a1a1a" stroke-width="0.8"/><g fill="currentColor" stroke="currentColor" stroke-width=".7"><path color="#018ba6" d="M467.4,532.9l8.1,3.1 7.1-3.1-8-3z"/><path color="#018ba8" d="M475.5,536l8.2,3.2 7.1-3.2-8.2-3.1z"/><path color="#028cab" d="M483.7,539.2l8.4,3.3 7-3.2-8.3-3.3z"/><path color="#038cad" d="M492.1,542.5l8.5,3.5 7-3.2-8.5-3.5z"/><path color="#048db0" d="M500.6,546l8.6,3.7 7-3.3-8.6-3.6z"/><path color="#058db2" d="M509.2,549.7l8.9,3.9 6.9-3.4-8.8-3.8z"/><path color="#068eb5" d="M518.1,553.6l8.9,4 6.9-3.5-8.9-3.9z"/><path color="#088eb9" d="M527,557.6l9.1,4.3 6.8-3.6-9-4.2z"/><path color="#098fbd" d="M536.1,561.9l9.3,4.5 6.7-3.6-9.2-4.5z"/><path color="#0a90c0" d="M545.4,566.4l4.7,2.4 6.7-3.7-4.7-2.3z"/><path color="#0b90c3" d="M550.1,568.8l4.7,2.4 6.7-3.7-4.7-2.4z"/><path color="#0d91c6" d="M554.8,571.2l4.8,2.5 6.6-3.7-4.7-2.5z"/><path color="#0e91c9" d="M559.6,573.7l4.8,2.6 6.6-3.7-4.8-2.6z"/><path color="#0f92cd" d="M564.4,576.3l4.8,2.8 6.6-3.8-4.8-2.7z"/><path color="#1192d1" d="M569.2,579.1l4.9,2.8 6.5-3.8-4.8-2.8z"/><path color="#1393d6" d="M574.1,581.9l4.9,3 6.5-3.9-4.9-2.9z"/><path color="#1594dc" d="M579,584.9l4.9,3.2 6.4-4-4.8-3.1z"/><path color="#1795e2" d="M583.9,588.1l3.4,2.2 6.3-4-3.3-2.2z"/><path color="#1a95e7" d="M587.3,590.3l3.3,2.3 6.3-4-3.3-2.3z"/><path color="#1a95e8" d="M590.6,592.6l3.3,2.4 6.3-4-3.3-2.4z"/><path color="#1a94e7" d="M593.9,595l3.3,2.6 6.3-4-3.3-2.6z"/><path color="#1a93e6" d="M597.2,597.6l3.4,2.8 6.2-4.1-3.3-2.7z"/><path color="#1a91e5" d="M600.6,600.4l3.3,3 6.2-4.1-3.3-3z"/><path color="#1a8fe3" d="M603.9,603.4l2.5,2.5 6.2-4.1-2.5-2.5z"/><path color="#1a8de1" d="M606.4,605.9l2.5,2.6 6.1-4.1-2.4-2.6z"/><path color="#1a8adf" d="M608.9,608.5l2.5,3 6.1-4.1-2.5-3z"/><path color="#1a85db" d="M611.4,611.5l2.4,3.4 6.1-4.2-2.4-3.3z"/></g><path d="M474.6,529.9l8,3 8.2,3.1 8.3,3.3 8.5,3.5 8.6,3.6 8.8,3.8 8.9,3.9 9,4.2 9.2,4.5 4.7,2.3 4.7,2.4 4.7,2.5 4.8,2.6 4.8,2.7 4.8,2.8 4.9,2.9 4.8,3.1 3.3,2.2 3.3,2.3 3.3,2.4 3.3,2.6 3.3,2.7 3.3,3 2.5,2.5 2.4,2.6 2.5,3 2.4,3.3M475.5,536l7.1-3.1M483.7,539.2l7.1-3.2M492.1,542.5l7-3.2M500.6,546l7-3.2M509.2,549.7l7-3.3M518.1,553.6l6.9-3.4M527,557.6l6.9-3.5M536.1,561.9l6.8-3.6M545.4,566.4l6.7-3.6M554.8,571.2l6.7-3.7M564.4,576.3l6.6-3.7M574.1,581.9l6.5-3.8M583.9,588.1l6.4-4M593.9,595l6.3-4M603.9,603.4l6.2-4.1" stroke="#2e2a2a" stroke-opacity="0.84" stroke-width="0.9"/><path d="M467.4,532.9l7.2-3M613.8,614.9l6.1-4.2" stroke="#1a1a1a" stroke-width="0.8"/><g fill="currentColor" stroke="currentColor" stroke-width=".7"><path color="#018ba6" d="M460,536.1l8.1,3.1 7.4-3.2-8.1-3.1z"/><path color="#018ba8" d="M468.1,539.2l8.3,3.3 7.3-3.3-8.2-3.2z"/><path color="#028cab" d="M476.4,542.5l8.4,3.4 7.3-3.4-8.4-3.3z"/><path color="#038cad" d="M484.8,545.9l8.6,3.6 7.2-3.5-8.5-3.5z"/><path color="#048daf" d="M493.4,549.5l8.7,3.7 7.1-3.5-8.6-3.7z"/><path color="#058db2" d="M502.1,553.2l8.8,3.9 7.2-3.5-8.9-3.9z"/><path color="#068eb5" d="M510.9,557.1l9.1,4.1 7-3.6-8.9-4z"/><path color="#078eb8" d="M520,561.2l9.2,4.3 6.9-3.6-9.1-4.3z"/><path color="#098fbc" d="M529.2,565.5l9.3,4.6 6.9-3.7-9.3-4.5z"/><path color="#0a8fbf" d="M538.5,570.1l4.7,2.4 6.9-3.7-4.7-2.4z"/><path color="#0b90c2" d="M543.2,572.5l4.8,2.4 6.8-3.7-4.7-2.4z"/><path color="#0c90c5" d="M548,574.9l4.8,2.6 6.8-3.8-4.8-2.5z"/><path color="#0d91c8" d="M552.8,577.5l4.8,2.6 6.8-3.8-4.8-2.6z"/><path color="#0f91cb" d="M557.6,580.1l4.9,2.7 6.7-3.7-4.8-2.8z"/><path color="#1092cf" d="M562.5,582.8l4.9,2.9 6.7-3.8-4.9-2.8z"/><path color="#1293d4" d="M567.4,585.7l5,3 6.6-3.8-4.9-3z"/><path color="#1493da" d="M572.4,588.7l5,3.1 6.5-3.7-4.9-3.2z"/><path color="#1794e0" d="M577.4,591.8l3.3,2.2 6.6-3.7-3.4-2.2z"/><path color="#1995e5" d="M580.7,594l3.4,2.3 6.5-3.7-3.3-2.3z"/><path color="#1a95e8" d="M584.1,596.3l3.3,2.4 6.5-3.7-3.3-2.4z"/><path color="#1a94e7" d="M587.4,598.7l3.4,2.6 6.4-3.7-3.3-2.6z"/><path color="#1a93e6" d="M590.8,601.3l3.4,2.8 6.4-3.7-3.4-2.8z"/><path color="#1a91e5" d="M594.2,604.1l3.4,2.9 6.3-3.6-3.3-3z"/><path color="#1a8fe3" d="M597.6,607l2.5,2.5 6.3-3.6-2.5-2.5z"/><path color="#1a8de1" d="M600.1,609.5l2.5,2.6 6.3-3.6-2.5-2.6z"/><path color="#1a8adf" d="M602.6,612.1l2.6,2.9 6.2-3.5-2.5-3z"/><path color="#1a86dc" d="M605.2,615l2.5,3.3 6.1-3.4-2.4-3.4z"/></g><path d="M467.4,532.9l8.1,3.1 8.2,3.2 8.4,3.3 8.5,3.5 8.6,3.7 8.9,3.9 8.9,4 9.1,4.3 9.3,4.5 4.7,2.4 4.7,2.4 4.8,2.5 4.8,2.6 4.8,2.8 4.9,2.8 4.9,3 4.9,3.2 3.4,2.2 3.3,2.3 3.3,2.4 3.3,2.6 3.4,2.8 3.3,3 2.5,2.5 2.5,2.6 2.5,3 2.4,3.4M468.1,539.2l7.4-3.2M476.4,542.5l7.3-3.3M484.8,545.9l7.3-3.4M493.4,549.5l7.2-3.5M502.1,553.2l7.1-3.5M510.9,557.1l7.2-3.5M520,561.2l7-3.6M529.2,565.5l6.9-3.6M538.5,570.1l6.9-3.7M548,574.9l6.8-3.7M557.6,580.1l6.8-3.8M567.4,585.7l6.7-3.8M577.4,591.8l6.5-3.7M587.4,598.7l6.5-3.7M597.6,607l6.3-3.6" stroke="#2e2a2a" stroke-opacity="0.84" stroke-width="0.9"/><path d="M460,536.1l7.4-3.2M607.7,618.3l6.1-3.4" stroke="#1a1a1a" stroke-width="0.8"/><g fill="currentColor" stroke="currentColor" stroke-width=".7"><path color="#018ba6" d="M452.4,539.5l8.2,3.2 7.5-3.5-8.1-3.1z"/><path color="#018ba8" d="M460.6,542.7l8.3,3.3 7.5-3.5-8.3-3.3z"/><path color="#028caa" d="M468.9,546l8.4,3.5 7.5-3.6-8.4-3.4z"/><path color="#038cac" d="M477.3,549.5l8.7,3.6 7.4-3.6-8.6-3.6z"/><path color="#048daf" d="M486,553.1l8.7,3.7 7.4-3.6-8.7-3.7z"/><path color="#058db1" d="M494.7,556.8l8.9,4 7.3-3.7-8.8-3.9z"/><path color="#068db4" d="M503.6,560.8l9.1,4.1 7.3-3.7-9.1-4.1z"/><path color="#078eb7" d="M512.7,564.9l9.3,4.3 7.2-3.7-9.2-4.3z"/><path color="#088eba" d="M522,569.2l9.4,4.5 7.1-3.6-9.3-4.6z"/><path color="#098fbd" d="M531.4,573.7l4.7,2.4 7.1-3.6-4.7-2.4z"/><path color="#0a8fbf" d="M536.1,576.1l4.8,2.4 7.1-3.6-4.8-2.4z"/><path color="#0b90c2" d="M540.9,578.5l4.9,2.5 7-3.5-4.8-2.6z"/><path color="#0c90c5" d="M545.8,581l4.9,2.6 6.9-3.5-4.8-2.6z"/><path color="#0d90c8" d="M550.7,583.6l4.9,2.7 6.9-3.5-4.9-2.7z"/><path color="#0f91cb" d="M555.6,586.3l5,2.8 6.8-3.4-4.9-2.9z"/><path color="#1191d0" d="M560.6,589.1l5,2.9 6.8-3.3-5-3z"/><path color="#1392d5" d="M565.6,592l5,3.1 6.8-3.3-5-3.1z"/><path color="#1593da" d="M570.6,595.1l3.4,2.1 6.7-3.2-3.3-2.2z"/><path color="#1793df" d="M574,597.2l3.4,2.2 6.7-3.1-3.4-2.3z"/><path color="#1994e4" d="M577.4,599.4l3.4,2.4 6.6-3.1-3.3-2.4z"/><path color="#1a93e6" d="M580.8,601.8l3.4,2.5 6.6-3-3.4-2.6z"/><path color="#1a92e6" d="M584.2,604.3l3.4,2.6 6.6-2.8-3.4-2.8z"/><path color="#1a91e4" d="M587.6,606.9l3.5,2.8 6.5-2.7-3.4-2.9z"/><path color="#1a8fe3" d="M591.1,609.7l2.6,2.3 6.4-2.5-2.5-2.5z"/><path color="#1a8de1" d="M593.7,612l2.5,2.5 6.4-2.4-2.5-2.6z"/><path color="#1a8adf" d="M596.2,614.5l2.6,2.8 6.4-2.3-2.6-2.9z"/><path color="#1a86dc" d="M598.8,617.3l2.6,3.1 6.3-2.1-2.5-3.3z"/></g><path d="M460,536.1l8.1,3.1 8.3,3.3 8.4,3.4 8.6,3.6 8.7,3.7 8.8,3.9 9.1,4.1 9.2,4.3 9.3,4.6 4.7,2.4 4.8,2.4 4.8,2.6 4.8,2.6 4.9,2.7 4.9,2.9 5,3 5,3.1 3.3,2.2 3.4,2.3 3.3,2.4 3.4,2.6 3.4,2.8 3.4,2.9 2.5,2.5 2.5,2.6 2.6,2.9 2.5,3.3M460.6,542.7l7.5-3.5M468.9,546l7.5-3.5M477.3,549.5l7.5-3.6M486,553.1l7.4-3.6M494.7,556.8l7.4-3.6M503.6,560.8l7.3-3.7M512.7,564.9l7.3-3.7M522,569.2l7.2-3.7M531.4,573.7l7.1-3.6M540.9,578.5l7.1-3.6M550.7,583.6l6.9-3.5M560.6,589.1l6.8-3.4M570.6,595.1l6.8-3.3M580.8,601.8l6.6-3.1M591.1,609.7l6.5-2.7" stroke="#2e2a2a" stroke-opacity="0.84" stroke-width="0.9"/><path d="M452.4,539.5l7.6-3.4M601.4,620.4l6.3-2.1" stroke="#1a1a1a" stroke-width="0.8"/><g fill="currentColor" stroke="currentColor" stroke-width=".7"><path color="#008ba6" d="M444.7,543.1l8.2,3.2 7.7-3.6-8.2-3.2z"/><path color="#018ba8" d="M452.9,546.3l8.3,3.4 7.7-3.7-8.3-3.3z"/><path color="#028ca9" d="M461.2,549.7l8.5,3.5 7.6-3.7-8.4-3.5z"/><path color="#028cab" d="M469.7,553.2l8.7,3.6 7.6-3.7-8.7-3.6z"/><path color="#038cad" d="M478.4,556.8l8.8,3.8 7.5-3.8-8.7-3.7z"/><path color="#048daf" d="M487.2,560.6l8.9,4 7.5-3.8-8.9-4z"/><path color="#058db2" d="M496.1,564.6l9.2,4.1 7.4-3.8-9.1-4.1z"/><path color="#068eb4" d="M505.3,568.7l9.3,4.3 7.4-3.8-9.3-4.3z"/><path color="#078eb7" d="M514.6,573l9.5,4.4 7.3-3.7-9.4-4.5z"/><path color="#088eba" d="M524.1,577.4l4.8,2.4 7.2-3.7-4.7-2.4z"/><path color="#098fbc" d="M528.9,579.8l4.8,2.4 7.2-3.7-4.8-2.4z"/><path color="#0a8fbe" d="M533.7,582.2l4.9,2.4 7.2-3.6-4.9-2.5z"/><path color="#0b8fc0" d="M538.6,584.6l4.9,2.6 7.2-3.6-4.9-2.6z"/><path color="#0c90c3" d="M543.5,587.2l5,2.6 7.1-3.5-4.9-2.7z"/><path color="#0d90c6" d="M548.5,589.8l5,2.7 7.1-3.4-5-2.8z"/><path color="#0e90ca" d="M553.5,592.5l5.1,2.9 7-3.4-5-2.9z"/><path color="#1091ce" d="M558.6,595.4l5,2.9 7-3.2-5-3.1z"/><path color="#1291d3" d="M563.6,598.3l3.5,2.1 6.9-3.2-3.4-2.1z"/><path color="#1492d7" d="M567.1,600.4l3.4,2.1 6.9-3.1-3.4-2.2z"/><path color="#1692dc" d="M570.5,602.5l3.4,2.3 6.9-3-3.4-2.4z"/><path color="#1893e2" d="M573.9,604.8l3.5,2.3 6.8-2.8-3.4-2.5z"/><path color="#1a93e6" d="M577.4,607.1l3.5,2.5 6.7-2.7-3.4-2.6z"/><path color="#1a92e5" d="M580.9,609.6l3.5,2.7 6.7-2.6-3.5-2.8z"/><path color="#1a90e4" d="M584.4,612.3l2.6,2.2 6.7-2.5-2.6-2.3z"/><path color="#1a8fe3" d="M587,614.5l2.6,2.3 6.6-2.3-2.5-2.5z"/><path color="#1a8ce1" d="M589.6,616.8l2.6,2.5 6.6-2-2.6-2.8z"/><path color="#1a89de" d="M592.2,619.3l2.6,2.9 6.6-1.8-2.6-3.1z"/></g><path d="M452.4,539.5l8.2,3.2 8.3,3.3 8.4,3.5 8.7,3.6 8.7,3.7 8.9,4 9.1,4.1 9.3,4.3 9.4,4.5 4.7,2.4 4.8,2.4 4.9,2.5 4.9,2.6 4.9,2.7 5,2.8 5,2.9 5,3.1 3.4,2.1 3.4,2.2 3.4,2.4 3.4,2.5 3.4,2.6 3.5,2.8 2.6,2.3 2.5,2.5 2.6,2.8 2.6,3.1M452.9,546.3l7.7-3.6M461.2,549.7l7.7-3.7M469.7,553.2l7.6-3.7M478.4,556.8l7.6-3.7M487.2,560.6l7.5-3.8M496.1,564.6l7.5-3.8M505.3,568.7l7.4-3.8M514.6,573l7.4-3.8M524.1,577.4l7.3-3.7M533.7,582.2l7.2-3.7M543.5,587.2l7.2-3.6M553.5,592.5l7.1-3.4M563.6,598.3l7-3.2M573.9,604.8l6.9-3M584.4,612.3l6.7-2.6" stroke="#2e2a2a" stroke-opacity="0.84" stroke-width="0.9"/><path d="M444.7,543.1l7.7-3.6M594.8,622.2l6.6-1.8" stroke="#1a1a1a" stroke-width="0.8"/><g fill="currentColor" stroke="currentColor" stroke-width=".7"><path color="#008ba6" d="M440.7,544.9l8.2,3.3 4-1.9-8.2-3.2z"/><path color="#018ba7" d="M448.9,548.2l8.4,3.4 3.9-1.9-8.3-3.4z"/><path color="#028ca9" d="M457.3,551.6l8.5,3.5 3.9-1.9-8.5-3.5z"/><path color="#028cab" d="M465.8,555.1l8.7,3.7 3.9-2-8.7-3.6z"/><path color="#038cac" d="M474.5,558.8l8.8,3.8 3.9-2-8.8-3.8z"/><path color="#038dae" d="M483.3,562.6l9,3.9 3.8-1.9-8.9-4z"/><path color="#048db0" d="M492.3,566.5l9.2,4.1 3.8-1.9-9.2-4.1z"/><path color="#058db2" d="M501.5,570.6l9.3,4.3 3.8-1.9-9.3-4.3z"/><path color="#068eb5" d="M510.8,574.9l9.5,4.5 3.8-2-9.5-4.4z"/><path color="#078eb7" d="M520.3,579.4l4.8,2.3 3.8-1.9-4.8-2.4z"/><path color="#088eb9" d="M525.1,581.7l4.9,2.4 3.7-1.9-4.8-2.4z"/><path color="#088ebb" d="M530,584.1l4.9,2.4 3.7-1.9-4.9-2.4z"/><path color="#098fbd" d="M534.9,586.5l5,2.5 3.6-1.8-4.9-2.6z"/><path color="#0a8fbf" d="M539.9,589l5,2.6 3.6-1.8-5-2.6z"/><path color="#0b8fc2" d="M544.9,591.6l5,2.7 3.6-1.8-5-2.7z"/><path color="#0d90c6" d="M549.9,594.3l5.1,2.8 3.6-1.7-5.1-2.9z"/><path color="#0e90ca" d="M555,597.1l5.1,2.9 3.5-1.7-5-2.9z"/><path color="#1091cd" d="M560.1,600l3.4,2 3.6-1.6-3.5-2.1z"/><path color="#1191d1" d="M563.5,602l3.5,2.1 3.5-1.6-3.4-2.1z"/><path color="#1391d6" d="M567,604.1l3.4,2.2 3.5-1.5-3.4-2.3z"/><path color="#1592db" d="M570.4,606.3l3.5,2.3 3.5-1.5-3.5-2.3z"/><path color="#1892e1" d="M573.9,608.6l3.5,2.4 3.5-1.4-3.5-2.5z"/><path color="#1a93e6" d="M577.4,611l3.5,2.6 3.5-1.3-3.5-2.7z"/><path color="#1a91e5" d="M580.9,613.6l2.7,2.1 3.4-1.2-2.6-2.2z"/><path color="#1a90e4" d="M583.6,615.7l2.6,2.2 3.4-1.1-2.6-2.3z"/><path color="#1a8ee2" d="M586.2,617.9l2.7,2.4 3.3-1-2.6-2.5z"/><path color="#1a8be0" d="M588.9,620.3l2.6,2.7 3.3-.8-2.6-2.9z"/></g><path d="M444.7,543.1l8.2,3.2 8.3,3.4 8.5,3.5 8.7,3.6 8.8,3.8 8.9,4 9.2,4.1 9.3,4.3 9.5,4.4 4.8,2.4 4.8,2.4 4.9,2.4 4.9,2.6 5,2.6 5,2.7 5.1,2.9 5,2.9 3.5,2.1 3.4,2.1 3.4,2.3 3.5,2.3 3.5,2.5 3.5,2.7 2.6,2.2 2.6,2.3 2.6,2.5 2.6,2.9M448.9,548.2l4-1.9M457.3,551.6l3.9-1.9M465.8,555.1l3.9-1.9M474.5,558.8l3.9-2M483.3,562.6l3.9-2M492.3,566.5l3.8-1.9M501.5,570.6l3.8-1.9M510.8,574.9l3.8-1.9M520.3,579.4l3.8-2M530,584.1l3.7-1.9M539.9,589l3.6-1.8M549.9,594.3l3.6-1.8M560.1,600l3.5-1.7M570.4,606.3l3.5-1.5M580.9,613.6l3.5-1.3" stroke="#2e2a2a" stroke-opacity="0.84" stroke-width="0.9"/><path d="M440.7,544.9l4-1.8M591.5,623l3.3-.8" stroke="#1a1a1a" stroke-width="0.8"/><g fill="currentColor" stroke="currentColor" stroke-width=".7"><path color="#008ba6" d="M436.7,546.8l8.3,3.3 3.9-1.9-8.2-3.3z"/><path color="#018ba7" d="M445,550.1l8.3,3.4 4-1.9-8.4-3.4z"/><path color="#018ca9" d="M453.3,553.5l8.6,3.6 3.9-2-8.5-3.5z"/><path color="#028caa" d="M461.9,557.1l8.7,3.6 3.9-1.9-8.7-3.7z"/><path color="#028cab" d="M470.6,560.7l8.8,3.8 3.9-1.9-8.8-3.8z"/><path color="#038cad" d="M479.4,564.5l9,4 3.9-2-9-3.9z"/><path color="#048daf" d="M488.4,568.5l9.2,4.1 3.9-2-9.2-4.1z"/><path color="#058db1" d="M497.6,572.6l9.4,4.2 3.8-1.9-9.3-4.3z"/><path color="#068db3" d="M507,576.8l9.5,4.5 3.8-1.9-9.5-4.5z"/><path color="#068db5" d="M516.5,581.3l4.9,2.2 3.7-1.8-4.8-2.3z"/><path color="#078eb7" d="M521.4,583.5l4.9,2.4 3.7-1.8-4.9-2.4z"/><path color="#088eb8" d="M526.3,585.9l4.9,2.4 3.7-1.8-4.9-2.4z"/><path color="#088eba" d="M531.2,588.3l4.9,2.5 3.8-1.8-5-2.5z"/><path color="#098ebc" d="M536.1,590.8l5.1,2.5 3.7-1.7-5-2.6z"/><path color="#0a8ebf" d="M541.2,593.3l5,2.6 3.7-1.6-5-2.7z"/><path color="#0b8fc2" d="M546.2,595.9l5.1,2.8 3.7-1.6-5.1-2.8z"/><path color="#0d8fc5" d="M551.3,598.7l5.2,2.8 3.6-1.5-5.1-2.9z"/><path color="#0e8fc8" d="M556.5,601.5l3.4,2 3.6-1.5-3.4-2z"/><path color="#0f90cc" d="M559.9,603.5l3.5,2 3.6-1.4-3.5-2.1z"/><path color="#1190cf" d="M563.4,605.5l3.5,2.1 3.5-1.3-3.4-2.2z"/><path color="#1390d4" d="M566.9,607.6l3.5,2.2 3.5-1.2-3.5-2.3z"/><path color="#1591d9" d="M570.4,609.8l3.5,2.3 3.5-1.1-3.5-2.4z"/><path color="#1891e0" d="M573.9,612.1l3.5,2.5 3.5-1-3.5-2.6z"/><path color="#1a91e5" d="M577.4,614.6l2.7,1.9 3.5-.8-2.7-2.1z"/><path color="#1a8fe3" d="M580.1,616.5l2.7,2.1 3.4-.7-2.6-2.2z"/><path color="#1a8ee2" d="M582.8,618.6l2.6,2.3 3.5-.6-2.7-2.4z"/><path color="#1a8be0" d="M585.4,620.9l2.7,2.6 3.4-.5-2.6-2.7z"/></g><path d="M445,550.1l3.9-1.9M453.3,553.5l4-1.9M461.9,557.1l3.9-2M470.6,560.7l3.9-1.9M479.4,564.5l3.9-1.9M488.4,568.5l3.9-2M497.6,572.6l3.9-2M507,576.8l3.8-1.9M516.5,581.3l3.8-1.9M526.3,585.9l3.7-1.8M536.1,590.8l3.8-1.8M546.2,595.9l3.7-1.6M556.5,601.5l3.6-1.5M566.9,607.6l3.5-1.3M577.4,614.6l3.5-1" stroke="#2e2a2a" stroke-opacity="0.84" stroke-width="0.9"/><path d="M436.7,546.8l4-1.9M588.1,623.5l3.4-.5" stroke="#1a1a1a" stroke-width="0.8"/><g fill="currentColor" stroke="currentColor" stroke-width=".7"><path color="#008ba6" d="M434,548.1l8.3,3.3 2.7-1.3-8.3-3.3z"/><path color="#018ba7" d="M442.3,551.4l8.4,3.4 2.6-1.3-8.3-3.4z"/><path color="#018ba8" d="M450.7,554.8l8.5,3.6 2.7-1.3-8.6-3.6z"/><path color="#028ca9" d="M459.2,558.4l8.7,3.7 2.7-1.4-8.7-3.6z"/><path color="#028cab" d="M467.9,562.1l8.9,3.8 2.6-1.4-8.8-3.8z"/><path color="#038cac" d="M476.8,565.9l9,3.9 2.6-1.3-9-4z"/><path color="#038cae" d="M485.8,569.8l9.2,4 2.6-1.2-9.2-4.1z"/><path color="#048caf" d="M495,573.8l9.4,4.3 2.6-1.3-9.4-4.2z"/><path color="#058db1" d="M504.4,578.1l9.6,4.3 2.5-1.1-9.5-4.5z"/><path color="#058db3" d="M514,582.4l4.8,2.3 2.6-1.2-4.9-2.2z"/><path color="#068db4" d="M518.8,584.7l4.9,2.3 2.6-1.1-4.9-2.4z"/><path color="#078db6" d="M523.7,587l4.9,2.4 2.6-1.1-4.9-2.4z"/><path color="#078db7" d="M528.6,589.4l5,2.4 2.5-1-4.9-2.5z"/><path color="#088db9" d="M533.6,591.8l5.1,2.5 2.5-1-5.1-2.5z"/><path color="#098dbb" d="M538.7,594.3l5,2.6 2.5-1-5-2.6z"/><path color="#0a8dbd" d="M543.7,596.9l5.1,2.6 2.5-.8-5.1-2.8z"/><path color="#0b8dc0" d="M548.8,599.5l5.2,2.8 2.5-.8-5.2-2.8z"/><path color="#0c8dc3" d="M554,602.3l3.5,1.9 2.4-.7-3.4-2z"/><path color="#0d8ec5" d="M557.5,604.2l3.5,2 2.4-.7-3.5-2z"/><path color="#0f8ec8" d="M561,606.2l3.5,2 2.4-.6-3.5-2.1z"/><path color="#108ecc" d="M564.5,608.2l3.5,2.1 2.4-.5-3.5-2.2z"/><path color="#128ed0" d="M568,610.3l3.5,2.2 2.4-.4-3.5-2.3z"/><path color="#158ed6" d="M571.5,612.5l3.6,2.4 2.3-.3-3.5-2.5z"/><path color="#178edc" d="M575.1,614.9l2.7,1.8 2.3-.2-2.7-1.9z"/><path color="#1a8ee2" d="M577.8,616.7l2.7,2 2.3-.1-2.7-2.1z"/><path color="#1a8ce1" d="M580.5,618.7l2.6,2.2 2.3,0-2.6-2.3z"/><path color="#1a8adf" d="M583.1,620.9l2.7,2.4 2.3,.2-2.7-2.6z"/></g><path d="M436.7,546.8l8.3,3.3 8.3,3.4 8.6,3.6 8.7,3.6 8.8,3.8 9,4 9.2,4.1 9.4,4.2 9.5,4.5 4.9,2.2 4.9,2.4 4.9,2.4 4.9,2.5 5.1,2.5 5,2.6 5.1,2.8 5.2,2.8 3.4,2 3.5,2 3.5,2.1 3.5,2.2 3.5,2.3 3.5,2.5 2.7,1.9 2.7,2.1 2.6,2.3 2.7,2.6M442.3,551.4l2.7-1.3M450.7,554.8l2.6-1.3M459.2,558.4l2.7-1.3M467.9,562.1l2.7-1.4M476.8,565.9l2.6-1.4M485.8,569.8l2.6-1.3M495,573.8l2.6-1.2M504.4,578.1l2.6-1.3M514,582.4l2.5-1.1M523.7,587l2.6-1.1M533.6,591.8l2.5-1M543.7,596.9l2.5-1M554,602.3l2.5-.8M564.5,608.2l2.4-.6M575.1,614.9l2.3-.3" stroke="#2e2a2a" stroke-opacity="0.84" stroke-width="0.9"/><path d="M434,548.1l2.7-1.3M585.8,623.3l2.3,.2" stroke="#1a1a1a" stroke-width="0.8"/><g fill="currentColor" stroke="currentColor" stroke-width=".7"><path color="#008ba6" d="M431.3,549.4l8.3,3.3 2.7-1.3-8.3-3.3z"/><path color="#018ba7" d="M439.6,552.7l8.4,3.5 2.7-1.4-8.4-3.4z"/><path color="#018ba8" d="M448,556.2l8.5,3.5 2.7-1.3-8.5-3.6z"/><path color="#018ba9" d="M456.5,559.7l8.8,3.7 2.6-1.3-8.7-3.7z"/><path color="#028caa" d="M465.3,563.4l8.8,3.7 2.7-1.2-8.9-3.8z"/><path color="#028cab" d="M474.1,567.1l9.1,3.9 2.6-1.2-9-3.9z"/><path color="#038cac" d="M483.2,571l9.2,4 2.6-1.2-9.2-4z"/><path color="#038cad" d="M492.4,575l9.4,4.2 2.6-1.1-9.4-4.3z"/><path color="#048cae" d="M501.8,579.2l9.6,4.3 2.6-1.1-9.6-4.3z"/><path color="#058bb0" d="M511.4,583.5l4.8,2.2 2.6-1-4.8-2.3z"/><path color="#058bb0" d="M516.2,585.7l4.9,2.2 2.6-.9-4.9-2.3z"/><path color="#058bb1" d="M521.1,587.9l5,2.3 2.5-.8-4.9-2.4z"/><path color="#068bb2" d="M526.1,590.2l5,2.3 2.5-.7-5-2.4z"/><path color="#068bb3" d="M531.1,592.5l5,2.4 2.6-.6-5.1-2.5z"/><path color="#078ab4" d="M536.1,594.9l5.1,2.5 2.5-.5-5-2.6z"/><path color="#088ab6" d="M541.2,597.4l5.1,2.5 2.5-.4-5.1-2.6z"/><path color="#0989b7" d="M546.3,599.9l5.2,2.7 2.5-.3-5.2-2.8z"/><path color="#0a89b9" d="M551.5,602.6l3.5,1.8 2.5-.2-3.5-1.9z"/><path color="#0a88ba" d="M555,604.4l3.5,1.8 2.5,0-3.5-2z"/><path color="#0b88bc" d="M558.5,606.2l3.5,1.9 2.5,.1-3.5-2z"/><path color="#0c87be" d="M562,608.1l3.6,2 2.4,.2-3.5-2.1z"/><path color="#0e86c1" d="M565.6,610.1l3.5,2 2.4,.4-3.5-2.2z"/><path color="#1086c4" d="M569.1,612.1l3.6,2.2 2.4,.6-3.6-2.4z"/><path color="#1185c7" d="M572.7,614.3l2.7,1.7 2.4,.7-2.7-1.8z"/><path color="#1384cb" d="M575.4,616l2.7,1.8 2.4,.9-2.7-2z"/><path color="#1684d1" d="M578.1,617.8l2.7,1.9 2.3,1.2-2.6-2.2z"/><path color="#1983d8" d="M580.8,619.7l2.8,2.1 2.2,1.5-2.7-2.4z"/></g><path d="M439.6,552.7l2.7-1.3M448,556.2l2.7-1.4M456.5,559.7l2.7-1.3M465.3,563.4l2.6-1.3M474.1,567.1l2.7-1.2M483.2,571l2.6-1.2M492.4,575l2.6-1.2M501.8,579.2l2.6-1.1M511.4,583.5l2.6-1.1M521.1,587.9l2.6-.9M531.1,592.5l2.5-.7M541.2,597.4l2.5-.5M551.5,602.6l2.5-.3M562,608.1l2.5,.1M572.7,614.3l2.4,.6" stroke="#2e2a2a" stroke-opacity="0.84" stroke-width="0.9"/><path d="M431.3,549.4l2.7-1.3M583.6,621.8l2.2,1.5" stroke="#1a1a1a" stroke-width="0.8"/><g fill="currentColor" stroke="currentColor" stroke-width=".7"><path color="#008ba5" d="M428.6,550.7l8.2,3.3 2.8-1.3-8.3-3.3z"/><path color="#008ba6" d="M436.8,554l8.5,3.5 2.7-1.3-8.4-3.5z"/><path color="#018ba7" d="M445.3,557.5l8.5,3.5 2.7-1.3-8.5-3.5z"/><path color="#018ba7" d="M453.8,561l8.8,3.6 2.7-1.2-8.8-3.7z"/><path color="#018ba8" d="M462.6,564.6l8.8,3.8 2.7-1.3-8.8-3.7z"/><path color="#018ba8" d="M471.4,568.4l9.1,3.8 2.7-1.2-9.1-3.9z"/><path color="#028ba9" d="M480.5,572.2l9.2,3.9 2.7-1.1-9.2-4z"/><path color="#028aaa" d="M489.7,576.1l9.5,4 2.6-.9-9.4-4.2z"/><path color="#038aaa" d="M499.2,580.1l9.5,4.1 2.7-.7-9.6-4.3z"/><path color="#0389aa" d="M508.7,584.2l4.9,2.1 2.6-.6-4.8-2.2z"/><path color="#0389aa" d="M513.6,586.3l4.9,2.1 2.6-.5-4.9-2.2z"/><path color="#0388aa" d="M518.5,588.4l5,2.2 2.6-.4-5-2.3z"/><path color="#0487aa" d="M523.5,590.6l5,2.2 2.6-.3-5-2.3z"/><path color="#0486aa" d="M528.5,592.8l5,2.3 2.6-.2-5-2.4z"/><path color="#0485aa" d="M533.5,595.1l5.2,2.3 2.5,0-5.1-2.5z"/><path color="#0584aa" d="M538.7,597.4l5.1,2.3 2.5,.2-5.1-2.5z"/><path color="#0582aa" d="M543.8,599.7l5.2,2.4 2.5,.5-5.2-2.7z"/><path color="#0681aa" d="M549,602.1l3.5,1.6 2.5,.7-3.5-1.8z"/><path color="#0680aa" d="M552.5,603.7l3.5,1.7 2.5,.8-3.5-1.8z"/><path color="#077faa" d="M556,605.4l3.6,1.7 2.4,1-3.5-1.9z"/><path color="#077dab" d="M559.6,607.1l3.5,1.7 2.5,1.3-3.6-2z"/><path color="#002054" d="M563.1,608.8l3.6,1.8 2.4,1.5-3.5-2z"/><path color="#002054" d="M566.7,610.6l3.6,1.8 2.4,1.9-3.6-2.2z"/><path color="#002054" d="M570.3,612.4l2.8,1.5 2.3,2.1-2.7-1.7z"/><path color="#002054" d="M573.1,613.9l2.7,1.5 2.3,2.4-2.7-1.8z"/><path color="#002054" d="M575.8,615.4l2.7,1.5 2.3,2.8-2.7-1.9z"/><path color="#002054" d="M578.5,616.9l2.8,1.7 2.3,3.2-2.8-2.1z"/></g><path d="M436.8,554l2.8-1.3M445.3,557.5l2.7-1.3M453.8,561l2.7-1.3M462.6,564.6l2.7-1.2M471.4,568.4l2.7-1.3M480.5,572.2l2.7-1.2M489.7,576.1l2.7-1.1M499.2,580.1l2.6-.9M508.7,584.2l2.7-.7M518.5,588.4l2.6-.5M528.5,592.8l2.6-.3M538.7,597.4l2.5,0M549,602.1l2.5,.5M559.6,607.1l2.4,1M570.3,612.4l2.4,1.9" stroke="#2e2a2a" stroke-opacity="0.84" stroke-width="0.9"/><path d="M428.6,550.7l2.7-1.3M581.3,618.6l2.3,3.2" stroke="#1a1a1a" stroke-width="0.8"/><path d="M428.6,550.7l8.2,3.3 8.5,3.5 8.5,3.5 8.8,3.6 8.8,3.8 9.1,3.8 9.2,3.9 9.5,4 9.5,4.1 4.9,2.1 4.9,2.1 5,2.2 5,2.2 5,2.3 5.2,2.3 5.1,2.3 5.2,2.4 3.5,1.6 3.5,1.7 3.6,1.7 3.5,1.7 3.6,1.8 3.6,1.8 2.8,1.5 2.7,1.5 2.7,1.5 2.8,1.7" stroke="#1a1a1a" stroke-width="0.8"/></g><g stroke="#666" stroke-width="0.7" fill="none" opacity="0.9"><path d="M427.6,613.3L579.1,685.4"/><path d="M579.1,685.4L674.7,591.3"/><path d="M427.6,613.3L419.5,550.2"/><path d="M579.1,685.4L580.9,616.4"/><path d="M674.7,591.3L682.0,530.2"/><path d="M419.5,550.2L580.9,616.4"/><path d="M580.9,616.4L682.0,530.2"/><path d="M682.0,530.2L535.7,486.3"/><path d="M535.7,486.3L419.5,550.2"/></g><g stroke="#6e6e6e" stroke-width="0.55" fill="none"><path d="M430.6,614.8L433.7,612.7"/><path d="M477.5,637.1L480.6,634.8"/><path d="M529.5,661.8L532.4,659.3"/><path d="M580.6,683.9L576.4,681.9"/><path d="M614.7,650.4L610.6,648.6"/><path d="M644.5,621.0L640.6,619.5"/><path d="M670.8,595.1L667.1,593.7"/><path d="M419.8,553.0L422.6,554.1"/><path d="M422.5,574.0L425.2,575.2"/><path d="M425.1,594.2L427.8,595.4"/><path d="M427.1,609.8L428.5,610.5"/><path d="M426.6,605.9L428.1,606.6"/><path d="M426.1,602.0L427.6,602.7"/><path d="M425.6,598.1L427.1,598.8"/><path d="M425.1,594.2L426.6,594.8"/><path d="M424.6,590.2L426.1,590.9"/><path d="M424.1,586.2L425.6,586.9"/><path d="M423.6,582.2L425.0,582.8"/><path d="M423.1,578.1L424.5,578.7"/><path d="M422.5,574.0L424.0,574.6"/><path d="M422.0,569.9L423.5,570.5"/><path d="M421.5,565.7L423.0,566.3"/><path d="M420.9,561.5L422.4,562.1"/><path d="M420.4,557.3L421.9,557.9"/><path d="M419.8,553.0L421.4,553.6"/></g><text x="416.5" y="555.7" font-family="Liberation Sans, sans-serif" font-size="8.1" text-anchor="end" fill="#444">0.005</text><text x="419.2" y="576.7" font-family="Liberation Sans, sans-serif" font-size="8.1" text-anchor="end" fill="#444">0.000</text><text x="421.8" y="596.9" font-family="Liberation Sans, sans-serif" font-size="8.1" text-anchor="end" fill="#444">−0.005</text><g font-family="Liberation Sans, sans-serif" fill="#444" text-anchor="middle"><text x="476.0" y="645.5" font-size="9.4" font-style="italic">π</text><rect x="473.1" y="650.6" width="5.8" height="0.9"/><text x="476.0" y="662.4" font-size="8.6">6</text></g><g font-family="Liberation Sans, sans-serif" fill="#444" text-anchor="middle"><text x="528.0" y="670.0" font-size="9.4" font-style="italic">π</text><rect x="525.1" y="675.1" width="5.8" height="0.9"/><text x="528.0" y="686.9" font-size="8.6">3</text></g><g font-family="Liberation Sans, sans-serif" fill="#444" text-anchor="middle"><text x="621.6" y="650.3" font-size="9.4" font-style="italic">π</text><rect x="618.7" y="655.4" width="5.8" height="0.9"/><text x="621.6" y="667.2" font-size="8.6">6</text></g><g font-family="Liberation Sans, sans-serif" fill="#444" text-anchor="middle"><text x="651.0" y="620.3" font-size="9.4" font-style="italic">π</text><rect x="648.1" y="625.4" width="5.8" height="0.9"/><text x="651.0" y="637.2" font-size="8.6">3</text></g><g font-family="Liberation Sans, sans-serif" fill="#444" text-anchor="middle"><text x="677.5" y="594.2" font-size="9.4" font-style="italic">π</text><rect x="674.6" y="599.3" width="5.8" height="0.9"/><text x="677.5" y="611.1" font-size="8.6">2</text></g><text x="429.7" y="625.5" font-family="Liberation Sans, sans-serif" font-size="8.6" text-anchor="middle" fill="#444">0</text><text x="585.8" y="690.1" font-family="Liberation Sans, sans-serif" font-size="8.6" text-anchor="middle" fill="#444">0</text><text x="495.2" y="670" font-family="Liberation Serif, serif" font-size="11.5" font-style="italic" fill="#333">ρ</text><text x="656.5" y="656" font-family="Liberation Serif, serif" font-size="11.5" font-style="italic" fill="#333">ζ</text><g font-family="Liberation Serif, sans-serif" fill="#333" font-style="italic" text-anchor="middle"><path d="M401.8,516.9L398.3,522.2L401.8,527.6M414.9,516.9L418.4,522.2L414.9,527.6" fill="none" stroke="#333" stroke-width="0.75"/><path d="M404.4,516.1L406.4,514.4L408.4,516.1" fill="none" stroke="#333" stroke-width="0.75"/><text x="403.0" y="525.3" font-size="13.2" text-anchor="start">T</text><text x="413.2" y="517.7" font-size="9.2">ρ</text><text x="410.8" y="528.3" font-size="9.2">ρ</text><text x="421.2" y="519.3" font-size="9.2">ζ</text><text x="421.2" y="528.3" font-size="8.2" font-style="normal">0</text></g>
</svg></body></html>
